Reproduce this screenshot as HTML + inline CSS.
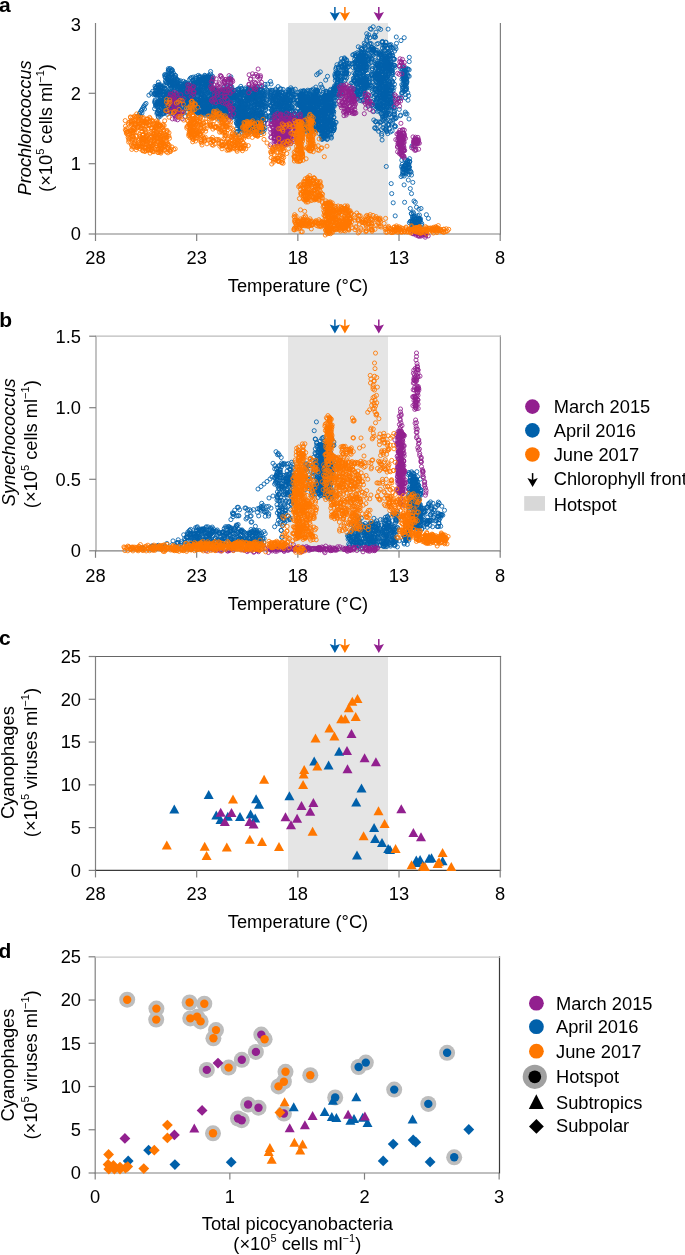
<!DOCTYPE html><html><head><meta charset="utf-8"><style>html,body{margin:0;padding:0;background:#fff}svg{display:block;will-change:transform}text{font-family:"Liberation Sans", sans-serif;fill:#000}</style></head><body>
<svg width="685" height="1255" viewBox="0 0 685 1255">
<rect x="288" y="23" width="100" height="211" fill="#E5E5E5"/>
<line x1="95.50" y1="23.00" x2="95.50" y2="234.60" stroke="#808080" stroke-width="1.2"/>
<line x1="94.90" y1="234.00" x2="501.00" y2="234.00" stroke="#808080" stroke-width="1.2"/>
<line x1="500.40" y1="23.00" x2="500.40" y2="234.60" stroke="#808080" stroke-width="1.2"/>
<line x1="88.70" y1="234.00" x2="95.50" y2="234.00" stroke="#808080" stroke-width="1.2"/>
<text x="81.00" y="240.30" font-size="18.3" text-anchor="end" >0</text>
<line x1="88.70" y1="163.70" x2="95.50" y2="163.70" stroke="#808080" stroke-width="1.2"/>
<text x="81.00" y="170.00" font-size="18.3" text-anchor="end" >1</text>
<line x1="88.70" y1="93.30" x2="95.50" y2="93.30" stroke="#808080" stroke-width="1.2"/>
<text x="81.00" y="99.60" font-size="18.3" text-anchor="end" >2</text>
<text x="81.00" y="30.60" font-size="18.3" text-anchor="end" >3</text>
<line x1="95.50" y1="234.00" x2="95.50" y2="241.00" stroke="#808080" stroke-width="1.2"/>
<text x="95.50" y="263.60" font-size="18.3" text-anchor="middle" >28</text>
<line x1="196.68" y1="234.00" x2="196.68" y2="241.00" stroke="#808080" stroke-width="1.2"/>
<text x="196.68" y="263.60" font-size="18.3" text-anchor="middle" >23</text>
<line x1="297.85" y1="234.00" x2="297.85" y2="241.00" stroke="#808080" stroke-width="1.2"/>
<text x="297.85" y="263.60" font-size="18.3" text-anchor="middle" >18</text>
<line x1="399.02" y1="234.00" x2="399.02" y2="241.00" stroke="#808080" stroke-width="1.2"/>
<text x="399.02" y="263.60" font-size="18.3" text-anchor="middle" >13</text>
<line x1="500.20" y1="234.00" x2="500.20" y2="241.00" stroke="#808080" stroke-width="1.2"/>
<text x="500.20" y="263.60" font-size="18.3" text-anchor="middle" >8</text>
<text x="298.00" y="291.60" font-size="18.3" text-anchor="middle" >Temperature (°C)</text>
<line x1="334.9" y1="7" x2="334.9" y2="15.0" stroke="#0060AA" stroke-width="1.5"/>
<path d="M329.70,12.00 L334.90,13.80 L340.10,12.00 L334.90,21.00 Z" fill="#0060AA"/>
<line x1="344.9" y1="7" x2="344.9" y2="15.0" stroke="#FF7700" stroke-width="1.5"/>
<path d="M339.70,12.00 L344.90,13.80 L350.10,12.00 L344.90,21.00 Z" fill="#FF7700"/>
<line x1="378.8" y1="7" x2="378.8" y2="15.0" stroke="#92208F" stroke-width="1.5"/>
<path d="M373.60,12.00 L378.80,13.80 L384.00,12.00 L378.80,21.00 Z" fill="#92208F"/>
<marker id="maB" viewBox="-3 -3 6 6" markerWidth="6" markerHeight="6" refX="0" refY="0" markerUnits="userSpaceOnUse" overflow="visible"><circle r="2.05" fill="none" stroke="#0060AA" stroke-width="0.85"/></marker>
<polyline points="138.6,115.8 139.5,113.5 140.5,112.0 141.3,110.5 142.3,109.0 143.2,107.5 144.0,106.0 145.0,104.6 146.0,103.4 140.5,116.0 142.0,113.0 144.5,109.0 152.6,91.4 151.1,93.4 148.9,95.2 153.8,94.7 156.3,95.3 154.6,93.8 160.9,114.5 157.4,112.4 155.4,88.0 161.2,108.7 162.5,109.3 164.1,89.0 154.6,102.2 158.6,88.6 156.6,90.7 158.7,84.6 165.2,111.2 159.3,104.1 155.8,105.2 160.3,116.2 162.7,101.8 164.9,91.8 160.8,100.3 158.6,88.1 155.1,101.0 164.4,99.4 155.6,94.6 161.9,101.5 163.2,94.5 157.9,104.2 163.4,95.6 162.3,104.3 158.2,95.1 160.2,87.1 155.8,106.5 159.8,90.7 156.8,86.7 162.2,103.6 160.6,90.0 158.7,110.3 156.7,92.9 158.0,85.3 160.8,84.9 162.7,94.8 157.3,89.8 158.6,117.4 155.1,100.0 159.7,99.7 160.8,101.8 158.3,82.2 159.0,109.7 159.3,87.0 157.6,102.0 165.6,89.1 159.8,91.3 156.9,92.6 157.6,106.3 165.9,112.4 165.1,105.8 164.1,85.9 163.4,102.3 158.2,116.3 160.4,104.3 163.8,113.2 163.1,113.8 162.7,97.7 159.6,103.5 162.9,95.2 161.0,103.6 157.7,112.8 158.9,103.9 157.9,102.2 162.7,91.5 161.1,107.9 156.8,104.1 157.3,95.1 162.2,105.6 162.9,99.3 165.1,105.8 159.4,104.0 157.3,94.3 155.6,94.6 158.0,102.9 155.0,86.3 158.6,92.8 155.3,90.6 160.4,97.7 156.9,104.7 162.8,87.8 163.4,90.8 161.2,98.0 164.3,94.3 155.6,104.5 164.4,88.2 154.5,93.5 162.4,114.0 159.7,85.1 163.1,92.2 162.4,100.3 158.7,110.9 164.4,112.1 164.6,109.9 162.2,102.7 161.3,100.2 164.7,107.8 158.6,114.3 158.3,94.5 159.5,101.1 156.7,87.9 159.7,99.8 157.1,106.1 161.7,91.6 161.8,88.3 162.1,101.3 163.7,106.9 156.1,87.5 161.6,104.5 162.2,103.9 162.8,103.7 160.2,91.8 160.8,98.1 159.3,103.6 167.3,114.3 163.2,109.0 157.4,103.7 156.9,113.6 163.3,93.0 161.1,90.6 161.2,86.9 158.7,89.7 159.4,103.6 159.1,87.1 165.2,96.2 164.9,97.9 161.5,86.5 157.9,93.3 158.7,92.3 159.8,113.7 155.2,103.0 158.7,92.7 163.2,113.0 154.6,108.7 160.4,109.6 157.5,85.5 165.2,102.0 158.3,111.2 160.1,94.9 172.2,100.6 169.9,81.0 178.6,102.4 177.3,84.3 172.1,109.5 171.9,99.8 170.9,104.6 165.8,82.4 175.4,110.0 167.4,93.6 168.1,98.3 168.3,108.1 179.3,102.6 165.3,77.5 177.7,98.1 175.0,111.5 172.2,110.0 168.7,74.9 171.5,87.1 173.9,84.2 171.1,71.6 168.5,111.8 169.1,103.0 176.3,103.1 178.5,106.1 171.0,100.2 176.0,102.4 173.7,107.9 165.4,80.9 169.1,104.5 169.5,100.1 178.8,106.7 179.6,91.0 178.4,112.4 180.3,99.1 180.5,98.3 169.2,110.9 174.5,96.7 171.0,79.8 177.4,112.7 166.9,78.4 171.3,112.6 172.6,84.5 174.2,109.5 164.9,76.4 176.7,99.4 173.7,83.8 177.4,99.8 170.2,89.0 170.8,108.2 165.7,84.7 168.0,93.9 168.9,73.1 174.8,83.7 175.3,102.5 177.5,111.2 168.8,78.7 171.3,88.0 178.0,80.6 169.3,102.4 166.1,100.5 176.6,97.4 170.3,109.0 172.6,105.4 177.5,87.2 169.6,105.8 172.9,111.0 167.8,104.9 171.2,81.5 174.9,102.6 167.2,79.0 173.0,83.2 175.3,77.2 176.3,85.5 177.1,104.0 170.6,99.7 174.5,107.2 171.2,74.6 171.0,82.2 179.7,101.8 178.8,108.5 177.7,110.6 169.8,106.9 176.2,81.7 171.7,106.1 174.8,97.5 173.3,85.7 175.7,110.7 174.1,87.0 166.1,97.8 171.8,78.7 177.5,98.9 177.9,102.2 177.7,112.6 173.5,109.2 177.4,103.0 166.4,106.4 175.2,111.8 173.0,92.0 173.2,76.6 168.9,80.7 170.2,68.4 170.1,97.7 167.3,107.7 174.7,87.7 171.9,70.8 174.8,85.1 168.1,97.0 166.5,105.0 178.8,85.8 177.6,109.5 166.5,94.4 168.3,102.9 178.2,80.8 176.2,104.6 169.7,85.0 166.8,96.4 173.9,109.7 172.2,73.3 171.6,74.0 174.4,87.2 176.9,92.0 166.7,86.2 170.8,103.2 166.3,100.0 174.3,94.6 178.3,111.6 169.5,98.3 170.8,93.1 173.1,93.9 179.6,87.3 169.4,104.0 178.8,89.2 176.9,112.9 168.8,76.1 173.6,81.9 170.1,81.7 168.5,80.6 179.3,86.7 177.4,85.4 166.1,109.8 168.7,94.1 176.0,99.4 168.7,82.5 170.3,85.0 172.6,93.2 171.2,106.9 171.4,91.3 169.3,111.4 171.0,101.4 174.1,83.0 168.2,71.0 172.1,98.8 173.0,109.3 170.7,83.1 177.4,88.3 174.7,80.3 174.0,77.4 166.7,82.0 178.5,104.9 171.9,74.3 172.2,112.7 169.3,77.2 179.5,87.4 168.0,98.4 168.1,96.6 177.5,96.2 175.4,106.5 172.1,85.9 168.6,102.0 168.5,77.2 180.8,91.4 169.6,99.1 177.9,87.2 177.0,103.0 174.5,106.4 169.4,100.6 172.0,93.1 166.3,99.7 166.3,74.9 170.1,74.0 168.3,92.4 171.9,69.5 175.2,75.5 172.8,105.9 170.4,102.1 172.0,83.6 178.3,92.3 175.5,94.1 169.6,80.4 178.2,111.3 173.3,80.4 174.8,91.3 179.6,99.6 175.3,94.4 171.9,109.1 175.6,75.5 164.7,74.7 168.5,92.5 177.7,82.0 171.6,81.1 176.6,98.3 177.5,82.7 173.1,108.8 169.2,96.8 173.9,86.1 178.5,105.0 179.5,94.9 170.8,84.9 170.0,107.2 168.4,68.7 170.9,82.0 165.1,74.9 166.9,82.4 172.0,86.9 176.9,95.7 177.1,79.7 170.4,101.2 177.2,79.4 169.1,92.3 174.9,101.4 172.5,85.1 167.4,105.4 175.6,98.8 179.9,92.9 169.0,111.6 178.0,103.2 178.2,96.7 167.4,91.2 172.7,108.2 170.9,71.0 170.4,91.8 172.4,70.4 179.1,81.3 167.8,77.3 173.3,102.3 173.8,97.6 174.4,79.1 180.2,93.5 173.5,73.1 168.2,79.4 173.7,83.2 171.9,79.9 179.3,100.8 175.4,78.0 174.4,101.4 172.3,100.6 181.1,91.1 173.0,111.2 176.6,100.4 174.3,82.0 171.1,113.5 169.3,69.8 167.4,79.9 167.0,75.2 174.1,97.6 171.9,80.0 173.2,104.1 179.5,95.1 175.3,112.9 177.8,99.1 174.4,111.7 175.9,99.1 176.2,86.8 172.8,96.8 168.4,70.1 169.8,98.9 168.9,92.6 171.0,96.4 173.9,100.1 176.5,82.6 187.0,90.8 185.7,103.2 186.3,105.2 186.8,90.7 183.9,83.9 190.1,87.6 186.9,99.6 184.5,102.9 185.7,99.0 183.4,81.3 194.0,105.2 192.6,102.3 182.0,102.8 185.7,97.5 182.0,98.5 180.0,92.0 189.8,87.1 187.9,92.8 186.0,83.7 180.8,88.1 188.0,88.2 189.2,96.5 189.0,88.0 187.0,88.8 182.6,93.5 184.4,88.6 181.8,86.5 181.2,94.8 183.3,92.1 181.8,105.6 183.7,90.5 179.8,83.7 184.9,104.2 183.7,90.5 179.7,97.7 184.9,83.8 191.4,99.1 187.9,84.4 189.2,84.6 179.5,87.8 188.6,87.1 188.3,100.3 184.8,102.5 192.4,84.2 185.9,91.4 186.8,103.8 181.0,87.7 184.4,93.2 178.8,83.7 185.4,82.3 188.6,91.0 185.5,82.6 184.7,85.2 179.7,94.4 180.7,99.1 188.1,96.1 184.3,96.1 180.2,94.2 187.5,102.0 185.2,100.9 187.4,97.7 186.5,99.6 180.8,89.6 180.7,87.8 189.2,90.6 188.4,102.3 184.4,94.2 182.8,92.9 180.3,92.0 183.0,94.6 183.4,88.2 187.0,84.7 191.5,88.1 188.3,85.3 182.3,94.1 191.4,100.6 187.6,104.6 181.2,84.2 191.6,101.1 183.9,98.0 179.6,94.2 184.9,89.8 187.1,92.0 182.7,94.7 193.0,87.8 188.0,93.7 181.4,89.5 187.7,90.7 182.1,91.6 189.9,88.2 187.9,97.9 190.3,86.6 182.1,104.3 180.5,80.8 188.5,102.1 183.4,90.7 185.3,102.8 190.0,88.5 187.9,96.8 185.0,92.1 183.5,86.2 187.9,83.6 189.0,94.0 189.1,89.8 183.3,97.1 186.6,84.3 184.9,100.6 185.9,93.9 191.1,87.3 189.7,94.4 183.9,89.6 181.7,85.8 189.0,100.5 183.3,85.1 189.8,99.3 189.8,95.8 190.9,86.4 186.9,96.5 187.6,92.9 187.6,98.1 188.0,88.5 193.1,88.0 188.2,87.2 188.4,102.2 193.9,101.0 191.6,88.0 187.4,85.0 184.4,88.6 182.9,88.9 186.6,102.0 181.7,102.2 190.5,94.3 183.3,89.6 189.6,101.2 182.9,86.4 184.4,86.3 183.0,94.1 186.1,86.9 190.8,109.7 181.8,106.7 187.0,112.3 185.5,108.3 192.6,105.7 182.3,111.5 183.0,106.6 190.7,108.0 187.8,111.9 179.5,107.9 182.3,112.6 184.3,103.9 186.5,106.7 189.1,115.8 185.2,116.6 192.0,104.3 191.8,109.8 182.9,111.7 187.0,108.8 190.7,109.5 193.5,99.9 200.8,90.7 204.6,96.4 201.4,96.6 198.1,86.5 199.2,81.6 196.6,82.5 192.6,104.1 192.9,98.7 210.7,93.0 199.8,93.1 199.9,76.2 203.3,78.5 201.0,104.8 205.1,77.4 198.2,110.9 207.9,103.3 208.2,77.1 200.9,114.3 205.2,108.7 204.0,103.7 198.9,101.6 199.5,77.3 201.8,95.4 204.4,102.7 203.8,106.1 199.0,103.2 201.6,94.2 198.8,80.6 198.6,89.8 198.9,112.6 199.3,91.0 202.3,102.7 196.7,98.8 193.0,106.9 209.5,80.1 195.2,108.3 191.8,102.7 196.7,107.5 208.7,99.8 203.2,108.0 191.5,110.7 203.9,113.8 202.1,100.6 208.7,98.6 205.8,78.0 197.8,85.7 207.0,91.9 192.1,107.3 196.1,78.6 203.6,107.6 198.2,81.3 202.9,89.1 192.9,84.5 192.9,92.2 192.9,101.6 201.3,107.8 198.8,83.2 205.0,75.9 194.5,93.3 207.6,104.1 199.7,90.5 207.9,80.9 205.3,110.2 196.1,92.0 207.4,103.1 205.1,111.2 194.1,83.7 206.4,77.2 198.0,91.2 207.6,76.9 200.9,90.2 193.8,91.6 192.7,105.3 205.4,94.5 206.5,110.4 196.9,110.7 198.2,105.8 194.6,85.5 200.3,105.1 192.3,99.5 207.9,99.2 200.8,108.3 198.7,112.6 206.8,102.1 196.8,86.9 198.7,77.1 198.6,99.5 209.2,110.2 201.0,112.0 207.6,87.9 194.5,84.1 205.6,100.9 197.9,90.5 201.3,97.4 200.3,82.7 204.4,94.2 198.4,82.4 208.1,113.4 200.1,92.0 207.0,108.6 200.9,98.2 197.3,88.4 194.8,88.8 204.1,100.8 193.9,82.8 206.4,105.3 197.7,91.7 205.4,109.4 206.4,112.7 207.5,106.3 205.7,93.5 202.6,79.4 193.8,109.7 205.8,112.3 196.1,92.2 208.6,101.1 207.2,112.0 206.2,89.1 198.0,112.8 193.5,103.8 205.2,98.6 201.0,109.2 199.0,79.1 205.0,115.3 195.7,76.7 193.4,106.1 198.1,82.5 203.8,111.8 202.9,101.0 199.0,95.5 192.6,108.0 191.3,77.6 206.6,106.2 190.9,82.8 203.0,112.4 195.3,88.9 204.0,107.0 203.0,84.5 203.0,99.0 201.9,93.5 198.5,103.4 194.6,94.0 192.1,94.3 202.0,87.1 194.1,89.5 202.2,82.9 204.2,108.1 194.2,87.8 196.8,107.2 193.4,90.0 202.2,80.7 192.5,86.3 205.7,101.3 202.4,99.7 200.7,112.9 206.6,85.8 203.9,98.7 208.5,109.6 207.2,108.0 194.1,88.2 193.8,109.1 198.7,101.9 193.5,89.2 201.8,112.7 195.6,111.9 198.7,84.0 204.5,103.5 200.6,79.3 194.3,105.9 207.2,111.7 203.8,106.1 209.0,84.1 193.5,84.3 205.0,85.6 194.8,98.4 205.8,86.1 205.1,79.9 198.3,104.0 204.6,103.7 202.3,84.3 195.1,108.7 197.2,100.8 203.6,78.9 203.4,102.2 197.2,95.8 205.6,83.1 207.0,78.9 208.8,79.8 196.1,108.6 195.9,111.6 200.0,79.5 193.3,82.6 196.3,99.8 207.4,89.6 205.3,91.1 211.5,111.7 201.5,83.2 207.4,107.3 204.9,98.7 195.2,83.0 200.8,94.2 195.7,99.7 204.3,85.1 205.2,106.8 196.3,114.3 209.7,105.9 205.8,85.5 198.4,86.5 193.8,108.0 203.6,83.7 202.6,107.1 204.7,96.4 191.4,105.5 193.2,77.1 205.5,78.7 202.8,83.2 199.6,83.4 192.6,94.1 206.5,99.9 193.5,90.3 203.4,101.4 195.0,107.7 203.0,103.7 204.2,88.2 203.2,78.7 198.4,92.7 200.5,101.4 198.2,100.2 197.9,86.4 207.3,107.7 205.0,100.5 205.1,99.9 207.7,91.8 198.6,107.2 204.1,80.6 201.1,80.7 207.8,109.4 194.7,101.0 205.2,97.3 197.5,103.9 207.2,89.7 194.3,97.1 208.3,76.9 198.6,89.2 202.3,93.7 204.5,99.7 199.9,80.1 206.2,110.8 201.2,103.3 198.4,87.4 207.2,93.8 199.2,105.8 194.7,91.9 208.3,110.9 192.9,80.4 197.5,112.8 204.3,103.4 203.5,83.7 193.5,99.9 206.4,79.8 207.2,84.0 197.8,102.5 195.8,106.7 195.1,78.2 196.9,97.3 202.6,106.5 197.3,91.6 191.6,109.9 204.6,77.3 199.5,91.2 201.3,95.1 202.0,103.9 200.8,87.5 208.7,106.8 208.8,96.3 190.5,78.2 200.8,113.1 202.3,83.0 198.9,103.1 203.4,96.1 201.6,112.5 200.4,108.5 205.2,109.2 203.9,111.3 194.7,88.9 208.4,100.8 205.4,111.4 203.6,103.6 206.2,92.8 209.1,96.1 192.7,80.4 200.1,96.4 196.0,109.5 191.4,103.6 199.1,91.5 202.3,83.4 208.3,86.5 205.3,91.1 194.7,79.9 204.6,114.3 195.4,81.4 193.9,93.3 205.6,107.2 206.3,113.6 205.3,81.7 201.0,97.8 197.5,107.9 205.6,76.8 202.4,90.3 204.0,81.1 201.4,105.5 203.7,86.9 204.8,87.2 200.7,89.5 198.2,84.5 201.7,83.4 209.3,104.2 200.2,77.3 191.8,92.5 208.2,78.9 199.8,91.4 193.4,86.3 201.8,84.9 199.7,113.8 203.3,103.3 204.5,98.1 203.5,76.9 203.1,86.7 208.1,77.1 189.6,79.4 198.3,75.4 194.0,104.5 204.7,75.3 209.2,82.9 211.1,84.6 211.7,82.1 207.3,77.9 206.5,83.6 210.6,71.5 210.6,81.7 206.4,86.4 210.5,88.1 207.6,78.9 207.8,77.1 205.8,81.0 209.2,86.5 211.0,80.7 206.9,81.3 210.0,83.0 211.5,77.4 206.8,86.1 212.4,76.1 208.5,86.1 208.6,75.4 211.8,79.8 210.5,74.0 211.3,80.2 211.4,77.7 210.2,85.2 211.6,82.1 209.5,78.7 212.0,80.1 208.3,83.8 211.0,83.6 209.3,76.4 210.8,77.3 210.8,81.0 235.1,113.8 212.8,106.1 221.1,92.5 231.3,97.4 217.9,98.5 222.5,114.8 224.6,104.8 218.8,113.9 214.3,91.2 210.0,100.5 219.4,114.0 214.8,113.5 229.1,105.9 208.9,99.7 213.4,102.5 220.3,102.0 210.9,111.3 224.9,111.8 221.1,95.1 218.8,111.5 223.9,113.7 213.9,117.6 218.0,96.7 219.8,112.4 232.2,94.9 210.3,95.0 223.8,106.5 236.7,96.0 231.4,108.0 235.6,97.6 214.5,93.3 223.3,97.5 221.2,91.0 231.8,99.2 221.7,93.1 223.5,90.9 218.6,117.2 217.9,97.1 231.1,98.1 220.4,106.1 236.4,113.6 215.1,109.9 218.3,93.5 227.5,116.2 211.0,98.8 229.4,102.8 219.8,100.7 221.5,100.6 224.3,89.7 217.4,114.3 215.7,95.3 221.5,112.6 217.6,100.1 231.6,97.4 207.9,102.1 216.8,99.9 208.7,111.4 219.2,107.4 230.8,116.3 214.7,93.9 226.7,110.4 223.1,114.7 209.2,111.2 232.1,116.3 224.0,90.5 215.8,103.7 232.0,107.3 215.1,113.4 219.2,102.2 225.4,100.9 216.3,91.5 216.0,113.1 230.8,91.3 214.6,115.9 221.2,111.2 220.5,113.5 223.7,93.1 215.7,109.0 224.0,102.0 224.4,103.1 223.8,95.4 215.2,96.8 220.8,104.1 220.8,106.5 211.0,112.1 236.2,109.5 212.1,101.0 228.7,108.6 235.8,92.5 214.5,111.0 211.6,103.4 233.6,101.7 213.0,117.1 226.4,103.6 229.4,99.4 213.6,98.8 224.9,100.8 234.2,96.9 216.1,108.0 222.6,91.1 228.4,95.1 229.7,86.6 230.7,107.9 223.7,104.6 211.9,94.6 225.7,112.8 223.6,106.5 210.4,101.8 211.8,116.2 231.0,107.0 235.0,94.7 229.4,109.2 224.2,108.2 230.3,103.7 213.6,108.5 235.8,112.8 219.5,96.9 232.9,92.6 213.7,102.9 225.3,114.1 216.7,108.6 224.1,107.2 209.5,91.3 219.9,115.1 228.2,115.1 234.0,99.7 224.5,89.9 232.9,112.0 231.4,95.6 220.5,101.4 226.1,100.5 219.8,99.2 210.0,110.4 217.1,98.4 211.9,92.0 209.0,106.5 212.5,109.5 216.1,95.3 232.2,90.1 224.2,116.0 223.5,104.6 218.2,109.3 222.4,98.0 211.2,94.6 223.5,109.3 212.5,106.8 220.0,106.1 229.2,109.4 233.8,95.1 225.9,109.6 213.2,92.8 232.4,111.0 227.4,115.7 220.4,107.6 213.2,94.0 223.8,110.6 229.2,100.1 211.2,102.8 233.3,114.3 226.4,107.3 225.5,90.3 224.9,109.4 228.2,117.1 212.0,106.0 233.4,97.6 232.8,106.0 235.0,90.5 234.1,116.9 222.3,96.7 229.4,92.1 215.9,101.4 221.9,109.1 223.3,117.0 226.3,106.4 216.3,107.9 218.7,99.8 221.0,112.5 224.9,90.5 219.7,115.8 215.1,92.3 234.3,97.0 236.5,96.6 213.1,110.6 219.9,97.9 213.9,89.1 217.5,105.9 236.0,96.0 220.7,93.3 233.2,97.5 224.6,96.7 212.6,114.2 222.0,102.9 230.4,112.5 227.9,91.3 210.3,98.5 217.6,93.1 210.0,106.1 233.6,103.5 232.7,104.3 220.6,106.9 211.1,102.4 231.6,117.7 217.1,91.2 224.9,111.4 211.4,112.2 224.9,113.1 232.3,92.8 234.5,94.3 222.5,101.3 221.7,109.1 234.3,116.1 216.8,93.4 225.8,91.8 214.4,89.2 232.4,106.5 221.1,118.7 225.6,108.3 230.5,109.5 222.5,97.3 219.3,119.1 213.2,104.8 212.1,105.0 213.5,110.5 223.6,96.4 234.1,90.3 211.7,97.5 228.2,96.7 225.3,95.9 208.6,114.1 208.9,107.8 210.4,109.1 235.0,115.1 211.7,97.7 214.2,104.2 228.8,95.1 235.7,96.1 219.0,111.7 238.0,109.9 214.4,92.4 231.0,110.4 219.8,115.1 226.5,91.9 229.9,111.7 237.0,98.3 234.3,113.6 219.4,90.9 219.0,97.5 213.2,110.1 231.8,104.1 234.7,115.9 237.2,99.9 225.4,96.6 217.4,112.6 217.4,92.6 216.3,112.1 219.9,115.5 235.2,106.7 225.0,103.1 231.7,88.9 216.9,90.7 212.5,105.0 216.0,98.4 224.0,100.4 213.6,93.4 211.8,89.7 231.2,114.5 221.0,105.1 214.2,114.9 223.2,98.0 211.8,100.4 226.2,95.9 208.6,104.9 233.2,109.5 232.9,113.7 216.2,91.8 216.5,99.5 229.3,100.6 229.2,91.5 215.4,116.0 226.3,95.1 217.9,90.0 215.7,100.9 232.9,106.2 221.7,97.8 217.0,92.6 228.5,102.0 223.5,92.3 211.2,113.8 215.4,106.9 215.2,90.1 209.1,100.9 225.5,108.1 231.2,115.0 216.9,110.2 221.6,94.8 222.1,103.9 211.6,108.9 234.1,98.5 214.1,113.5 236.9,96.5 212.7,117.3 210.0,116.7 209.3,103.6 231.8,96.4 213.8,97.7 221.7,113.1 223.5,103.3 222.8,92.8 226.1,112.6 214.0,88.0 224.6,104.3 225.5,113.4 223.2,99.9 226.4,101.7 229.0,96.9 227.3,97.2 226.0,114.5 216.5,99.5 210.6,112.3 211.9,97.4 237.8,115.1 234.2,94.1 231.4,108.0 226.6,107.5 209.1,115.7 228.9,101.8 208.8,103.3 219.5,98.7 219.2,96.3 215.9,109.8 213.5,90.0 232.2,109.2 219.3,104.2 233.8,103.7 221.9,112.5 234.0,108.2 220.4,108.8 229.9,100.2 219.0,104.4 212.5,95.7 211.1,110.0 210.8,90.4 219.9,111.8 208.1,110.7 226.9,109.1 226.3,94.9 235.2,95.0 226.3,116.3 221.4,91.0 221.2,114.4 222.4,99.4 221.5,92.0 218.8,111.1 213.8,89.9 230.5,92.7 227.5,99.3 226.9,103.5 223.9,92.8 219.9,104.7 226.4,90.3 234.4,115.2 229.1,99.9 213.3,89.5 229.7,101.5 230.7,108.5 217.8,104.3 236.8,99.5 230.2,97.5 224.3,97.7 234.2,97.4 226.9,93.0 225.3,101.3 213.2,114.7 226.7,85.6 228.4,81.5 224.4,86.4 225.8,87.0 231.8,87.0 230.7,85.8 230.3,78.5 230.8,76.8 260.0,131.2 238.2,121.5 245.8,130.0 251.5,102.2 261.7,123.9 247.3,91.1 243.2,126.5 245.6,95.7 254.5,105.8 242.7,115.0 257.5,107.0 250.3,126.3 254.2,90.6 254.1,125.9 244.0,115.2 250.4,128.9 258.0,113.4 261.7,122.9 244.0,98.9 245.6,100.4 239.5,125.4 241.9,130.4 251.0,114.9 243.3,103.6 252.9,123.8 256.2,98.3 261.3,95.9 254.4,125.5 260.4,116.5 244.6,113.4 261.6,95.7 244.7,106.8 241.3,94.3 249.9,129.8 252.0,92.4 251.3,93.2 261.8,121.4 242.0,105.8 261.0,113.0 240.1,122.2 259.8,124.8 253.9,131.8 256.9,93.5 261.4,98.9 241.9,103.0 244.3,118.5 248.7,115.5 238.7,100.1 249.8,123.9 253.5,127.6 253.1,115.6 255.7,116.9 245.3,104.6 248.8,114.5 240.4,123.4 249.2,93.5 238.0,89.3 241.6,108.7 265.0,127.5 240.9,93.3 244.9,109.4 238.2,103.8 247.8,87.8 243.0,113.7 253.4,94.5 238.2,99.5 262.8,105.0 250.1,95.5 262.0,100.9 247.2,117.8 249.5,98.5 258.1,88.8 240.1,109.1 262.7,98.8 242.7,120.7 248.5,121.8 237.2,94.0 262.6,127.6 242.2,113.1 244.4,108.9 237.6,123.6 259.4,94.9 245.9,112.5 242.0,88.6 248.8,118.2 249.8,132.3 249.2,88.0 262.7,108.5 238.1,124.2 253.4,128.8 256.1,109.8 258.4,100.2 252.4,98.6 245.2,103.7 245.9,97.5 263.4,129.0 246.6,96.6 263.7,93.8 235.7,106.4 248.9,118.7 252.1,115.6 238.7,121.0 247.6,128.4 241.8,89.9 256.1,130.2 254.0,114.0 239.2,93.8 255.2,102.9 251.8,128.2 237.5,111.1 239.1,88.3 248.0,115.8 260.7,119.3 260.2,113.4 241.4,111.8 260.8,112.7 253.7,119.7 252.4,97.6 237.3,131.8 255.8,113.5 254.1,90.4 238.9,124.2 254.8,96.7 255.3,116.2 256.8,98.4 238.8,90.2 236.4,132.5 253.5,119.9 241.6,88.5 254.1,97.5 239.8,106.5 255.0,89.9 247.6,122.0 247.6,100.3 253.1,124.7 237.9,99.1 249.0,94.9 250.1,109.2 260.3,113.2 248.0,117.5 239.6,102.7 241.5,126.3 255.2,118.3 242.9,105.4 246.0,111.9 262.9,106.6 245.6,104.6 254.1,110.6 256.1,92.6 236.7,128.9 241.3,129.1 250.3,94.6 238.6,134.4 244.5,111.9 245.4,89.5 237.5,92.5 242.2,113.6 262.9,131.6 262.3,120.5 248.5,104.2 248.8,91.1 259.1,123.5 241.4,101.2 248.2,89.0 247.0,108.1 242.7,120.5 246.6,93.8 258.2,103.4 261.1,89.7 252.5,110.1 247.6,104.0 246.9,126.3 254.7,123.3 238.7,108.1 257.2,93.0 243.1,116.2 263.2,119.8 250.8,95.6 264.3,122.8 264.1,94.2 259.7,86.3 239.9,127.2 241.3,104.0 250.0,107.0 249.2,95.4 248.6,130.3 237.8,117.8 258.6,104.5 261.4,89.1 259.2,96.5 240.9,123.0 244.7,124.5 253.8,96.2 263.6,115.6 246.1,126.0 252.7,95.2 260.7,102.0 261.6,105.8 260.7,116.8 245.3,114.1 259.6,115.4 260.9,123.2 238.7,116.8 239.2,109.1 250.2,131.9 250.1,90.2 238.9,118.4 239.8,97.8 247.9,100.3 261.1,132.4 242.5,111.0 247.6,90.9 246.8,116.0 251.8,121.2 257.6,92.4 254.6,108.4 239.5,108.3 248.8,96.0 240.8,86.4 255.1,88.9 247.0,127.9 248.8,118.6 235.2,116.5 240.9,118.6 257.8,123.7 243.9,97.9 238.5,111.8 257.3,125.6 236.7,104.4 256.7,112.7 242.9,116.5 249.0,120.5 251.8,96.9 264.3,130.1 256.8,91.3 254.7,93.6 240.3,101.5 263.1,95.7 246.3,98.3 259.5,124.4 244.5,119.3 261.1,123.5 243.6,101.4 237.1,131.5 254.2,131.1 243.2,92.1 237.3,106.3 255.5,92.2 259.2,115.1 260.5,90.2 241.1,118.3 252.5,114.2 239.4,122.8 239.6,91.9 246.1,121.3 249.5,103.6 240.6,119.6 259.8,100.6 254.7,126.5 241.6,132.2 254.9,113.2 252.3,99.2 243.8,104.6 258.8,124.1 239.4,119.4 248.4,106.9 264.6,105.2 258.9,89.6 238.8,113.2 247.3,131.3 244.0,106.1 251.0,106.2 249.0,130.2 249.7,88.9 240.2,98.8 257.0,89.9 254.2,111.2 246.5,106.9 237.6,113.3 256.1,127.5 244.6,114.1 264.3,87.0 265.9,119.5 257.3,97.4 240.4,129.5 245.3,95.2 245.9,93.2 238.7,126.0 238.3,115.5 241.9,91.3 237.0,89.6 262.7,98.4 252.2,102.6 236.1,121.4 253.2,97.1 262.4,92.5 245.3,125.0 239.0,94.4 266.0,120.1 237.7,125.8 256.8,92.9 254.9,120.5 235.7,111.9 254.2,104.5 242.3,115.0 253.4,123.5 254.5,112.1 247.5,130.0 258.7,128.3 258.6,99.6 251.4,113.2 240.7,101.8 262.0,128.7 235.8,114.4 248.7,97.1 245.0,118.7 251.7,102.8 261.0,115.1 249.8,101.5 241.0,128.2 245.8,87.9 259.8,108.3 257.1,106.8 262.1,96.6 256.7,93.0 259.2,110.1 247.7,100.7 247.4,120.3 256.6,89.8 254.7,126.9 251.2,107.0 237.9,120.4 238.3,108.0 248.4,119.9 239.7,112.8 241.5,124.5 240.6,117.7 240.3,106.5 250.0,113.7 238.4,101.5 247.7,112.0 246.8,102.3 256.0,114.4 247.0,97.4 253.1,119.8 237.7,107.4 245.2,104.0 258.6,117.3 259.3,95.8 243.6,91.8 236.8,123.2 246.3,117.3 247.2,109.1 244.2,119.7 249.5,118.4 262.9,91.5 259.7,129.3 258.1,104.8 244.5,117.1 254.8,101.6 252.6,112.1 259.7,112.4 259.8,129.6 246.1,111.5 255.5,128.6 262.2,93.0 263.9,102.5 248.2,128.5 242.8,117.9 250.0,126.0 237.1,119.3 242.2,94.5 259.9,127.3 247.5,126.0 261.7,110.6 258.9,101.0 248.5,89.2 245.9,126.5 241.0,126.7 254.2,108.1 246.3,129.0 256.6,104.1 245.1,126.4 257.7,95.6 251.9,121.9 239.4,120.3 239.2,111.8 243.6,110.4 262.4,94.1 259.5,94.3 247.5,128.9 251.5,116.8 257.5,115.4 259.0,115.2 242.1,118.6 251.0,92.0 244.9,101.9 241.7,101.4 249.6,128.8 251.8,97.3 257.3,110.9 241.1,92.8 243.7,99.8 261.0,117.0 256.8,107.1 248.3,106.4 261.3,102.4 259.9,103.2 255.5,121.8 235.9,106.8 252.8,115.2 242.8,105.9 260.8,122.7 240.1,127.3 254.5,98.5 260.9,127.8 258.1,131.9 242.4,125.0 263.4,116.6 240.9,106.6 255.4,98.6 243.6,130.4 239.3,113.5 262.1,93.9 241.3,118.2 243.9,110.0 249.0,123.5 254.5,125.4 249.5,118.3 240.6,97.4 248.5,130.0 254.0,104.5 242.5,98.2 241.0,110.1 259.7,114.9 235.5,105.7 262.6,128.1 263.2,100.7 251.4,92.1 257.3,103.8 256.1,130.7 250.5,107.9 255.0,129.2 261.7,103.4 260.7,125.7 239.8,106.7 250.9,107.3 236.7,114.3 257.3,107.6 244.1,122.1 258.5,107.5 239.4,100.9 248.8,100.3 254.9,93.4 241.2,92.8 251.8,119.4 243.2,98.6 260.6,105.0 260.5,89.9 251.7,127.9 252.0,98.6 239.9,117.1 256.3,127.7 261.1,119.5 255.3,110.3 249.2,91.1 249.0,126.6 264.4,98.5 246.2,123.0 241.5,108.8 262.1,104.4 249.3,114.3 257.5,105.4 255.5,115.1 243.2,110.2 249.9,121.0 245.0,106.3 240.9,106.1 238.2,105.2 251.8,109.6 248.5,120.3 255.4,89.4 243.1,110.8 254.1,129.2 246.9,100.1 264.4,94.6 236.8,114.1 257.4,96.5 240.1,110.2 242.8,92.9 250.5,129.2 266.4,89.5 259.1,120.7 236.5,123.4 241.4,114.6 262.8,91.2 247.5,95.6 246.0,117.9 259.4,130.0 248.8,127.8 243.0,108.7 254.3,119.4 240.2,103.2 239.1,98.4 261.3,117.8 240.7,94.6 255.4,104.7 255.4,88.0 240.3,107.1 256.5,90.1 240.7,122.2 262.2,120.4 263.8,95.5 261.4,121.8 249.3,111.1 254.4,97.6 261.8,120.1 253.9,108.8 244.1,108.3 254.7,116.2 257.5,94.0 259.6,130.6 244.8,114.8 240.2,117.0 259.9,102.1 241.8,104.3 261.8,115.0 253.3,94.7 247.2,114.4 245.2,92.0 255.1,89.7 254.1,121.2 251.2,110.6 248.3,102.9 259.6,129.4 246.4,126.2 246.5,92.5 257.3,87.2 247.1,98.9 261.8,92.8 253.5,118.6 240.8,92.9 255.3,101.0 236.3,106.1 256.9,112.1 257.2,100.4 244.3,130.3 252.3,88.7 255.6,125.6 245.7,107.6 262.4,112.8 242.3,123.1 253.6,100.6 242.8,110.5 237.5,110.3 258.1,107.8 247.2,95.2 241.6,102.8 261.8,129.3 251.7,125.5 248.4,96.0 259.3,104.7 256.1,120.1 253.8,92.4 262.7,102.3 244.5,92.1 255.1,103.7 262.6,100.9 245.4,100.6 239.8,111.6 253.4,126.4 262.0,98.7 250.0,115.2 239.7,109.8 255.1,126.5 260.8,118.7 255.7,99.7 247.7,114.6 252.1,128.8 254.9,101.1 251.8,114.8 243.9,113.8 248.7,121.9 250.6,120.5 262.8,118.4 248.6,110.4 248.0,90.0 252.4,96.9 255.6,90.3 254.7,95.3 252.8,105.6 251.9,116.0 242.6,92.5 244.3,115.2 256.2,122.7 245.9,106.8 250.1,89.4 243.6,110.5 263.6,122.8 262.1,108.3 240.7,93.9 256.4,122.7 253.5,101.9 246.2,109.4 249.1,98.3 244.8,112.1 249.7,118.9 254.0,130.6 259.5,98.6 256.5,89.3 259.1,99.2 249.4,102.1 269.9,97.8 266.7,99.5 265.1,88.1 270.3,95.3 268.8,103.7 270.4,96.0 270.1,90.1 265.1,84.4 265.5,94.6 268.0,96.7 270.2,102.3 263.9,105.6 271.3,96.9 268.0,92.0 267.8,84.1 265.5,92.5 263.2,98.1 265.9,107.1 270.5,81.5 267.7,90.6 266.8,101.0 265.0,103.4 270.1,92.1 266.9,98.7 271.1,84.0 270.6,105.8 265.7,103.3 263.8,110.4 269.2,116.6 266.0,106.1 263.6,119.4 265.3,110.1 268.8,108.1 270.3,116.4 269.4,117.9 265.7,116.3 265.3,114.2 264.8,107.2 273.1,108.1 265.7,114.8 269.0,115.9 265.9,109.3 276.8,104.4 271.3,91.6 272.6,102.8 290.6,100.1 281.7,115.2 282.2,119.5 278.5,103.6 275.1,96.5 285.7,96.7 291.4,111.3 292.9,94.0 279.4,100.3 288.8,104.5 277.8,115.6 274.2,120.1 275.5,114.0 288.4,108.3 281.0,101.7 271.8,100.4 281.6,96.3 284.9,99.4 275.4,117.3 276.7,91.9 289.0,102.6 287.4,101.1 285.8,118.9 278.2,96.5 289.7,118.1 291.2,119.2 275.9,107.0 284.3,119.6 283.5,100.1 286.1,109.5 281.6,122.5 277.8,92.0 279.3,112.8 290.3,102.0 275.9,103.7 278.9,103.3 285.2,97.4 275.9,106.9 289.9,102.7 284.2,111.6 272.7,118.4 272.7,112.5 285.4,94.1 274.1,96.1 280.8,116.0 292.2,105.0 281.0,102.6 294.8,117.6 280.7,112.7 287.1,106.4 287.9,99.5 284.0,116.6 274.6,110.8 293.0,121.6 286.2,121.0 273.9,106.3 285.1,102.4 273.9,119.6 288.9,91.7 277.7,115.5 272.1,109.4 288.7,118.0 282.9,111.3 273.6,96.2 279.8,92.5 284.9,102.8 281.2,120.6 290.1,118.7 273.6,96.4 275.6,89.0 271.5,98.3 273.5,96.8 285.1,97.6 273.7,113.3 278.8,97.4 278.9,104.1 278.3,94.5 286.4,102.7 285.4,104.4 285.9,111.6 291.7,118.1 288.0,108.2 286.2,119.0 272.8,101.0 279.0,110.7 279.9,105.3 284.6,97.9 283.5,113.9 272.8,110.7 275.7,114.5 272.5,102.5 276.7,96.4 281.4,100.1 271.4,92.4 275.7,100.3 278.3,93.2 287.0,103.2 279.1,107.0 282.5,98.0 280.6,98.8 287.9,92.0 277.5,104.1 282.1,120.2 284.0,109.5 272.4,120.6 275.3,93.1 277.7,109.9 280.4,99.2 290.8,87.8 281.2,109.7 288.2,108.3 288.6,90.2 284.0,115.1 274.7,101.7 287.3,105.3 283.5,117.5 273.5,113.7 289.7,100.0 282.5,103.6 280.4,105.2 290.8,100.4 285.1,97.1 288.0,89.5 284.6,107.0 277.1,94.6 286.9,110.5 284.6,121.7 284.8,105.3 288.9,119.5 279.3,116.5 280.1,110.2 286.5,107.4 288.8,108.5 273.6,101.2 283.5,110.1 283.1,108.6 276.7,105.4 275.8,91.8 282.3,106.3 287.0,98.4 280.2,102.8 277.9,97.4 280.0,104.9 272.8,112.2 283.0,89.3 287.6,95.0 283.6,106.7 273.9,107.0 285.1,101.8 270.1,105.4 278.7,94.6 272.5,90.4 286.4,107.2 282.7,105.6 278.0,120.6 280.2,88.6 289.8,90.2 287.8,120.6 288.3,94.1 285.8,113.0 278.9,106.9 286.2,101.4 271.9,110.2 281.7,120.4 281.8,118.8 287.3,97.7 275.9,101.9 290.1,108.5 272.1,107.3 275.7,99.3 289.9,90.0 290.0,107.9 281.2,104.8 276.6,99.2 273.0,103.8 276.2,112.4 290.2,116.3 276.7,116.3 291.3,110.9 287.1,102.4 271.9,97.8 280.7,121.6 282.8,98.5 287.7,112.5 281.2,112.5 288.9,92.8 288.0,110.3 270.9,115.1 291.7,90.7 272.8,100.2 285.7,110.3 273.1,110.8 279.0,93.3 270.8,96.1 279.9,112.3 281.5,116.1 285.2,120.2 274.8,106.9 291.6,118.7 282.5,96.1 270.6,93.3 290.1,117.1 274.5,109.3 273.6,123.0 292.0,89.2 292.1,107.8 281.1,92.4 273.8,114.2 282.5,111.1 270.7,105.3 287.2,99.9 279.7,95.3 279.0,110.3 277.5,96.9 286.1,114.7 280.3,112.1 282.8,118.7 287.7,112.2 280.7,106.7 274.9,118.3 287.6,113.2 282.2,105.9 287.2,109.9 273.8,94.0 272.4,113.0 283.1,110.3 291.8,106.8 291.5,96.5 278.6,94.4 272.6,96.0 281.0,103.0 278.1,86.6 271.5,110.3 276.2,96.7 278.5,105.3 288.1,115.2 278.4,118.7 281.0,89.1 290.8,100.7 284.9,110.6 284.8,95.5 271.8,119.6 290.2,97.7 276.0,103.7 282.7,113.5 282.2,114.1 289.2,108.7 290.4,121.7 292.6,96.7 292.2,107.0 280.5,95.3 285.7,92.2 274.3,107.1 283.8,101.6 285.9,112.7 276.6,94.7 279.7,116.2 278.0,106.7 282.7,116.5 288.8,115.2 278.4,98.4 275.6,100.3 290.9,105.9 276.2,95.2 279.8,107.9 291.1,107.8 287.6,106.5 285.9,98.1 273.2,99.0 286.7,99.9 273.7,98.5 284.5,100.3 288.1,94.6 281.9,91.8 282.6,122.7 285.0,97.7 273.7,112.1 278.8,97.6 271.4,90.4 285.5,94.8 275.4,90.1 279.4,101.4 292.7,92.4 276.2,101.5 291.2,114.8 290.9,115.4 283.1,93.3 277.3,100.6 279.7,95.3 293.3,110.9 279.8,106.5 288.7,93.0 288.1,97.8 288.8,119.8 278.7,109.1 282.1,101.2 276.5,104.3 280.8,114.2 288.4,117.2 283.4,119.7 289.3,104.0 283.2,93.5 277.9,91.9 279.0,100.6 281.2,112.3 290.4,93.1 274.0,118.9 285.4,102.9 282.1,100.3 288.8,103.8 279.4,107.0 279.0,97.5 289.2,119.3 284.3,112.7 275.1,93.0 280.7,103.3 295.6,110.8 296.0,103.1 297.5,101.3 296.7,100.2 291.9,116.4 298.8,103.4 298.2,100.1 297.3,104.2 293.0,94.7 295.9,118.9 292.2,100.7 299.3,92.8 295.3,89.2 294.1,113.2 293.2,99.6 298.7,104.5 296.6,116.6 293.5,96.9 293.1,99.5 298.0,114.4 297.3,100.4 293.3,90.5 297.6,104.8 296.3,119.3 293.1,112.0 301.1,107.1 295.8,114.2 294.6,94.7 296.5,117.7 292.9,118.9 298.1,92.3 294.9,94.9 299.9,116.5 293.7,94.6 295.8,111.4 328.9,95.4 312.6,127.7 333.9,128.5 333.8,111.5 332.4,109.0 313.8,109.7 301.9,93.5 306.5,99.7 320.3,101.8 303.6,123.0 329.5,104.2 322.3,114.9 317.8,127.6 312.3,115.7 321.4,97.4 329.4,125.6 302.1,107.3 315.7,125.5 307.8,125.3 303.9,107.4 333.5,113.3 322.0,94.7 329.5,103.4 310.0,123.7 301.1,106.1 321.3,106.6 331.9,115.5 318.4,114.0 302.8,107.6 320.2,125.6 306.3,122.2 317.8,91.0 329.1,109.0 310.8,108.5 333.3,121.3 303.4,127.5 317.5,128.2 302.9,97.0 332.1,110.5 317.6,90.2 323.1,107.7 309.9,95.6 316.1,113.3 304.4,105.3 301.0,99.2 302.0,103.6 324.8,119.7 325.7,129.6 317.6,116.1 313.0,95.2 313.0,96.6 307.5,127.6 304.8,130.3 305.8,130.0 332.8,111.4 306.7,112.3 305.9,101.2 329.1,130.1 323.9,110.2 302.3,102.8 301.8,108.7 321.7,127.7 323.1,125.4 307.6,94.6 312.4,115.1 323.8,101.0 327.9,97.0 310.0,90.6 307.3,120.0 307.2,111.5 308.1,111.7 303.0,120.4 326.3,104.6 328.0,122.6 330.7,120.5 326.9,110.9 316.7,119.0 332.6,125.7 316.2,90.0 301.8,122.7 334.7,124.9 317.6,112.3 311.2,102.0 309.1,100.8 321.8,113.5 321.3,116.0 330.2,122.6 333.5,130.5 317.2,91.6 310.6,108.9 320.9,102.9 336.1,122.4 305.7,119.9 317.7,107.1 317.1,116.9 302.2,95.0 315.3,96.3 304.1,120.3 325.3,108.5 334.2,128.3 325.0,95.2 334.0,104.3 324.5,97.4 325.9,130.6 330.9,116.4 331.7,103.6 297.7,108.7 312.1,103.4 316.6,113.2 324.3,115.9 309.5,119.7 325.2,95.2 321.5,119.6 324.1,99.6 312.0,120.3 330.6,129.6 315.7,91.7 323.6,109.2 332.1,110.8 304.3,127.2 301.6,115.0 324.3,118.5 335.2,100.2 325.1,129.6 311.3,119.1 324.5,109.4 330.6,89.4 308.6,118.4 304.1,117.2 321.3,115.6 303.8,101.0 301.7,122.2 331.4,97.7 300.5,98.6 317.4,103.9 331.4,92.0 312.7,108.1 302.9,104.0 330.7,106.1 326.7,95.9 302.5,97.2 316.0,126.1 316.0,96.6 311.0,107.5 303.4,104.5 304.1,91.0 313.6,119.6 317.0,130.2 301.8,118.9 313.3,130.5 326.1,91.2 334.0,117.2 316.8,118.1 314.6,113.3 300.8,106.2 312.4,111.0 325.0,107.1 331.1,97.8 311.6,95.8 317.1,121.7 302.5,92.6 313.3,89.0 325.6,112.0 315.0,119.3 304.4,109.8 314.5,108.3 315.0,94.7 331.5,123.2 315.0,117.6 315.5,97.7 310.9,100.1 332.6,120.4 316.1,125.7 307.5,127.9 328.7,104.9 322.1,119.0 324.9,116.0 299.2,118.7 329.2,127.1 319.0,99.0 305.5,122.1 317.4,90.6 311.5,111.1 324.8,122.3 300.8,94.6 328.4,121.1 311.1,132.8 330.4,90.6 327.2,126.9 325.1,101.2 313.5,109.1 317.2,112.2 318.2,97.0 325.4,113.4 304.1,100.5 334.3,128.6 314.6,117.8 322.6,112.0 317.0,92.0 306.6,91.2 322.6,88.6 314.9,122.7 332.3,125.3 327.8,116.2 315.5,99.1 315.8,90.1 323.0,127.2 324.9,131.9 300.2,130.6 318.4,125.1 327.5,96.6 310.8,101.9 324.6,130.6 302.4,109.3 316.8,101.9 318.7,116.3 309.5,109.5 309.4,94.0 300.7,91.1 310.3,108.7 331.7,126.9 325.7,123.7 314.2,129.8 313.8,117.0 315.5,97.4 310.6,94.9 332.0,107.9 309.3,101.6 316.7,129.6 330.6,117.2 331.7,94.2 302.0,91.4 315.7,123.8 301.3,116.1 301.8,106.2 311.9,119.2 315.5,94.6 306.0,131.2 307.8,90.2 327.4,104.6 309.1,121.8 314.1,102.3 325.0,131.1 301.7,115.6 326.7,97.7 328.7,114.2 299.8,101.3 311.7,109.0 312.0,130.8 316.1,122.7 314.3,93.7 305.1,113.0 299.7,94.8 332.7,95.1 312.9,113.2 313.2,97.0 300.7,118.6 304.0,96.8 331.5,129.1 311.7,126.7 330.2,107.0 322.7,102.8 307.1,109.5 330.6,96.7 323.1,111.7 303.7,99.7 315.7,112.0 304.7,123.3 330.0,93.3 332.8,91.9 333.5,123.3 308.4,120.0 312.7,101.8 336.1,103.8 334.2,106.5 321.6,122.3 311.0,103.3 314.2,96.1 307.5,129.6 316.9,106.7 307.5,100.4 322.2,112.2 330.4,95.4 327.3,117.1 325.9,91.3 309.2,131.3 311.4,90.1 313.0,127.8 311.7,105.3 325.8,100.2 308.3,105.8 311.1,111.3 324.8,118.6 333.5,117.5 329.8,106.9 302.5,122.5 330.7,95.8 327.3,108.5 327.3,116.9 302.7,113.5 332.9,131.0 304.1,90.9 312.4,90.7 326.9,103.6 307.4,114.0 303.8,123.7 312.1,101.2 310.7,128.8 333.6,124.8 306.5,125.3 319.6,130.0 315.5,121.7 306.7,130.4 302.3,113.1 322.2,111.4 328.3,128.4 313.6,123.0 317.1,112.7 333.2,103.0 325.7,99.3 302.4,106.6 304.9,102.8 323.1,92.5 318.2,100.2 322.2,110.1 308.6,118.4 306.8,104.4 302.4,123.7 317.8,99.4 307.1,108.3 311.7,95.9 303.1,102.2 316.3,114.1 329.9,110.5 306.5,118.7 302.8,120.1 306.4,126.4 312.2,105.3 324.9,122.1 315.2,111.7 334.6,97.6 322.3,129.8 327.3,121.3 305.2,98.1 329.1,125.7 322.7,123.2 333.5,98.1 316.3,96.4 322.7,104.8 326.1,120.9 307.0,96.9 317.9,100.1 312.2,111.3 315.0,97.3 328.7,120.1 311.1,130.0 304.1,104.9 308.7,117.5 333.8,89.7 324.9,117.6 325.4,95.8 302.2,104.3 335.3,122.1 309.2,131.3 308.0,118.0 309.7,131.4 311.5,124.6 311.3,91.9 315.6,128.3 306.7,113.9 329.2,92.4 302.9,90.9 314.4,121.3 322.5,101.6 324.2,112.8 303.9,104.2 307.6,96.1 302.2,96.7 321.8,109.8 333.1,123.3 306.0,93.1 327.9,122.5 321.8,113.9 305.0,126.0 324.9,109.9 317.9,106.8 307.3,94.4 334.0,126.9 326.2,93.2 308.0,108.9 330.1,125.5 321.0,115.4 325.5,105.0 320.7,127.1 316.6,92.5 306.5,93.8 318.8,125.7 307.6,120.1 331.1,105.8 318.9,104.6 329.9,126.3 305.7,92.3 321.9,94.1 319.1,103.2 328.5,111.1 326.3,93.1 307.2,113.2 332.6,111.1 303.7,96.0 328.3,131.4 320.1,130.3 306.8,101.5 307.3,107.8 321.2,109.9 315.4,109.1 317.1,112.1 307.5,99.2 315.6,101.9 304.5,110.5 309.5,107.0 325.0,98.7 312.3,127.6 321.6,118.7 309.6,118.1 300.2,105.3 314.8,113.5 322.3,101.7 318.2,120.0 312.9,130.5 302.0,97.9 298.6,113.8 305.1,107.8 300.2,94.5 303.9,117.5 330.7,102.0 308.1,101.9 319.8,119.0 317.8,99.2 326.4,92.2 309.2,119.6 319.6,121.4 317.7,96.5 333.8,105.8 302.5,99.5 325.3,118.3 311.1,108.2 310.8,113.3 327.2,122.2 305.4,123.4 317.1,92.5 322.0,114.8 301.4,123.7 311.3,100.1 312.8,109.2 321.7,110.5 325.0,109.9 307.8,122.6 334.3,101.9 299.8,105.8 300.3,120.7 300.3,102.6 302.1,119.0 324.8,124.7 300.8,105.7 305.8,96.9 311.3,129.6 301.6,105.6 310.2,123.1 320.1,104.2 309.6,110.3 311.4,121.5 307.3,114.1 308.2,121.9 303.8,104.2 299.6,111.0 308.8,108.7 308.3,116.4 304.1,125.6 313.8,122.8 302.0,96.2 317.0,101.9 301.0,96.1 316.2,120.4 311.8,122.9 307.5,109.1 313.5,101.0 315.4,98.4 306.8,116.5 303.6,122.5 307.1,105.5 313.2,119.6 316.7,114.3 304.0,113.1 307.6,120.8 302.0,124.4 303.4,106.6 313.1,117.1 307.2,112.1 311.7,96.9 304.9,109.6 313.4,105.1 304.3,118.7 300.4,103.0 317.1,97.4 305.6,97.8 301.9,120.8 301.2,118.9 299.2,104.1 308.4,125.0 316.5,98.9 319.4,113.1 315.2,120.0 313.0,103.1 309.6,112.1 306.9,119.4 302.4,106.0 309.1,112.5 306.3,101.1 300.9,98.9 310.2,122.0 309.2,121.9 302.7,108.0 306.9,120.9 318.2,96.0 313.4,118.4 308.8,107.6 303.4,116.6 303.3,108.9 314.4,115.4 318.3,118.4 310.1,99.9 301.4,122.6 305.0,117.9 302.1,94.9 313.5,101.8 313.9,96.2 302.1,96.1 315.5,97.0 314.5,124.4 313.7,107.0 305.3,97.6 304.2,111.5 316.9,106.7 313.6,99.9 313.5,120.1 306.9,106.5 312.5,121.2 315.7,112.0 305.1,120.7 311.7,101.8 315.3,107.9 303.8,98.9 313.0,117.5 302.8,121.6 299.6,103.2 301.1,100.7 300.3,97.0 309.3,120.7 310.5,121.8 315.2,111.5 302.2,107.6 317.2,99.6 305.9,118.5 314.9,110.2 315.2,103.0 302.5,95.2 300.3,113.8 303.7,105.7 318.5,125.5 300.7,99.7 309.5,99.1 308.1,119.7 300.3,111.5 314.1,99.6 317.9,123.3 309.0,102.2 319.7,107.8 300.5,100.2 321.3,115.7 312.2,100.3 306.0,119.1 308.7,102.7 308.7,112.0 310.4,107.0 299.7,95.1 304.7,98.8 303.4,115.7 311.8,117.2 318.5,125.5 308.4,112.5 305.6,108.3 304.6,110.8 305.0,110.1 305.7,112.1 306.2,105.5 315.1,118.6 311.0,121.3 312.7,110.5 315.6,103.3 311.5,101.0 315.6,97.6 302.7,122.2 316.0,105.9 306.5,105.3 300.5,101.1 321.9,102.6 319.8,113.0 299.5,95.6 310.1,101.7 307.1,110.3 311.2,103.5 311.7,98.3 314.7,102.5 299.9,95.8 300.7,122.8 304.6,102.8 309.4,122.8 310.8,118.4 317.1,101.0 317.3,109.5 315.1,100.5 301.2,110.1 317.6,108.7 310.5,104.3 316.0,116.3 317.7,104.5 319.2,117.0 313.7,116.4 303.0,108.4 315.3,117.4 318.7,102.4 308.0,99.6 319.5,120.6 309.2,123.2 308.5,125.2 315.2,112.5 316.4,96.1 315.6,121.6 307.7,112.4 308.2,113.1 316.5,104.9 316.3,103.3 315.8,120.8 308.2,110.1 304.0,111.8 300.8,111.4 309.6,106.6 315.3,115.0 314.7,101.4 299.8,98.0 313.4,114.7 308.5,119.8 300.5,96.0 318.3,100.1 320.1,98.4 330.4,98.3 323.7,100.1 323.8,116.8 322.5,130.8 325.3,111.9 326.8,117.4 327.4,99.5 329.8,99.1 332.1,105.9 329.8,123.8 322.3,133.1 325.3,108.7 319.4,113.3 328.2,135.1 325.3,121.6 331.4,106.4 322.0,137.1 330.5,119.9 324.1,120.5 322.6,104.6 323.4,111.5 323.7,99.1 321.9,102.1 325.2,113.1 331.4,138.0 324.1,114.3 317.5,118.4 327.2,102.5 324.9,106.1 326.4,105.4 323.6,132.0 321.5,123.9 327.5,132.5 331.2,130.7 324.7,115.9 324.9,127.1 330.7,99.4 321.8,129.7 330.1,108.8 327.6,110.6 325.6,127.3 326.3,98.5 325.6,96.3 331.4,124.9 326.9,127.5 322.1,102.0 321.5,133.4 325.2,106.3 328.2,121.0 325.5,138.1 325.8,115.3 324.3,113.9 317.3,107.1 330.1,107.1 331.2,102.8 328.5,105.9 325.9,103.3 327.7,120.5 325.5,99.1 322.1,138.9 322.8,112.7 319.7,101.9 328.2,112.2 329.8,121.7 330.0,134.2 319.0,129.5 325.2,107.3 326.3,124.2 319.2,115.4 326.6,135.4 329.2,105.9 320.4,128.4 324.3,116.8 323.6,135.8 328.0,113.4 322.3,123.3 324.2,130.6 329.6,107.9 321.6,119.4 322.1,128.3 325.7,134.9 331.2,102.4 324.0,108.9 331.4,130.4 323.7,124.9 331.4,113.3 322.0,129.8 325.2,111.3 323.9,137.5 324.6,113.9 322.3,101.8 326.9,95.8 319.9,120.7 330.0,99.5 322.0,131.8 318.9,133.4 325.7,105.5 331.4,115.3 326.5,124.1 321.0,122.9 325.5,105.8 319.3,124.8 331.5,134.0 325.2,122.5 324.8,134.9 324.1,124.8 322.0,139.5 330.9,99.9 326.0,111.4 323.8,110.3 327.5,130.5 329.9,120.6 323.5,137.4 325.2,133.7 325.2,130.0 325.1,137.0 331.1,109.7 323.2,138.7 330.2,135.6 327.2,97.2 326.1,129.2 323.9,96.6 327.4,138.7 320.9,116.4 333.7,130.4 331.0,119.0 325.1,135.0 321.2,124.4 329.9,130.5 319.2,99.2 326.3,119.4 320.8,112.8 325.7,104.8 325.1,109.0 321.6,108.1 327.5,107.6 324.9,108.0 321.2,136.4 330.5,112.5 331.1,136.9 330.9,105.8 320.6,126.1 327.0,139.5 328.8,97.2 323.3,134.1 327.2,127.6 322.8,96.8 324.9,103.2 331.1,119.0 327.5,132.6 320.9,113.2 324.8,130.4 323.4,98.4 325.9,99.8 323.5,97.3 325.7,100.4 322.6,129.6 323.4,120.8 324.5,133.7 325.9,119.1 327.5,119.1 330.6,110.5 332.8,106.3 326.3,136.0 322.2,136.6 323.5,121.1 316.6,74.8 318.3,73.4 321.8,87.0 327.5,76.3 325.7,80.1 320.7,84.4 315.9,87.1 320.3,71.9 333.7,93.8 337.7,76.0 346.7,73.0 344.4,57.9 338.1,72.9 336.0,86.9 338.4,89.2 338.5,66.7 342.1,73.0 346.6,73.9 346.0,60.0 340.1,76.6 349.2,63.2 331.4,97.0 342.3,66.4 333.8,90.8 337.5,81.8 341.5,58.6 340.4,80.9 347.2,63.8 340.1,93.6 346.7,77.7 338.4,79.2 346.9,63.5 348.6,73.7 333.9,90.6 346.1,70.9 335.8,69.1 334.2,90.6 340.6,79.3 341.5,87.2 336.6,73.3 339.2,87.1 344.3,73.9 332.2,92.5 337.6,83.3 339.7,88.7 338.8,94.0 337.2,85.3 343.8,64.6 339.3,80.8 338.1,80.2 342.1,69.9 343.3,84.8 342.3,92.6 336.9,88.9 345.4,80.0 334.4,89.7 335.0,76.0 337.4,82.3 343.7,69.1 345.0,64.6 341.2,80.6 335.5,94.1 336.6,97.6 340.9,63.3 344.5,65.2 341.1,82.9 335.7,96.3 336.8,85.5 345.2,65.7 347.7,67.1 344.6,58.8 334.7,87.8 339.1,96.1 338.3,73.1 345.3,73.2 344.6,67.1 335.8,93.6 345.4,67.6 334.2,92.7 339.1,73.2 344.7,59.2 346.5,68.9 336.4,73.3 346.1,73.7 346.9,65.2 340.9,77.0 337.4,72.8 339.0,89.4 345.0,76.6 345.3,88.0 337.2,74.8 333.2,88.7 333.7,94.8 338.4,67.9 334.5,85.9 340.6,92.5 336.9,78.3 335.4,77.1 344.3,73.8 335.9,72.0 340.1,64.5 337.6,94.0 344.3,81.3 346.0,70.5 345.6,72.5 343.0,67.7 335.0,87.6 337.2,94.7 349.2,63.8 336.3,67.4 346.6,59.9 346.6,73.0 335.3,80.5 334.1,92.2 341.6,85.4 329.5,98.0 341.9,65.7 340.8,62.3 335.8,86.2 338.1,73.5 336.0,84.8 336.2,89.0 335.3,87.2 343.6,74.2 334.9,74.3 336.9,79.7 341.1,95.4 342.7,76.3 344.0,70.6 338.0,72.7 342.9,60.8 341.9,67.1 345.1,77.1 336.0,88.6 337.0,64.7 346.0,72.5 340.7,78.5 341.0,66.8 338.5,68.2 335.5,76.8 348.7,66.8 333.3,88.5 382.0,58.7 372.3,58.8 371.2,48.8 385.9,90.2 369.1,85.7 365.0,52.6 386.5,87.9 381.0,103.9 364.4,58.6 386.7,90.1 358.4,60.8 364.1,61.9 389.1,59.5 373.7,51.5 367.6,87.6 357.5,84.1 377.6,73.1 363.7,91.3 350.9,101.7 358.5,83.6 352.7,54.9 352.1,97.2 382.1,84.9 377.4,74.3 351.1,83.3 355.6,61.7 370.6,49.4 381.1,54.6 350.4,88.4 354.3,89.2 357.1,95.4 378.9,52.6 357.2,98.6 355.6,67.1 363.3,83.3 380.4,93.2 363.7,68.9 386.7,100.7 374.4,75.7 377.3,50.5 377.2,75.8 364.8,77.9 365.1,70.5 361.6,90.8 363.8,85.9 367.3,76.3 391.3,106.6 366.1,67.7 364.9,64.3 381.1,54.8 361.2,65.0 372.1,88.5 361.1,85.4 355.1,91.6 381.0,65.8 394.5,111.0 372.2,68.7 385.2,95.8 378.7,66.2 368.8,82.3 354.3,81.5 387.6,67.0 371.6,101.3 389.6,82.1 382.4,70.8 380.2,64.3 361.9,66.9 382.8,73.7 369.9,78.0 378.5,106.7 380.7,52.0 381.6,100.7 358.0,72.9 380.9,82.8 358.0,87.6 359.7,100.5 354.6,90.0 389.5,87.3 351.9,63.7 360.0,93.8 364.8,62.1 393.2,102.0 379.0,57.8 392.3,86.3 367.3,79.9 361.7,59.7 367.8,59.0 361.7,85.1 375.3,52.5 350.2,97.5 358.7,56.2 391.8,107.4 374.7,84.8 383.2,107.0 360.6,47.9 353.8,72.8 349.8,89.5 375.0,73.2 357.9,81.3 387.9,90.6 354.6,93.4 381.7,83.4 367.6,59.3 377.6,105.7 386.6,63.6 365.4,47.3 368.9,57.1 379.8,54.4 380.4,108.0 357.6,67.9 394.5,84.3 368.1,106.2 356.6,60.2 393.7,107.7 371.8,52.4 359.0,68.7 364.1,56.8 377.8,70.9 373.9,96.5 385.8,68.1 389.9,84.4 381.5,58.8 390.3,90.0 382.6,94.7 373.8,93.1 378.8,83.8 371.7,74.5 390.2,71.2 390.6,102.4 372.3,90.7 373.4,54.8 355.0,63.4 366.7,84.4 360.4,59.6 372.4,50.4 389.6,56.2 372.6,49.1 355.8,61.1 387.2,60.3 369.1,64.4 360.7,86.3 367.3,53.5 376.8,85.1 384.4,50.4 361.6,63.7 368.2,50.2 378.3,71.2 382.9,97.8 359.2,95.4 379.3,92.7 364.1,90.6 358.4,59.7 384.4,80.7 386.5,94.7 372.5,68.9 367.4,73.3 379.9,107.0 355.1,56.3 349.4,94.6 391.0,65.0 375.9,53.8 353.7,54.7 373.4,48.7 365.5,80.3 365.3,48.9 364.0,62.8 355.2,74.6 376.1,101.9 361.6,49.1 370.2,57.1 380.3,79.1 372.2,75.7 384.4,72.6 363.5,79.3 360.4,73.4 362.0,82.8 371.4,59.1 358.3,53.8 362.9,100.2 363.6,81.6 389.1,64.8 388.6,107.3 353.4,78.3 363.0,59.4 374.9,80.4 384.0,98.7 391.2,90.6 359.7,80.7 386.1,56.4 356.6,76.0 353.2,67.6 375.6,52.4 371.5,73.8 362.7,71.6 379.7,91.7 377.0,79.5 378.8,57.3 377.4,65.1 393.1,65.1 368.6,60.1 367.7,60.9 365.7,55.5 366.9,83.2 373.4,106.4 363.8,92.4 373.7,49.7 384.2,93.8 385.8,73.0 381.4,53.0 370.1,84.8 375.4,90.3 380.7,81.6 357.5,88.1 376.2,73.3 363.6,78.4 371.3,58.0 371.8,70.3 372.6,53.7 390.6,102.6 384.4,94.9 372.1,102.3 359.8,83.3 392.3,98.4 359.4,94.8 362.1,70.0 379.0,94.7 387.4,57.1 367.2,83.9 365.8,68.0 374.9,77.8 367.2,53.1 373.9,48.4 373.2,49.8 383.4,81.1 366.9,83.7 383.1,93.1 367.5,101.3 374.9,103.4 377.0,89.0 379.8,104.0 360.8,54.5 372.1,52.6 359.0,73.0 368.7,76.6 385.5,101.1 357.8,58.0 391.0,55.2 386.1,58.3 361.4,58.8 387.9,70.4 364.6,85.5 355.0,77.1 358.6,61.0 389.6,74.4 353.7,80.9 380.0,87.8 389.5,81.5 387.4,102.8 371.5,85.8 358.3,46.8 354.6,59.4 372.1,47.4 382.2,61.9 371.7,86.4 376.7,53.0 381.7,81.9 360.6,67.1 372.4,104.7 353.4,88.7 381.1,60.4 391.8,74.1 380.1,105.1 380.0,96.7 377.0,99.0 389.7,103.3 368.7,58.5 387.3,64.2 372.1,74.8 394.6,107.8 390.3,98.9 382.1,90.1 361.7,100.9 386.3,95.2 391.0,62.4 381.4,74.7 381.9,71.6 388.9,104.4 381.2,77.3 371.6,105.5 375.3,105.3 381.2,69.1 380.4,109.0 386.5,89.8 361.1,84.4 370.0,49.3 370.7,95.6 393.9,78.4 378.6,76.6 389.6,103.8 369.8,44.2 361.4,49.2 363.4,100.0 369.8,82.5 369.6,58.6 391.5,87.5 369.0,78.8 352.7,98.9 392.6,67.2 365.8,65.2 362.6,48.6 372.7,82.1 381.2,83.3 369.9,87.8 366.3,66.4 355.7,55.5 379.8,65.9 352.9,84.5 364.2,46.0 361.2,80.8 389.8,90.7 362.6,80.7 386.0,78.3 375.8,49.9 352.1,82.7 358.7,55.8 380.1,55.5 388.8,101.2 392.5,81.9 371.2,62.5 386.4,87.3 385.8,74.4 388.2,68.7 385.4,75.6 363.6,56.1 358.7,82.6 376.6,74.7 383.4,87.2 381.3,61.0 383.4,97.5 394.3,101.0 386.7,106.9 391.3,86.6 356.9,81.8 362.2,56.0 361.7,59.8 359.9,80.4 355.9,55.8 360.6,68.9 365.7,87.8 361.1,58.2 361.5,82.5 360.9,51.8 361.2,96.6 360.1,97.3 355.7,89.2 357.4,52.6 356.1,83.4 363.8,76.7 360.2,85.6 357.5,72.6 356.5,62.6 362.7,57.4 362.1,56.6 357.5,78.4 358.6,53.8 356.9,77.8 363.2,52.6 363.6,86.0 364.9,94.9 361.5,76.2 364.1,88.8 353.9,79.2 362.6,61.7 356.0,78.0 357.2,64.2 356.9,83.0 361.4,58.8 358.3,70.3 364.1,69.0 360.5,65.1 365.4,96.5 357.4,69.3 356.3,68.5 357.3,91.3 356.7,72.0 366.1,56.5 364.0,66.4 359.8,55.3 364.3,51.9 358.7,66.0 354.3,80.3 360.7,78.8 357.5,92.8 358.3,60.1 357.2,62.7 366.3,86.4 366.7,66.8 362.3,80.8 362.6,74.9 360.7,90.5 366.4,76.8 366.2,69.4 366.0,79.0 359.8,62.1 358.7,93.1 354.8,62.2 364.3,88.1 356.6,76.8 352.3,63.9 361.3,60.5 355.5,73.2 365.8,82.0 365.0,64.4 357.4,63.0 365.6,77.6 362.4,63.1 361.2,52.7 363.3,91.1 366.0,96.4 360.4,59.4 361.7,53.1 365.2,70.9 359.0,91.5 360.1,56.1 360.9,81.7 354.7,90.2 368.0,66.9 366.3,70.3 363.3,72.4 361.2,54.0 360.7,73.9 354.8,96.5 363.4,66.3 365.7,53.2 359.6,80.2 361.4,79.0 366.8,87.2 362.0,59.7 364.6,59.2 367.0,84.9 362.2,80.6 359.9,56.0 355.5,96.7 362.4,87.6 365.0,84.7 359.0,59.0 367.1,85.4 363.2,82.9 358.7,60.4 360.6,67.7 365.9,85.7 359.5,64.9 364.0,64.0 364.1,55.0 357.9,86.7 361.1,58.0 365.3,61.2 359.0,57.0 366.3,64.1 362.4,52.7 367.0,82.1 358.8,88.5 354.1,81.3 358.1,62.6 365.2,59.8 369.1,63.1 368.5,95.8 356.9,69.7 363.8,74.5 363.8,56.4 360.7,92.1 355.8,80.6 358.6,69.7 362.0,80.6 356.1,66.3 366.0,96.2 364.5,86.9 353.9,63.2 363.5,72.2 366.3,78.6 362.6,58.5 360.3,92.2 360.6,56.5 354.8,92.7 362.4,72.5 366.0,80.5 359.6,76.0 359.6,94.6 362.2,55.3 365.0,70.2 363.5,67.6 355.5,67.8 365.3,82.1 360.1,60.6 365.5,96.4 365.1,91.4 360.6,66.9 364.0,53.5 365.2,86.2 356.2,94.6 361.0,82.6 355.2,53.7 362.5,60.6 355.5,74.9 363.0,80.5 357.7,63.7 356.8,83.9 358.3,59.3 360.9,86.6 361.3,77.6 356.3,97.6 356.9,95.9 357.5,90.3 364.5,88.5 363.7,65.2 382.4,109.7 385.9,83.3 382.4,86.0 386.3,86.7 390.5,103.2 373.6,73.9 386.3,106.0 381.4,98.2 388.1,84.0 383.1,68.5 381.3,97.0 385.2,67.5 383.6,69.3 375.5,105.9 380.4,98.3 380.8,87.8 385.7,97.5 377.7,74.6 389.6,69.1 387.1,84.4 375.4,94.9 388.2,96.2 385.9,88.4 385.1,84.1 375.1,89.3 377.3,65.7 389.6,64.0 381.3,92.4 385.3,97.2 382.9,86.4 382.3,68.7 384.1,106.1 387.4,62.3 390.2,107.6 386.3,87.6 379.4,107.5 383.6,79.1 377.6,97.0 385.4,74.9 386.3,66.5 383.9,92.5 387.7,67.8 384.2,93.8 378.2,71.5 391.2,70.3 389.2,85.6 374.8,89.7 388.0,85.0 385.3,90.1 379.9,77.7 391.9,70.5 393.1,95.7 381.9,64.8 386.2,78.0 382.4,74.4 379.9,83.3 375.5,95.1 386.3,95.8 376.9,88.5 375.2,67.4 378.5,73.7 394.1,65.8 389.1,82.6 377.4,75.4 390.6,93.7 392.1,70.9 381.8,97.4 386.2,94.5 378.4,74.4 389.0,67.4 380.7,81.8 377.9,98.4 379.3,63.1 377.0,73.0 387.8,67.9 384.5,88.0 376.5,85.8 385.3,78.3 388.4,89.7 376.7,61.8 381.6,108.4 387.6,104.0 382.5,100.3 378.1,108.5 390.8,64.9 376.2,68.6 384.4,105.6 378.8,84.2 386.7,110.5 392.9,72.8 389.4,96.6 378.8,89.0 375.2,60.7 391.2,95.7 386.4,68.6 385.5,61.5 381.4,105.7 377.2,76.0 378.3,66.3 387.3,77.0 392.8,82.1 383.8,66.8 380.3,88.4 386.5,71.3 381.9,104.1 380.7,71.6 377.1,78.5 376.7,91.7 379.2,89.3 379.8,71.1 382.8,105.5 376.6,82.6 387.8,62.3 391.9,88.1 387.8,94.1 378.9,92.7 385.6,77.7 387.1,79.5 380.4,72.5 381.9,77.8 387.2,83.1 379.2,80.2 392.2,92.1 383.2,76.6 384.6,102.5 393.2,90.7 390.2,69.1 382.3,86.2 377.6,78.2 382.8,102.8 386.6,99.3 385.4,66.8 386.5,94.3 375.3,78.0 378.0,106.0 385.4,91.6 392.4,106.2 390.5,91.1 386.9,107.4 374.5,62.6 386.5,104.5 388.2,80.6 384.5,82.7 391.4,93.7 377.5,78.2 381.8,79.5 376.7,63.3 379.3,89.5 392.5,74.5 391.0,75.5 377.6,97.5 377.2,105.5 392.1,88.0 389.3,68.5 377.6,107.6 383.6,96.2 376.1,78.2 382.5,73.8 389.3,71.1 378.4,71.0 375.7,89.0 383.7,99.2 381.9,68.5 381.8,65.4 376.3,65.5 380.2,78.6 380.3,76.5 387.6,88.6 390.5,80.7 382.7,102.6 387.3,100.3 378.0,75.4 378.8,65.0 391.8,80.5 376.2,100.0 375.6,64.1 382.5,79.7 388.9,67.9 381.2,62.3 390.4,96.9 385.4,99.6 391.5,102.7 394.0,87.7 388.9,74.1 377.1,106.9 385.6,93.5 387.0,90.3 379.2,69.7 387.9,63.5 380.2,95.7 380.5,101.8 384.5,105.5 386.6,99.5 379.6,103.1 387.8,76.0 377.7,67.8 377.7,63.7 385.9,96.7 379.7,94.4 378.5,67.8 380.8,79.5 382.6,97.3 377.4,99.4 386.7,89.9 391.5,101.8 376.0,81.0 380.9,82.6 388.4,100.0 378.1,76.7 381.3,101.3 376.4,73.2 385.2,64.8 376.1,100.8 387.9,75.4 387.5,102.4 386.2,86.1 379.3,83.5 377.1,107.0 383.6,98.0 375.9,94.4 379.0,73.6 381.5,85.1 387.5,100.5 384.4,88.8 389.3,65.4 384.1,65.6 384.5,72.4 384.2,99.2 383.9,107.7 389.3,97.2 383.7,90.6 392.0,72.4 390.9,92.8 382.4,63.5 382.9,82.0 389.6,69.9 387.6,73.3 386.3,77.7 372.7,78.3 380.1,90.3 384.1,109.5 386.1,92.9 379.5,87.0 376.5,98.8 375.1,74.3 383.9,95.4 387.6,77.0 392.5,97.9 382.0,84.4 391.3,96.8 386.4,77.5 386.9,68.9 383.2,78.6 392.1,70.4 390.8,103.2 389.4,65.5 382.4,47.9 373.8,36.8 368.7,34.9 366.8,40.9 371.2,29.3 371.3,43.8 369.8,37.7 366.7,39.1 366.7,33.7 374.8,37.2 380.6,29.4 382.6,41.5 378.8,28.3 365.4,44.5 378.0,43.6 374.7,35.2 371.9,47.5 368.2,45.2 381.9,41.9 376.8,44.1 364.2,43.2 388.1,29.1 386.2,42.6 367.4,36.8 370.3,28.7 376.0,32.2 373.2,26.8 385.1,45.8 370.0,43.2 375.5,37.0 384.3,56.3 389.5,52.5 379.9,53.1 385.9,69.0 392.9,58.1 394.4,65.1 390.3,45.9 390.7,63.5 390.1,65.7 387.8,57.7 381.9,54.9 388.0,53.5 387.0,48.3 391.1,47.4 385.4,50.6 390.5,69.3 383.8,62.0 382.8,45.2 390.9,44.6 395.1,67.3 394.8,65.5 385.6,66.3 389.7,54.0 383.0,52.1 384.6,66.4 386.4,62.0 385.0,61.1 389.7,45.1 393.8,59.5 392.3,55.5 389.5,65.5 390.9,64.2 385.4,58.9 383.9,45.1 392.0,53.0 385.7,42.1 390.2,55.8 385.7,56.2 384.8,59.8 396.0,48.8 387.9,60.3 390.9,61.8 388.1,58.5 385.5,46.1 382.5,42.4 390.4,50.5 386.4,58.0 381.8,56.9 383.4,68.1 383.7,59.9 386.5,57.8 390.6,47.4 395.4,46.9 389.4,45.4 387.9,51.7 383.7,59.1 390.3,63.6 386.9,52.7 392.7,55.6 394.6,51.1 384.5,64.4 386.2,58.4 383.1,54.0 393.7,58.8 388.2,65.9 393.3,48.2 387.9,60.1 384.3,47.4 387.8,67.7 388.6,51.5 386.0,57.5 385.2,45.1 383.7,68.9 375.0,128.3 387.0,131.5 386.4,128.4 381.2,121.8 375.3,121.7 390.5,109.3 385.6,115.4 373.7,111.6 380.1,122.7 376.7,129.0 382.1,140.0 377.6,111.4 391.9,117.1 394.6,126.9 378.6,131.3 386.3,131.0 392.1,130.9 395.6,126.4 378.7,110.5 381.7,133.7 394.7,125.6 386.1,112.7 376.2,121.5 384.6,117.4 381.7,135.5 386.1,129.8 389.4,129.0 385.2,129.5 381.3,129.7 373.8,120.0 393.9,118.4 382.7,115.6 391.7,124.8 383.6,124.7 387.7,133.6 374.8,127.7 386.1,126.1 383.0,127.6 390.4,131.9 388.9,125.1 387.5,113.0 377.6,124.2 384.5,119.0 385.9,109.7 388.8,120.7 393.2,114.4 380.1,111.3 394.3,114.8 382.5,117.1 386.4,116.0 396.3,117.8 390.1,114.4 394.0,112.2 382.6,119.6 392.6,123.5 386.8,114.4 384.8,110.7 388.4,109.7 386.0,121.0 379.1,121.9 394.7,113.7 388.6,114.8 381.5,113.4 388.7,124.4 387.8,124.6 390.5,121.3 383.5,120.7 380.8,108.2 387.8,119.8 394.9,117.7 382.8,114.5 389.1,113.4 384.8,115.3 383.1,116.7 385.7,108.6 381.1,113.9 385.9,114.1 393.3,119.9 402.5,86.1 405.2,85.2 404.6,75.5 406.7,79.1 406.6,83.7 404.9,84.5 406.3,69.6 404.0,84.0 404.6,79.8 403.6,67.8 407.1,74.1 405.0,86.7 400.8,68.7 407.8,68.9 404.0,71.6 408.2,76.0 406.0,78.7 406.0,88.9 402.6,69.5 403.9,68.2 405.3,81.0 406.4,78.3 404.8,77.2 403.4,76.5 403.2,87.6 404.8,80.1 403.2,84.0 401.9,79.4 403.5,79.8 404.0,80.7 404.8,75.6 404.5,88.9 401.8,92.6 401.8,84.6 405.7,78.0 402.7,90.2 405.1,82.5 405.5,94.5 404.5,76.7 403.9,78.9 406.5,89.4 405.8,68.0 402.8,78.1 405.7,85.0 403.8,91.5 406.6,87.3 406.1,88.6 402.5,88.4 403.9,78.3 404.0,71.4 403.7,73.6 403.1,76.2 405.3,71.8 404.4,73.8 405.5,74.7 401.7,93.4 404.1,79.7 402.7,67.1 404.0,73.3 406.8,81.2 403.9,73.3 404.7,76.8 408.2,69.4 402.6,92.7 405.5,97.9 406.9,82.1 405.0,70.5 408.6,95.6 405.0,74.2 406.3,82.3 405.0,77.6 401.5,98.3 402.0,70.8 407.7,75.0 407.8,92.9 409.2,69.8 409.2,76.3 405.7,89.9 404.2,37.7 409.3,57.3 394.6,59.3 401.0,40.6 409.2,61.6 396.5,43.4 400.2,115.8 408.0,100.2 399.6,97.8 398.8,98.3 405.6,113.9 399.3,109.4 395.6,118.6 405.3,112.1 400.7,115.1 405.3,164.6 404.7,165.5 405.8,167.7 408.4,167.3 405.7,159.9 409.5,161.7 407.7,167.7 404.1,176.0 404.4,166.4 403.5,169.1 408.8,166.8 407.5,161.2 409.0,167.0 409.4,162.2 403.1,166.7 402.5,175.4 401.5,166.6 406.7,170.3 405.6,169.9 409.5,167.2 410.6,171.3 406.0,173.9 403.6,172.6 405.4,164.9 409.8,161.6 403.6,172.6 404.9,169.5 401.8,160.2 402.6,171.9 408.9,169.0 408.9,164.5 403.4,167.9 411.1,172.2 408.6,164.1 403.7,168.6 406.4,163.1 406.6,168.6 404.5,159.3 406.2,166.1 407.5,164.5 407.2,167.9 401.1,176.6 409.6,158.7 408.3,171.7 407.5,162.7 402.2,168.9 402.6,173.9 409.4,171.9 408.0,160.4 404.6,173.1 402.2,164.4 391.2,183.6 391.7,193.6 393.2,202.8 395.2,215.9 404.1,184.9 404.6,202.3 408.3,180.0 410.3,188.6 411.5,193.6 412.8,182.4 414.0,201.0 415.3,202.3 416.5,207.2 419.0,209.2 421.0,208.5 410.3,208.5 411.5,213.4 426.4,214.7 428.4,218.4 409.0,174.5 411.5,175.0 406.0,172.5 386.3,166.5 396.3,37.0 407.0,114.0 409.0,119.0 404.0,150.0 412.0,146.0 417.7,223.9 418.9,218.6 415.4,226.5 411.3,213.7 412.4,224.5 419.9,226.7 418.5,218.0 411.9,225.1 418.7,221.6 412.1,221.5 416.7,223.9 420.2,221.9 411.6,228.0 410.3,221.4 412.5,216.9 421.7,223.5 413.2,212.2 414.5,217.7 412.5,223.4 412.6,218.6 415.8,220.5 419.7,226.1 420.2,220.2 414.9,223.0 418.5,219.1 418.2,225.4 413.0,223.8 412.2,222.5 419.9,220.8 419.6,220.2 417.3,221.3 414.6,221.3 413.4,219.6 418.6,219.8 417.8,215.7 410.9,221.2 414.1,216.2 416.7,225.7 414.6,216.2 417.4,222.8 416.9,222.3 417.7,226.6 414.6,218.5 413.9,222.6 419.7,218.7 416.8,228.3 417.7,221.9 412.6,221.9 416.2,219.0 418.5,223.6 417.3,225.3 413.2,216.7 413.6,213.6 412.2,222.1 420.5,218.8 412.3,221.8 409.4,222.7 421.6,225.2 414.4,224.9 419.4,215.0 417.4,222.9" fill="none" stroke="none" marker-start="url(#maB)" marker-mid="url(#maB)" marker-end="url(#maB)"/>
<marker id="maP" viewBox="-3 -3 6 6" markerWidth="6" markerHeight="6" refX="0" refY="0" markerUnits="userSpaceOnUse" overflow="visible"><circle r="2.05" fill="none" stroke="#92208F" stroke-width="0.85"/></marker>
<polyline points="173.6,100.2 177.4,112.0 170.3,94.0 174.3,106.3 171.4,104.0 170.5,107.2 176.4,93.4 177.1,107.3 169.6,96.5 175.9,117.1 171.2,99.3 174.2,114.6 175.2,115.5 171.5,101.7 177.6,119.8 181.5,113.6 175.8,107.0 173.3,98.7 172.4,118.9 179.9,113.4 181.0,103.9 172.8,109.6 180.5,113.2 167.8,111.6 176.0,110.5 173.7,95.8 183.4,112.0 178.3,114.1 183.9,98.5 177.9,117.1 178.1,101.0 173.7,96.4 171.1,107.8 175.2,109.3 180.7,94.7 182.2,118.8 172.2,104.2 175.2,119.0 172.9,98.6 181.4,100.9 179.2,110.9 175.4,100.5 178.7,116.3 170.8,106.9 174.4,92.3 174.1,105.4 176.5,105.0 171.7,94.3 177.8,98.7 176.4,113.9 176.3,94.9 168.2,103.7 178.6,98.2 175.5,111.1 172.9,100.2 181.8,112.1 171.2,112.1 187.1,92.1 190.1,89.3 194.1,91.8 191.1,96.5 192.4,87.5 193.7,86.7 190.3,89.0 187.8,84.8 189.8,91.3 189.9,85.2 193.6,94.5 193.5,91.9 187.9,89.0 224.4,81.7 221.8,96.5 224.9,93.6 219.2,87.4 229.0,75.6 232.2,79.9 219.2,101.6 226.1,79.7 225.8,90.6 229.9,92.2 230.7,102.8 219.4,89.4 215.6,89.5 228.0,89.0 228.7,79.2 227.5,85.5 227.5,103.6 212.7,79.4 216.7,96.0 222.3,78.4 229.9,105.5 212.9,102.0 225.0,83.2 221.1,76.7 218.4,88.1 219.5,84.0 230.9,87.4 213.5,90.5 221.2,92.3 219.8,90.5 212.0,99.4 230.9,83.0 227.0,103.8 219.2,82.7 223.6,86.5 217.3,92.4 210.7,86.6 212.8,87.4 224.7,89.9 215.7,102.7 232.7,81.4 228.4,90.7 222.7,89.8 212.6,88.9 213.3,77.8 229.4,87.1 217.3,94.4 225.4,103.9 224.5,81.2 230.2,93.4 231.0,79.0 212.5,82.1 229.9,79.0 216.2,78.9 211.3,88.5 222.5,102.8 220.3,75.5 214.2,95.1 227.2,86.3 225.1,97.4 225.4,96.8 223.9,81.0 230.6,81.2 227.2,99.4 214.0,98.5 217.4,85.0 214.6,85.1 230.9,82.9 224.1,96.0 225.2,79.4 221.4,100.8 224.5,82.6 221.1,76.1 214.7,99.8 211.4,100.6 228.2,79.9 233.1,90.8 223.7,87.5 226.7,92.8 211.2,81.7 258.1,75.6 252.1,86.0 249.0,84.2 257.0,86.2 254.3,88.4 258.1,69.0 256.0,74.3 260.5,75.7 255.7,82.8 257.6,76.8 248.7,92.7 259.4,83.8 250.8,79.2 249.1,74.8 261.6,85.9 250.8,89.1 255.5,83.6 259.7,78.8 249.1,84.5 252.5,73.8 260.4,77.2 252.0,83.9 261.5,82.3 254.1,86.7 254.1,76.1 255.8,89.6 254.6,88.2 254.3,82.2 250.4,79.2 285.5,131.7 285.1,121.2 273.9,122.7 284.8,137.6 277.2,122.8 277.9,129.9 277.2,121.9 288.5,134.7 284.0,129.4 286.3,135.1 287.1,128.4 288.4,121.7 289.0,120.8 285.9,124.8 284.5,126.1 284.9,122.4 273.5,122.3 284.2,124.6 289.1,121.9 279.6,123.3 278.2,140.4 275.6,135.4 285.9,136.9 289.8,127.2 290.4,118.7 277.8,125.5 283.6,133.2 280.1,124.2 289.1,132.7 286.1,124.8 285.5,121.5 279.6,132.7 278.0,127.4 283.8,133.6 282.6,135.0 289.5,133.1 274.6,125.4 288.4,123.2 276.9,124.4 286.0,140.0 279.2,121.0 287.1,132.3 289.1,134.7 286.6,122.8 283.8,128.6 286.3,129.7 278.5,135.2 285.7,125.8 276.3,135.9 277.2,124.3 288.4,118.4 281.7,129.6 280.8,124.7 282.5,123.7 288.0,125.9 290.3,127.5 277.6,137.2 285.0,137.9 275.3,120.0 286.8,126.7 277.3,131.2 282.6,122.2 279.7,122.7 274.3,133.5 279.4,120.7 280.5,133.2 286.3,126.2 281.8,126.8 288.8,125.0 275.3,119.2 287.1,122.1 280.1,125.8 278.0,134.8 283.5,124.6 289.0,128.0 276.2,125.3 276.6,133.0 276.0,132.1 277.1,136.1 274.3,134.0 288.8,128.9 274.5,137.8 285.0,133.4 279.3,135.8 282.2,130.7 274.7,139.2 276.6,125.7 278.7,132.5 274.4,123.3 285.3,130.9 282.3,134.2 283.8,133.7 284.4,136.5 285.5,123.4 277.1,124.9 283.1,124.3 277.9,135.8 284.6,128.8 287.7,137.1 277.9,126.4 279.6,125.3 279.9,135.0 288.7,124.0 230.9,116.6 228.3,105.8 232.5,108.2 233.7,113.8 230.0,108.1 233.2,108.7 229.3,119.9 231.1,110.3 230.2,114.8 230.2,110.0 279.3,128.4 290.3,123.0 278.0,143.5 284.9,139.2 290.9,119.0 279.2,126.3 291.6,115.7 297.1,136.3 293.7,141.5 294.5,131.5 286.3,144.4 282.8,120.6 275.5,123.9 270.8,132.8 299.6,145.6 288.2,139.7 294.0,122.9 299.4,120.3 274.4,131.1 294.6,132.8 278.6,137.0 287.1,118.0 294.8,113.9 296.3,122.7 274.6,134.3 300.6,140.1 299.0,143.4 280.5,116.3 299.4,126.3 278.3,125.9 287.4,118.2 273.6,134.3 284.0,127.0 271.2,120.7 282.4,118.4 280.3,136.8 297.6,139.4 281.8,124.7 280.8,114.0 283.6,143.7 290.7,135.4 300.1,115.8 296.0,138.1 293.6,120.6 288.7,114.2 287.8,141.6 279.2,132.9 301.8,129.7 290.4,135.7 282.9,128.0 283.1,120.2 271.5,125.1 275.6,123.2 291.1,138.6 295.8,128.2 281.0,115.3 284.8,134.6 267.7,123.6 295.4,129.2 298.0,135.2 297.0,139.5 294.4,122.2 274.7,137.7 286.7,113.2 287.7,123.2 302.5,134.7 279.8,114.9 281.2,118.4 286.1,118.0 275.2,118.0 294.9,128.3 298.7,132.1 274.1,141.0 283.9,122.2 273.2,130.9 297.5,125.2 301.5,118.9 275.2,114.8 274.3,134.3 281.3,119.5 289.7,125.3 281.4,136.4 291.0,119.7 296.8,116.9 283.7,126.4 297.2,141.2 275.6,122.8 285.4,143.3 272.2,127.0 286.4,139.9 270.7,137.3 293.6,133.2 274.3,138.0 279.0,123.9 294.2,126.2 290.1,118.3 291.3,142.1 290.7,143.8 276.9,128.8 279.3,139.1 280.4,114.9 282.9,115.2 283.9,136.5 286.3,135.0 270.8,124.2 294.8,126.8 290.2,134.5 281.9,134.4 271.4,137.5 283.4,138.5 290.3,140.4 299.6,121.5 280.3,132.6 290.2,127.3 273.0,127.2 285.0,140.0 274.3,138.3 282.6,146.3 287.0,142.6 270.0,128.9 294.8,119.0 281.8,144.4 293.3,139.3 299.9,121.4 300.9,140.0 280.7,133.1 280.3,137.1 273.8,127.9 274.1,145.7 302.1,120.4 274.5,134.8 283.6,137.3 277.2,132.6 300.3,114.2 302.2,120.9 274.0,116.7 272.3,124.6 277.5,113.4 273.9,137.8 282.5,131.7 284.4,133.5 282.5,143.5 275.9,131.9 279.1,137.2 291.9,117.2 270.6,144.8 283.6,134.7 277.1,142.5 284.7,130.9 282.7,142.5 291.1,124.5 282.4,125.6 277.9,124.1 281.7,124.7 286.2,143.2 273.8,131.9 277.7,146.3 275.6,132.6 278.5,126.5 286.8,129.1 281.8,136.9 272.9,132.3 284.5,145.3 280.1,139.6 276.4,132.5 277.2,134.2 282.9,138.6 285.7,129.3 281.0,132.8 280.4,130.6 285.9,141.6 276.9,130.9 288.1,133.1 284.8,128.7 278.4,132.7 275.5,147.4 279.7,126.4 284.3,135.1 280.0,138.4 283.2,124.5 275.0,141.0 281.7,128.1 281.8,124.9 282.8,134.4 278.7,141.5 282.2,133.9 275.2,125.0 277.7,140.4 285.1,142.8 282.1,135.9 285.0,134.4 282.1,132.6 285.1,133.4 283.9,136.4 280.6,129.8 281.9,137.8 290.8,137.3 289.8,136.2 276.4,142.1 285.6,133.2 283.3,129.0 280.1,141.6 281.0,136.1 288.8,139.5 276.1,127.3 275.8,129.4 283.4,139.0 288.6,136.5 287.8,132.4 286.8,143.5 286.6,129.0 291.7,134.3 285.6,131.3 287.7,125.3 276.5,134.1 286.1,135.5 291.9,125.9 287.1,144.0 281.5,137.5 278.8,131.6 282.0,127.4 289.9,141.3 283.1,134.5 286.3,124.4 281.4,124.7 273.9,133.9 281.7,144.1 278.8,128.0 289.1,131.1 280.8,134.1 280.2,139.2 289.5,125.0 279.5,141.5 277.6,134.9 285.5,140.2 283.8,133.4 282.1,138.1 285.9,131.8 283.1,127.8 286.4,136.0 279.5,136.4 280.5,143.9 347.9,95.3 349.8,106.0 343.4,105.3 340.3,91.0 351.5,111.4 354.8,109.7 343.0,96.4 346.9,112.7 351.7,111.8 354.1,101.7 348.9,95.5 349.4,91.6 348.7,99.2 346.2,84.6 348.6,93.9 348.9,99.6 349.2,92.9 341.1,105.6 353.3,88.7 347.3,90.0 340.0,104.6 352.5,101.8 343.2,93.2 350.4,92.6 354.1,113.7 351.6,101.0 353.8,112.2 346.3,96.7 355.9,113.0 347.0,96.1 348.7,86.4 344.6,105.9 347.8,94.5 343.2,92.9 343.5,112.0 352.3,90.4 340.5,88.5 349.8,112.7 350.8,92.3 342.3,88.1 349.1,91.3 347.3,103.8 354.2,107.1 352.0,103.6 354.8,103.0 345.5,90.7 342.7,104.7 341.9,93.8 353.3,95.3 352.7,106.9 351.5,93.0 343.8,99.5 344.3,86.0 349.4,95.9 350.9,92.1 341.4,107.7 345.4,98.4 346.8,110.0 352.4,113.4 342.8,93.6 351.3,109.8 348.5,103.4 348.3,110.4 345.7,99.1 355.0,113.2 347.4,100.5 347.7,88.7 347.1,107.8 342.8,93.8 348.4,102.0 348.3,109.3 349.5,106.1 344.0,115.7 344.6,100.0 345.9,102.3 353.2,100.8 345.3,110.8 342.4,102.8 353.9,101.0 341.8,90.0 341.8,101.1 348.7,91.1 344.3,104.9 343.5,87.7 339.0,101.4 339.6,93.6 350.8,100.1 353.3,96.2 346.8,87.5 345.6,106.1 352.3,111.2 353.2,96.0 355.5,104.2 352.1,100.3 342.5,102.9 346.3,101.5 342.4,102.4 342.1,89.3 354.5,101.9 341.0,85.6 351.6,87.7 346.2,113.7 351.0,102.7 345.5,92.4 339.3,87.2 352.4,98.1 351.9,95.5 347.9,111.1 343.5,85.5 344.6,111.7 339.0,95.1 351.9,108.3 351.1,92.6 354.6,106.1 357.1,99.3 352.0,98.1 353.0,97.7 346.3,111.5 354.5,98.9 345.1,88.9 352.2,99.4 346.2,115.1 354.2,101.2 347.6,109.6 354.2,112.3 344.2,90.2 344.0,108.3 341.7,97.6 348.4,109.8 372.2,104.3 369.6,100.7 368.8,101.3 369.8,103.9 365.7,108.1 368.7,95.0 366.9,99.2 365.4,103.7 365.3,93.3 369.8,109.5 368.0,104.2 366.9,97.9 370.1,101.6 365.1,95.7 367.5,97.6 372.7,111.2 363.9,101.7 367.4,94.5 367.3,102.9 367.1,102.3 364.3,113.7 394.1,106.4 394.8,94.7 395.9,96.0 399.6,106.2 401.0,97.9 400.6,101.1 395.7,101.9 398.6,102.0 396.8,103.2 395.2,99.1 397.2,103.4 397.8,99.1 401.5,63.2 399.8,66.4 399.7,61.8 399.3,65.7 403.0,65.8 404.3,62.4 403.9,65.8 401.0,61.6 401.8,62.3 400.0,58.8 399.3,74.4 397.7,73.3 401.9,73.9 402.4,59.4 402.6,147.5 398.0,134.4 399.5,145.1 399.4,144.1 401.1,153.3 401.0,140.4 399.5,140.7 402.2,146.9 403.9,156.2 398.6,138.8 401.2,153.9 401.8,136.8 401.8,150.9 399.6,141.1 401.3,150.7 404.6,134.9 402.1,155.1 399.8,138.4 404.2,157.7 398.9,145.5 398.9,132.5 397.5,139.8 403.6,133.7 403.7,143.1 402.7,132.9 402.3,141.9 401.2,149.0 399.5,153.6 401.8,137.5 399.5,132.9 400.8,136.2 402.8,140.2 400.5,143.1 402.0,138.0 402.4,148.4 404.7,150.6 399.3,141.2 403.8,133.1 398.8,137.2 404.3,130.1 404.0,147.9 400.0,144.4 399.6,135.7 401.0,138.7 401.0,140.2 398.9,142.8 404.3,137.5 398.9,136.6 402.1,143.1 397.4,147.0 402.1,143.8 400.8,142.2 397.6,151.8 400.0,135.0 399.7,151.8 401.8,154.7 401.6,142.0 400.5,146.6 400.8,136.1 403.8,150.5 401.7,137.0 402.3,130.3 400.5,144.5 400.1,146.7 400.6,146.9 402.9,138.8 400.8,134.2 399.6,140.4 396.9,134.0 402.1,140.2 404.1,136.1 403.9,150.8 401.1,144.9 401.9,156.0 400.7,149.7 402.0,155.9 400.1,134.7 401.5,135.2 400.9,143.1 403.5,133.6 402.7,142.4 403.7,139.9 401.6,145.4 402.9,147.4 398.5,143.3 403.0,155.3 401.1,148.9 399.4,133.9 403.7,149.7 397.9,143.8 404.2,142.3 400.9,150.5 403.7,146.2 401.4,142.2 395.8,139.6 402.1,149.3 400.2,153.1 401.8,149.2 399.8,136.5 402.3,135.5 399.2,133.8 399.8,130.4 405.5,138.4 402.7,129.6 399.9,142.0 403.1,149.9 397.8,146.5 399.7,144.8 399.1,132.6 399.6,140.3 404.0,137.0 398.6,139.4 399.5,138.8 402.5,137.9 403.3,155.9 399.9,140.7 414.4,141.9 414.5,145.3 415.3,145.9 415.7,142.7 417.6,140.2 414.8,140.6 413.6,141.6 414.6,140.5 414.5,142.7 414.2,146.6 417.9,137.4 413.0,136.9 417.6,140.9 416.8,139.9 417.4,143.6 417.2,143.3 413.3,146.0 414.9,150.4 415.0,142.7 417.1,142.9 416.9,141.8 413.4,143.1 413.8,140.4 411.6,147.7 418.6,149.2 415.2,143.8 415.1,142.1 417.0,142.3 418.3,143.2 413.5,148.6 419.4,143.2 416.1,150.0 417.1,141.1 418.6,140.7 415.0,138.5 415.7,139.5 415.2,139.0 415.6,149.2 418.5,139.5 417.9,142.0 415.5,137.2 400.9,123.3 419.4,234.4 417.4,232.7 412.9,233.6 428.2,235.9 422.5,230.4 425.4,232.4 425.3,237.2 418.1,236.0 425.7,235.6 415.5,233.1 425.3,233.9 422.3,233.2 424.6,234.5 415.8,235.0 419.5,236.3 420.0,233.5 421.4,236.0 422.2,234.7 419.1,233.1 418.5,235.4 423.6,232.3 413.1,233.8 417.5,233.7 415.7,233.7 421.4,235.3 421.9,233.8 425.2,234.6" fill="none" stroke="none" marker-start="url(#maP)" marker-mid="url(#maP)" marker-end="url(#maP)"/>
<marker id="maO" viewBox="-3 -3 6 6" markerWidth="6" markerHeight="6" refX="0" refY="0" markerUnits="userSpaceOnUse" overflow="visible"><circle r="2.05" fill="none" stroke="#FF7700" stroke-width="0.85"/></marker>
<polyline points="127.0,131.7 147.8,149.6 152.8,151.4 139.3,124.0 170.5,151.5 151.6,139.8 160.6,125.7 143.5,117.6 166.8,135.4 151.9,121.2 150.7,141.2 143.6,139.3 154.1,136.2 164.2,125.5 148.3,148.3 132.5,139.0 138.4,140.1 159.8,150.7 132.5,136.4 152.7,124.9 158.0,122.1 147.5,118.9 126.2,130.5 145.7,123.9 134.7,123.1 133.1,123.4 173.7,149.4 146.2,122.2 126.7,128.6 142.9,118.4 143.2,150.6 144.7,122.2 157.1,124.1 156.1,135.0 134.7,140.7 146.0,140.4 145.1,151.4 161.3,147.8 157.7,124.2 168.3,144.9 145.7,131.9 156.2,132.7 128.8,140.1 148.1,125.2 170.8,149.3 135.3,118.2 150.1,121.6 166.9,131.3 151.8,136.9 131.7,123.7 146.0,133.7 130.5,130.1 137.0,132.7 141.0,128.6 140.5,123.4 128.1,137.4 160.9,137.3 131.2,130.8 139.2,146.3 140.5,146.1 142.6,141.4 131.1,131.2 132.5,132.2 142.3,142.9 139.5,138.9 143.9,144.1 143.8,121.8 142.6,150.8 148.5,134.7 165.1,145.5 146.8,119.2 159.5,135.2 175.2,148.8 144.6,151.2 159.2,126.8 159.2,126.5 160.6,148.6 137.8,146.2 160.2,145.5 161.8,139.4 135.7,140.5 165.3,146.5 149.7,117.4 145.0,136.6 146.1,150.4 160.4,125.5 146.2,136.3 128.7,142.1 132.8,128.2 169.0,132.8 156.9,143.6 157.8,136.7 134.5,142.8 142.5,138.7 165.6,135.2 158.0,152.6 149.6,126.0 141.9,121.4 158.6,125.0 145.5,122.9 156.6,120.9 138.0,127.3 166.1,137.6 150.2,144.1 153.2,121.3 160.8,136.7 151.3,127.7 151.9,145.9 143.3,124.0 153.4,134.8 154.7,149.5 130.5,137.8 130.8,131.2 143.3,147.4 138.6,120.5 163.6,147.4 128.9,138.5 156.6,136.1 133.3,136.5 140.5,143.9 156.2,149.5 165.9,142.8 148.9,145.6 158.9,125.1 141.7,121.0 155.3,126.1 152.8,131.3 134.1,128.3 152.9,133.1 159.8,145.3 158.9,149.0 166.9,142.2 166.2,140.6 161.6,145.9 157.1,148.9 151.5,147.9 150.1,153.1 140.9,122.4 163.8,143.8 148.8,139.7 142.4,143.7 147.1,122.5 138.1,126.3 164.9,135.2 145.8,141.2 169.7,150.3 162.0,143.1 132.7,117.5 148.8,147.3 127.0,134.1 143.2,134.7 136.6,147.4 128.4,124.0 137.6,127.7 133.3,130.9 163.1,124.4 154.4,143.9 167.9,152.8 140.0,148.9 160.7,152.1 150.1,146.5 147.2,140.3 164.3,145.4 132.3,130.4 125.2,120.6 158.1,149.4 157.1,138.0 156.8,132.8 159.8,134.0 143.2,133.9 136.5,116.9 150.5,137.1 136.0,135.8 145.8,139.2 160.6,140.7 159.5,145.4 159.9,133.6 166.4,151.9 132.6,133.3 137.1,124.4 141.4,139.5 160.9,149.8 133.9,138.3 150.8,131.6 163.1,136.1 132.2,147.0 136.2,149.8 146.4,144.3 158.7,138.4 154.3,129.7 163.1,130.4 145.2,130.2 165.0,136.5 150.2,118.8 145.9,147.0 161.4,143.0 143.0,128.4 147.4,140.4 133.1,133.1 154.4,124.6 129.1,122.4 130.4,116.9 151.8,149.6 146.5,141.6 146.6,121.8 154.5,141.0 131.5,124.2 133.8,127.7 142.5,121.3 140.9,117.2 164.4,150.4 167.6,147.5 130.6,117.5 147.0,136.1 135.7,145.5 155.1,136.3 132.7,131.0 151.4,128.2 156.5,126.9 161.0,143.3 156.1,128.8 154.0,151.7 134.3,130.0 135.3,142.8 139.0,117.5 136.0,146.1 146.7,125.7 155.5,127.9 160.0,124.9 152.9,145.5 146.3,122.6 146.8,135.0 161.1,131.6 167.2,132.3 154.6,126.5 145.5,140.1 160.4,131.8 138.9,145.0 149.5,146.6 160.8,139.5 142.4,125.9 164.3,137.9 164.6,149.6 131.3,122.1 131.4,120.9 131.4,144.9 137.8,146.8 157.3,123.0 153.0,142.2 142.6,145.6 143.7,122.6 159.4,152.0 153.9,140.6 143.0,141.2 149.2,124.9 161.0,138.5 154.7,130.7 162.3,127.6 139.9,136.4 146.3,138.7 130.9,125.5 167.2,144.5 157.1,138.1 134.6,132.3 168.9,136.2 158.6,125.2 147.9,145.3 144.9,129.3 136.7,113.9 138.2,120.8 144.0,129.1 156.1,141.0 168.3,149.6 147.5,142.2 154.3,133.9 137.8,145.8 157.0,123.3 125.5,126.1 160.9,133.1 163.4,138.8 157.9,134.5 137.8,116.2 126.3,132.9 163.1,126.0 133.0,136.4 157.4,129.0 169.3,145.5 148.0,119.1 156.5,125.7 150.9,150.3 130.0,121.6 133.7,147.0 154.0,140.7 163.5,144.5 156.8,128.1 163.5,143.6 142.1,146.4 159.9,144.6 148.4,149.2 153.4,144.7 150.0,149.8 126.7,132.2 152.3,120.4 157.0,137.5 142.1,131.5 136.0,119.5 156.5,145.5 148.3,150.5 149.5,120.5 137.0,147.6 150.7,143.9 163.8,130.0 130.7,142.5 152.4,151.3 156.0,130.7 138.2,144.1 159.7,139.2 141.7,139.9 142.8,135.1 162.5,148.2 139.8,126.5 134.4,120.6 134.4,116.1 147.2,123.3 162.0,149.3 131.4,136.2 141.1,127.9 158.6,148.3 165.8,134.6 138.8,120.7 160.9,153.1 168.2,147.4 152.0,145.8 156.5,138.8 148.2,146.5 159.9,147.9 160.7,144.4 151.5,136.1 128.1,131.6 135.3,123.6 161.0,151.4 167.0,130.3 154.3,139.4 144.3,138.4 138.1,122.2 132.7,121.7 157.6,141.4 151.1,133.6 171.9,147.0 142.8,135.3 148.9,128.3 138.9,118.3 161.5,132.7 134.1,129.6 142.6,138.1 139.4,134.4 135.4,125.3 161.7,145.0 167.7,143.5 141.9,131.3 133.2,143.0 141.0,140.6 161.5,142.9 137.4,127.0 141.9,123.1 167.4,136.7 153.6,123.1 161.1,141.4 145.3,147.4 155.9,135.1 133.1,146.0 169.5,138.3 143.2,143.3 163.4,142.9 160.8,125.6 138.8,126.3 141.2,147.4 148.8,138.7 158.3,152.3 162.7,127.7 141.2,138.3 135.4,124.2 141.1,146.4 166.6,137.5 140.1,137.0 138.6,123.5 128.3,135.3 144.9,121.3 145.6,148.7 135.2,116.9 131.7,149.4 169.9,151.4 153.5,137.8 142.5,119.8 155.4,143.9 130.8,133.4 150.9,146.8 125.3,129.9 183.7,120.1 168.0,105.5 173.4,112.6 174.7,111.4 166.5,102.1 170.7,112.7 178.3,116.6 183.0,112.6 166.6,99.4 169.0,103.5 179.5,117.4 179.1,109.4 173.7,111.9 164.7,120.8 182.3,100.8 180.4,116.3 169.7,100.0 180.0,100.3 176.4,103.0 165.7,110.6 166.7,110.5 178.1,102.1 169.0,117.2 183.4,104.1 170.0,102.4 188.8,135.8 197.7,107.3 191.3,123.9 194.9,109.6 195.5,134.5 191.9,108.2 192.9,126.7 194.3,124.0 192.9,136.9 190.4,129.0 193.9,118.6 188.9,114.9 190.1,114.2 189.0,115.6 192.1,101.2 192.6,124.3 191.3,131.8 190.5,113.5 195.0,134.8 189.9,107.7 193.7,123.6 192.7,110.7 192.8,139.2 191.7,132.1 193.6,119.8 191.8,126.2 190.0,113.0 195.0,133.7 192.4,105.4 188.4,107.8 186.5,108.3 194.7,131.4 195.2,137.9 189.4,130.3 195.8,118.3 190.1,106.7 188.9,123.8 191.8,131.8 194.1,123.3 193.1,109.8 188.2,117.3 191.2,120.7 193.5,133.9 190.6,134.6 193.1,115.8 190.4,125.3 192.3,115.4 193.4,115.6 195.2,104.7 190.5,137.5 192.8,115.5 195.2,103.8 191.7,120.5 192.0,136.7 193.8,128.2 192.4,130.3 192.3,137.9 188.8,134.3 190.4,119.0 187.1,120.3 193.0,131.7 194.3,104.1 186.8,128.1 189.2,124.3 191.2,133.3 192.4,115.2 192.2,132.2 191.1,133.3 190.2,128.1 190.6,131.9 191.3,132.4 196.1,130.3 191.3,101.6 193.9,126.4 189.7,110.4 190.6,105.3 195.3,134.7 190.1,131.4 192.5,103.3 189.0,125.6 193.2,115.4 190.0,113.3 191.7,119.8 194.1,118.6 192.0,101.3 191.2,126.2 190.3,129.7 192.7,119.3 193.6,133.4 187.8,126.1 189.2,132.4 207.8,116.1 226.1,135.2 225.8,118.1 206.1,128.6 233.3,147.6 193.0,119.6 222.2,130.7 226.1,125.6 202.5,130.9 205.7,131.2 215.0,143.9 195.9,129.7 222.3,141.8 223.1,115.8 222.5,145.8 224.2,120.7 228.4,142.1 210.7,118.0 194.0,129.9 223.0,122.8 213.2,141.2 200.2,134.6 241.5,138.0 197.2,136.0 219.2,143.6 216.1,114.8 219.0,113.7 200.2,128.1 234.9,148.5 215.8,112.1 193.9,133.2 221.6,144.8 192.7,141.8 224.3,144.5 190.8,129.0 208.5,140.0 204.4,126.7 219.8,146.2 224.8,122.6 210.1,123.5 199.7,134.2 217.1,116.7 225.3,125.2 197.3,135.3 221.0,131.7 228.4,120.4 217.6,139.7 201.4,142.8 209.2,115.9 222.0,123.3 233.5,135.8 226.7,119.1 226.1,127.0 233.7,144.0 239.6,138.6 202.6,135.9 225.3,135.1 203.5,123.3 242.4,150.7 219.0,139.6 238.7,144.5 220.9,116.7 241.1,144.9 220.0,128.1 197.7,124.1 209.7,139.6 235.3,138.5 237.6,140.6 210.0,125.9 225.1,132.2 225.3,137.5 227.1,144.2 194.7,121.2 224.3,130.2 223.9,138.6 219.4,117.1 201.0,116.9 216.4,139.4 239.1,141.7 212.0,139.4 214.0,120.9 201.2,127.9 225.8,145.8 213.8,140.4 221.5,115.2 228.3,149.4 196.8,133.9 205.3,137.2 221.5,146.0 233.5,145.7 193.5,139.6 211.0,139.2 229.7,150.0 232.1,137.3 234.2,142.4 243.7,145.4 201.0,124.9 211.3,118.1 227.4,139.2 233.1,135.6 197.4,117.4 191.3,133.6 203.7,122.9 219.9,113.0 223.1,122.0 227.2,125.2 197.5,132.5 232.4,134.4 190.3,122.9 222.6,132.4 231.7,136.2 222.2,121.4 224.0,123.6 194.6,135.9 211.0,142.9 204.1,129.0 196.6,120.1 196.1,131.5 206.9,143.8 223.0,125.1 203.8,138.0 222.4,122.9 218.8,141.1 213.3,113.2 204.6,139.4 237.4,139.9 194.7,121.6 205.6,121.8 237.3,148.2 201.9,140.8 204.4,141.2 200.9,139.9 199.7,122.3 232.2,148.8 210.8,125.9 219.0,128.6 234.9,140.0 200.0,122.3 241.6,147.5 224.7,120.2 196.7,121.5 212.5,116.9 212.8,118.5 201.1,132.0 228.9,143.2 217.0,110.9 229.1,145.3 225.3,115.8 232.6,128.7 232.4,140.3 235.3,136.6 200.5,117.4 220.2,126.7 223.4,145.4 204.3,138.4 212.6,117.5 199.9,130.6 226.5,146.8 232.2,139.6 241.2,148.4 220.6,129.9 222.6,144.9 230.4,148.7 190.4,124.8 195.6,124.9 193.4,119.2 195.6,134.9 240.3,140.8 214.3,111.7 232.2,144.1 224.8,132.5 206.0,122.3 194.6,132.7 230.1,124.5 200.0,119.2 200.6,133.6 234.1,142.3 230.5,136.5 236.7,149.9 227.0,150.3 232.5,143.4 232.4,133.4 237.2,143.3 229.0,143.8 235.5,144.9 222.2,127.3 198.5,126.5 243.1,146.9 187.0,126.6 198.5,125.4 197.1,119.7 203.8,127.7 217.2,114.6 188.5,121.3 191.0,136.4 214.7,127.4 224.3,120.4 196.8,137.8 210.3,124.7 199.3,131.7 197.0,119.4 194.2,133.5 212.6,137.4 231.5,137.4 218.7,120.4 218.6,114.1 200.9,139.6 231.1,147.6 225.3,126.7 216.6,127.2 211.1,124.9 226.9,126.4 235.6,135.1 216.5,118.2 213.7,115.0 211.2,126.7 230.4,128.6 196.8,130.7 200.2,124.2 239.4,137.8 227.0,127.4 215.0,127.6 194.6,122.4 216.0,112.7 202.9,118.1 195.6,141.0 209.3,118.7 228.8,142.5 200.7,141.5 213.0,140.8 201.6,124.6 218.3,126.1 198.8,121.3 228.2,125.2 209.6,125.0 189.5,134.3 230.6,121.8 237.7,145.8 237.5,143.7 225.4,142.9 240.9,147.0 193.5,134.6 192.2,129.5 228.4,149.8 200.5,135.7 219.6,132.2 221.4,119.6 191.6,130.3 212.9,129.1 239.8,136.7 197.2,133.3 237.1,151.3 192.5,119.4 202.0,145.0 241.3,139.9 215.5,127.0 191.7,133.3 235.8,142.3 204.8,140.5 198.4,131.9 236.5,137.8 199.4,125.1 233.6,130.4 213.2,124.6 213.1,145.3 225.0,135.6 236.4,134.6 213.2,141.4 234.7,146.0 191.4,134.8 243.0,142.7 214.9,116.3 224.4,117.0 239.8,147.7 194.5,127.8 226.7,133.3 217.9,128.5 197.0,131.8 228.0,129.6 220.9,122.3 222.0,148.8 215.5,126.3 224.6,132.0 190.5,127.5 196.0,138.2 212.0,144.7 194.1,119.6 241.0,148.9 226.8,141.8 219.7,117.1 213.7,111.2 221.7,117.4 220.8,141.5 263.7,133.6 246.8,121.4 261.0,130.1 256.2,133.0 251.1,134.1 257.6,136.1 254.7,124.1 256.5,129.2 245.2,127.2 256.7,129.5 262.4,125.3 261.0,126.9 244.0,122.4 260.8,122.6 247.9,123.7 261.4,127.5 252.9,130.5 252.7,120.8 247.3,125.4 259.7,125.5 252.6,122.7 245.5,123.2 256.2,127.4 246.7,135.5 260.8,126.1 254.4,123.9 246.8,129.1 258.3,123.1 253.1,132.4 249.5,124.7 257.5,134.8 261.4,127.9 257.2,135.7 246.4,131.4 246.5,126.6 248.1,125.8 259.1,126.8 244.7,128.7 248.8,133.5 261.4,127.4 244.2,133.8 249.0,124.3 256.0,132.2 250.2,123.0 246.0,128.3 244.8,127.7 245.6,129.4 248.9,122.0 242.5,127.4 258.9,126.6 250.5,123.8 255.0,135.0 244.4,123.6 252.6,125.5 256.1,133.6 242.9,126.4 249.4,132.9 248.6,123.7 244.3,135.9 244.2,125.8 255.5,131.9 242.8,128.1 255.7,135.2 241.8,133.1 245.0,136.1 246.3,132.7 263.0,119.3 248.2,136.7 261.2,134.6 252.9,132.6 257.8,136.1 247.7,135.1 260.6,124.2 245.1,135.8 251.5,122.0 256.9,122.8 260.5,123.6 248.5,128.8 247.6,122.1 260.0,131.4 251.3,131.2 256.6,131.9 263.5,127.5 254.4,129.3 256.4,134.9 252.3,137.4 256.0,127.9 243.8,138.4 255.6,134.8 247.8,123.5 251.3,122.4 252.3,129.5 245.8,135.5 248.1,133.0 252.3,125.4 241.4,140.1 248.3,145.6 237.2,142.4 245.3,144.7 240.1,148.3 230.2,140.9 230.2,146.3 245.8,148.8 243.4,143.2 243.6,148.3 237.2,147.7 230.0,147.6 234.6,144.5 239.1,145.9 245.2,146.0 243.7,148.1 264.0,139.4 270.0,146.8 267.0,143.0 277.7,157.9 279.6,148.6 274.4,149.5 280.7,153.1 282.3,149.0 281.9,156.4 282.4,156.2 279.3,161.6 282.6,160.7 282.8,154.0 273.3,158.8 284.1,145.9 276.6,152.5 278.3,160.0 277.1,158.3 280.1,147.0 275.9,158.8 282.1,162.3 281.6,162.7 280.7,151.2 283.1,163.3 272.5,150.5 278.3,160.7 275.2,160.0 274.2,154.4 283.7,157.5 271.7,164.0 273.1,149.1 271.1,157.7 282.9,143.3 283.5,150.7 272.6,148.0 282.7,148.3 278.3,161.3 275.0,159.2 273.4,162.2 278.3,158.2 278.4,152.4 279.4,142.7 270.6,151.8 275.4,147.6 277.4,158.2 278.3,161.2 273.3,152.0 278.3,148.0 280.2,155.4 271.7,151.6 280.6,149.3 271.3,153.5 277.6,146.7 281.8,147.1 273.5,160.1 275.3,146.4 282.1,158.5 300.0,160.5 297.8,131.2 296.5,146.4 302.1,130.9 299.7,127.6 297.1,150.2 301.5,147.6 296.8,137.6 300.7,128.0 298.5,128.8 301.3,152.4 299.6,125.6 302.1,153.9 300.8,133.8 298.7,149.3 298.9,154.4 300.8,147.9 302.4,134.8 294.2,156.9 299.6,161.1 299.2,141.7 300.4,148.1 298.7,155.3 298.6,139.4 301.4,122.9 296.8,136.6 298.3,128.4 302.4,125.7 296.7,135.6 304.5,128.5 300.3,160.9 300.3,145.6 298.1,126.7 294.4,157.2 297.7,131.4 298.9,161.2 300.5,149.1 303.1,160.2 301.4,127.4 303.8,126.8 301.5,153.6 299.6,143.3 299.9,140.9 304.7,120.3 302.5,157.0 294.0,156.1 301.2,126.0 296.4,140.7 301.2,130.7 299.7,137.3 298.3,146.7 302.2,134.5 297.9,142.1 298.7,153.7 301.2,137.7 294.7,120.7 298.4,124.3 301.7,131.3 303.2,131.5 299.5,121.7 299.8,133.3 297.3,143.5 302.3,134.9 302.2,138.9 300.3,146.0 300.6,154.2 300.3,140.7 298.4,139.9 299.7,125.0 301.5,158.1 301.9,135.4 306.1,158.8 302.5,131.2 301.6,138.7 298.4,150.4 298.8,146.4 298.8,132.3 299.9,150.7 294.4,156.8 301.1,134.6 298.4,157.3 299.9,146.1 302.2,134.0 300.4,131.6 299.5,121.6 298.9,128.8 296.0,150.2 301.2,123.5 298.2,142.5 302.6,156.1 296.6,133.9 300.6,154.8 301.3,127.6 302.8,129.4 297.5,135.7 300.7,153.6 304.8,128.3 301.5,150.5 299.5,144.7 294.4,161.0 302.4,141.3 299.7,124.2 300.4,133.8 295.8,123.0 301.5,121.8 300.0,130.2 301.5,122.5 298.8,131.3 302.6,155.8 299.6,142.8 300.6,143.5 297.1,149.3 299.8,142.0 300.9,149.1 300.3,126.2 298.0,142.1 300.4,148.5 295.2,153.4 297.6,140.5 301.8,144.2 300.6,127.6 301.7,137.4 297.1,153.6 300.8,152.6 298.4,129.9 302.5,140.6 300.0,145.5 297.8,131.6 297.8,121.5 298.6,138.1 303.4,134.9 301.6,137.5 299.7,128.5 302.7,138.0 302.8,132.1 299.6,141.5 300.7,157.4 301.1,149.2 302.9,124.1 300.5,160.8 294.7,158.7 298.2,150.3 298.1,158.9 296.2,122.6 298.3,122.2 296.3,134.3 298.4,127.4 296.5,160.3 296.5,159.2 301.1,144.1 299.4,140.3 300.4,149.4 300.7,147.6 300.1,129.8 298.6,147.2 302.5,149.0 300.1,140.8 301.1,146.7 302.4,155.1 297.1,131.9 300.0,136.0 302.4,152.9 300.9,129.2 299.6,138.5 301.9,137.8 297.2,142.4 294.3,133.1 297.7,127.5 302.3,153.0 295.4,156.2 297.5,161.4 300.1,124.4 311.4,126.6 309.6,148.2 313.1,147.7 311.4,142.1 309.5,122.2 310.0,143.5 309.8,127.3 312.6,137.5 314.8,131.6 309.3,150.8 313.4,123.0 313.3,133.2 311.0,121.4 311.7,131.9 312.4,148.3 310.5,150.7 310.8,121.3 306.9,147.3 312.2,130.4 308.3,119.3 312.1,147.8 311.1,137.0 307.9,135.9 310.9,137.1 307.3,124.9 310.3,127.4 310.0,119.8 311.5,145.1 310.8,150.4 313.2,151.7 309.1,147.9 310.4,136.2 310.1,124.4 310.4,143.0 311.1,130.5 308.3,136.4 311.9,129.6 310.9,150.9 311.8,147.6 308.2,123.5 309.0,147.6 309.9,143.2 311.6,118.6 308.6,140.0 308.1,148.5 312.6,139.4 311.5,143.6 312.0,121.9 310.5,122.0 311.5,131.3 313.6,134.9 308.0,139.4 308.3,127.3 310.3,128.1 310.7,123.6 309.2,120.0 312.2,145.5 308.8,148.2 310.0,139.4 312.3,145.9 308.9,137.4 311.7,116.3 309.3,135.6 315.3,146.8 309.7,141.2 309.1,135.4 311.0,128.7 311.7,139.3 312.7,143.0 311.6,124.3 309.0,126.7 309.6,115.6 306.8,118.8 312.9,141.0 309.7,132.3 306.7,148.2 308.4,131.6 311.3,122.9 310.0,114.3 308.3,126.4 315.6,133.2 312.2,121.7 313.2,117.8 312.0,120.6 313.4,145.8 311.2,130.9 313.6,143.7 310.1,138.8 308.0,149.2 308.9,136.8 309.8,123.2 311.5,148.9 312.7,135.9 311.9,140.9 312.5,147.5 308.8,131.4 308.3,142.9 284.2,151.2 283.2,148.6 294.0,141.4 290.7,143.6 292.7,138.0 288.3,141.2 286.7,153.5 289.3,142.8 287.3,141.1 288.5,148.6 286.5,143.9 294.2,152.2 284.6,142.0 282.2,123.9 292.6,126.4 290.9,133.3 290.0,124.7 280.8,128.5 285.5,127.2 282.6,129.8 286.7,125.1 293.8,133.8 282.9,131.3 289.2,123.8 293.6,126.1 283.6,125.1 278.7,128.7 294.2,129.8 292.2,133.2 290.0,126.8 278.8,138.4 327.0,146.2 324.3,156.7 321.2,148.4 317.6,150.0 319.2,150.4 321.8,147.8 318.2,145.8 319.1,139.0 319.2,199.8 307.9,179.6 314.1,178.0 314.2,178.2 316.0,198.6 305.5,190.3 308.6,187.3 308.0,179.3 306.8,184.2 312.8,180.8 308.3,189.4 304.3,187.9 306.4,192.1 304.6,193.1 320.7,185.3 307.9,202.0 307.7,177.9 318.0,189.3 308.4,193.6 308.9,192.1 314.1,183.6 313.1,179.9 316.3,198.9 319.4,189.5 307.6,186.7 319.2,194.5 317.3,188.4 302.3,186.4 315.4,199.5 305.1,192.3 309.6,177.9 313.4,182.6 306.2,187.8 309.4,197.0 321.1,196.1 305.3,196.6 318.4,186.3 315.3,194.5 310.0,179.4 311.1,182.5 317.2,181.7 319.5,196.4 315.0,183.6 308.0,198.5 314.3,193.6 306.1,202.0 312.9,184.1 313.2,190.3 315.9,197.0 299.7,185.8 311.8,186.9 311.5,190.0 317.1,181.0 310.4,195.7 315.3,187.1 314.6,189.5 303.6,184.2 311.3,194.1 304.6,198.3 320.2,181.5 300.8,192.7 317.5,185.7 321.4,186.6 308.1,192.6 310.2,182.0 306.0,198.9 317.2,192.6 310.4,200.6 315.5,193.2 310.0,185.4 305.7,198.9 303.2,192.2 315.9,188.6 308.1,181.8 309.5,181.9 307.2,192.5 303.8,188.5 305.6,186.7 310.1,182.2 313.5,197.4 318.5,198.5 320.2,194.8 315.1,198.7 301.3,194.1 318.7,200.4 319.9,182.7 306.9,194.2 311.4,191.6 320.2,191.2 315.9,198.3 305.0,181.3 315.9,186.2 308.3,192.2 303.6,195.8 311.2,196.9 316.1,186.1 320.7,195.9 306.0,192.0 309.4,181.0 314.6,198.2 309.8,199.2 316.4,197.6 304.2,194.3 304.0,182.2 307.1,191.9 314.0,177.9 318.5,183.2 309.4,182.5 312.0,200.3 300.8,184.9 306.3,198.6 318.1,192.7 312.9,193.3 310.0,184.6 300.9,194.2 305.4,182.7 308.8,184.3 303.6,198.8 307.6,177.5 303.0,188.8 314.4,190.9 313.4,190.8 319.5,194.9 306.3,199.6 307.2,199.3 309.0,194.2 307.6,183.4 317.4,198.4 302.4,191.9 309.7,175.6 319.3,196.3 304.6,193.8 306.8,199.4 317.1,182.2 303.7,181.3 305.0,196.9 309.3,178.7 316.0,182.5 317.9,187.3 312.8,180.4 298.6,186.6 304.6,184.1 300.5,189.3 309.8,181.6 304.6,200.1 311.4,192.4 321.4,193.4 311.3,193.8 304.3,184.5 305.3,178.8 300.3,184.9 299.4,198.6 303.2,191.5 317.6,194.8 309.4,182.8 308.7,197.5 305.8,200.5 308.2,185.8 303.7,196.2 314.5,199.9 309.5,194.2 311.4,184.9 320.2,186.7 303.4,199.2 321.6,197.2 322.1,201.3 322.5,197.7 326.1,203.7 322.5,202.7 322.6,194.2 305.4,217.0 305.4,215.9 300.5,209.9 304.7,211.3 301.9,219.8 299.8,227.6 293.8,229.6 296.9,220.3 294.6,214.7 296.5,224.5 296.0,216.1 300.5,218.9 296.6,229.0 297.2,221.5 294.7,217.1 303.5,221.2 295.4,222.6 294.9,227.8 303.7,217.4 303.3,219.6 296.7,227.5 301.1,231.7 294.1,216.7 302.3,231.7 294.5,229.9 294.7,220.4 298.8,228.6 319.4,226.2 294.8,222.0 314.6,222.3 311.7,225.2 310.0,218.8 297.9,221.7 310.4,221.5 298.5,220.6 302.4,221.2 297.8,222.6 299.0,221.3 308.8,226.1 323.3,222.9 305.1,225.9 326.3,221.7 321.4,222.6 305.8,220.5 325.0,224.0 318.4,224.0 317.5,223.4 321.8,225.6 314.7,222.9 321.6,222.3 320.2,225.8 294.4,228.4 312.2,222.0 312.9,224.3 307.8,220.2 301.4,222.8 301.8,225.4 320.0,221.0 305.6,224.4 316.4,222.2 296.2,226.4 303.0,222.8 301.6,226.2 324.8,223.7 298.1,221.5 306.6,221.3 302.0,223.9 300.4,224.0 303.4,224.3 305.0,223.4 307.1,226.1 301.4,223.4 306.4,224.6 308.9,220.4 295.9,224.1 309.3,223.8 317.9,226.1 310.0,225.2 321.6,223.2 307.8,222.1 305.6,225.4 315.9,220.7 316.4,223.0 305.0,223.0 295.0,220.4 299.1,224.6 299.4,225.0 299.1,224.4 315.4,221.6 311.5,224.7 311.3,228.9 301.9,222.4 299.9,224.3 318.9,219.7 309.5,222.5 303.3,225.5 301.3,225.7 323.6,225.2 316.3,225.4 319.7,222.6 307.3,221.7 298.7,226.8 309.7,225.0 308.5,226.1 302.8,223.6 299.3,223.9 324.4,224.1 299.0,221.9 311.8,223.2 312.1,224.8 322.1,224.5 302.3,224.1 321.1,226.8 307.4,221.6 311.5,220.9 303.4,219.9 323.8,210.7 325.0,219.3 327.3,213.7 327.1,223.3 326.3,227.8 330.6,215.9 327.8,211.0 329.3,216.3 330.7,229.5 329.5,222.2 326.4,223.3 329.4,228.7 332.3,202.9 328.0,226.9 329.1,203.5 330.2,224.0 328.4,223.1 330.5,209.2 330.1,202.6 329.6,232.8 329.2,226.8 325.3,235.0 323.1,206.9 327.7,227.7 327.1,209.4 328.6,229.8 325.5,209.3 325.4,203.2 324.3,205.8 325.0,215.8 328.0,202.1 328.5,229.1 324.5,212.4 326.9,228.0 330.9,216.8 322.3,221.4 325.4,230.1 328.7,218.2 325.0,216.2 327.7,230.0 329.5,213.3 328.4,203.4 327.9,214.7 325.9,210.2 331.3,220.7 328.0,220.9 330.1,201.8 328.9,203.8 329.2,231.3 324.7,212.6 327.7,223.2 325.1,203.7 329.7,226.4 327.1,229.3 328.4,210.4 324.0,205.9 326.9,228.7 328.6,231.3 328.4,231.7 328.1,210.8 326.8,222.6 330.8,205.5 329.3,210.3 327.5,208.6 331.7,204.6 330.9,209.2 328.6,223.7 331.3,205.1 331.5,212.1 327.3,233.7 324.2,222.3 328.9,233.5 328.4,208.9 327.8,209.4 329.5,220.7 325.8,200.9 323.9,215.3 327.5,203.4 329.3,228.6 325.9,205.3 325.3,226.2 330.4,203.8 326.4,232.8 327.0,230.7 329.5,212.2 327.2,205.1 329.2,205.1 326.1,229.8 329.9,204.4 327.3,206.0 328.3,216.3 326.2,218.5 330.5,209.2 329.8,228.8 331.8,231.9 329.5,217.3 329.9,228.7 330.3,227.0 326.6,213.3 330.3,205.3 328.4,216.9 325.6,216.4 329.4,213.8 329.3,220.9 328.9,215.9 330.7,206.8 326.1,214.5 327.3,215.2 327.7,217.7 330.6,233.7 327.4,211.4 326.8,224.2 348.4,211.8 342.7,208.3 341.9,220.3 332.0,227.7 348.1,225.0 335.4,222.9 332.1,214.3 344.7,208.6 347.9,228.4 338.9,229.8 342.1,223.0 339.3,221.1 335.3,228.1 334.6,211.8 336.5,219.1 334.5,226.2 343.0,229.0 331.0,230.2 334.0,224.7 340.0,227.5 346.8,209.3 346.0,221.4 341.1,206.8 332.3,222.0 346.0,223.9 335.9,206.8 331.2,218.5 336.4,214.2 349.7,218.7 344.7,222.7 345.2,218.4 345.2,231.0 350.5,218.8 348.7,215.7 338.6,227.7 345.7,210.7 334.8,215.6 333.0,219.0 333.8,207.7 333.2,222.2 350.1,210.7 348.9,230.1 338.1,206.0 331.7,221.6 343.3,222.1 332.3,211.8 337.1,228.6 333.1,215.0 344.0,212.7 339.6,224.6 345.8,208.3 347.1,207.2 348.2,210.3 336.6,212.4 342.7,208.2 336.5,222.6 348.5,229.2 350.1,217.7 349.5,223.2 341.3,210.3 338.9,212.5 349.1,223.3 330.5,220.0 338.2,211.8 334.3,211.2 334.0,228.8 345.8,225.3 343.5,227.7 335.8,227.5 339.8,229.0 331.9,230.5 340.7,221.6 343.9,230.5 336.4,220.6 348.8,222.0 344.8,216.1 333.9,210.0 339.2,217.1 349.5,218.8 337.9,218.4 334.2,211.5 349.1,224.0 345.9,219.8 341.5,229.9 343.7,222.4 345.1,220.3 344.1,224.1 343.6,227.3 346.4,223.8 339.5,227.2 337.9,219.7 346.7,222.4 341.9,218.0 339.4,227.1 341.8,207.6 342.3,220.9 344.4,224.7 334.7,224.4 348.9,229.1 335.7,219.5 346.3,209.4 337.0,210.1 350.7,219.6 342.2,208.5 346.6,218.1 340.8,206.7 346.1,226.7 336.5,211.1 337.6,216.4 348.4,216.1 346.6,213.4 333.5,218.0 339.3,212.2 330.5,225.3 339.0,220.7 332.3,220.1 339.2,212.4 347.0,208.0 341.5,211.3 346.1,224.1 344.1,227.8 338.9,223.2 343.9,224.0 341.0,225.7 334.8,215.5 349.8,217.7 346.2,218.3 332.7,232.2 334.3,215.5 335.6,222.3 333.7,217.2 347.5,224.4 333.5,217.9 344.2,216.4 341.9,224.3 335.9,213.4 336.1,229.8 338.9,225.6 336.8,220.3 344.9,210.1 345.5,227.8 336.9,222.9 343.0,221.2 336.1,229.3 340.3,226.2 335.1,206.3 337.0,225.1 342.2,227.7 345.4,213.4 340.7,231.0 339.8,211.4 332.6,210.6 346.1,221.9 348.1,217.8 347.4,223.3 345.5,209.5 344.0,225.2 343.7,208.4 339.6,212.5 332.8,218.4 333.1,209.8 339.4,213.1 341.9,224.5 347.0,221.4 346.0,213.5 331.9,211.0 347.4,206.0 337.6,212.7 345.0,205.9 347.7,223.8 334.3,228.7 348.7,211.8 334.0,209.5 348.3,213.1 343.4,221.8 334.0,217.1 342.0,215.1 346.2,210.9 345.1,212.0 335.7,208.4 345.3,229.0 340.0,212.0 347.3,217.8 346.8,224.6 334.2,229.8 333.4,225.8 349.7,211.7 346.3,226.1 334.2,219.9 330.9,224.4 340.2,209.9 335.3,219.1 333.3,210.4 342.0,222.0 339.6,224.6 340.2,226.3 341.5,226.1 333.6,211.2 358.5,215.2 356.0,227.7 351.5,222.0 357.8,219.7 355.9,226.6 358.1,221.0 350.9,225.1 350.3,213.6 354.9,229.6 359.1,216.1 349.4,222.4 354.3,215.1 351.5,213.2 349.7,221.8 359.4,231.5 358.2,232.9 350.3,218.5 350.9,214.2 359.4,224.0 355.0,217.7 356.7,213.0 355.2,220.1 358.1,219.4 352.2,227.7 360.2,215.8 375.0,229.3 365.9,228.7 371.0,223.4 374.6,217.8 376.5,225.1 380.7,221.4 372.5,229.9 380.1,218.1 368.1,219.2 364.6,222.2 367.5,223.8 369.5,223.5 368.5,224.2 385.1,229.3 363.4,222.4 371.2,229.6 366.5,219.5 365.8,224.2 377.0,218.5 378.8,226.3 367.8,217.2 371.6,230.0 388.1,227.6 363.3,220.2 366.3,230.5 369.0,220.9 370.8,225.8 385.6,218.4 371.1,228.8 371.8,224.0 361.1,229.9 360.8,228.2 372.0,231.3 381.0,227.0 379.6,220.1 380.2,225.9 365.7,231.6 362.6,221.0 371.7,226.1 365.4,220.5 375.4,219.3 378.5,218.9 364.8,223.3 362.2,222.1 362.3,219.1 366.3,225.5 371.3,219.4 366.4,231.1 380.0,219.2 371.9,222.9 377.8,222.3 384.1,223.4 378.5,223.6 379.3,220.0 365.9,216.6 361.9,222.6 366.8,215.4 368.7,218.6 372.7,220.1 370.7,219.1 376.1,216.6 370.2,214.6 373.0,215.4 369.1,216.2 438.3,225.6 414.0,230.0 420.7,231.5 406.1,227.1 389.1,231.2 433.6,227.3 444.0,232.0 394.4,231.9 417.0,227.6 398.8,230.1 397.2,228.7 436.9,230.2 393.9,227.2 440.9,230.2 432.8,229.0 395.9,230.0 388.6,226.4 440.9,229.5 404.6,231.5 436.6,228.6 429.3,231.1 433.9,230.2 434.7,229.8 417.8,228.6 423.0,230.4 415.3,231.5 423.3,229.0 443.5,232.2 415.5,231.1 411.4,226.7 415.8,230.2 408.4,231.8 418.6,231.0 400.4,229.6 443.7,229.2 427.4,230.2 431.9,229.6 421.2,232.7 426.0,227.9 412.6,229.2 398.5,231.6 433.8,229.7 392.9,230.0 446.2,228.8 410.5,231.4 399.2,226.8 426.5,234.0 438.5,230.2 399.2,228.3 442.2,231.6 404.9,231.6 431.5,229.5 409.1,229.2 420.1,233.4 437.7,227.7 445.8,231.6 421.6,232.7 419.2,228.2 437.0,228.8 441.8,231.3 406.0,227.9 391.1,232.6 397.7,232.3 417.4,227.5 416.0,227.6 432.3,231.4 424.6,229.8 435.6,226.9 436.4,229.6 424.5,232.4 402.1,231.6 393.0,232.0 395.5,231.0 408.7,231.3 403.4,229.9 397.0,230.3 405.1,229.2 428.1,229.8 417.1,232.3 407.2,232.1 419.3,226.8 414.8,230.6 421.2,230.9 432.2,228.3 410.4,232.1 447.4,231.0 420.0,229.7 433.9,230.7 435.5,227.1 418.9,227.4 429.6,228.3 396.9,227.3 396.7,227.9 422.5,229.7 426.7,229.3 448.7,229.3 395.3,228.7 396.5,225.9 392.5,232.4 419.1,232.4 412.7,229.8 395.9,230.7 444.0,229.3 410.1,229.6 425.5,226.7 436.9,230.5 409.3,229.4 398.6,228.7 425.7,229.3 402.8,228.3 385.9,232.2 431.7,230.3 415.2,227.7 408.2,229.4 440.6,229.7 388.9,228.1 395.3,230.5 392.7,229.8 414.3,228.3 439.1,230.3 410.7,233.0 400.1,229.7 437.3,230.3 433.4,233.0 428.5,228.5 399.4,228.6 394.5,227.0 386.8,229.3 404.6,231.9 389.6,228.7 427.4,230.2 427.3,227.8 433.3,229.9 410.7,229.3 425.2,230.1 391.5,231.1 400.7,227.6 418.0,227.7 419.8,226.7 401.8,232.3 436.7,228.1 411.5,225.8 423.2,230.1 404.0,231.2 400.5,231.7 390.8,228.7 413.6,228.8 415.1,231.6 436.9,232.6 427.1,231.5 400.6,231.6 434.4,229.9 394.4,230.0 440.3,231.0 414.1,228.5 437.7,228.3 436.4,231.5 387.2,232.2 415.1,228.8 435.7,228.2 427.6,230.0 430.8,228.0 385.1,227.6 419.8,229.2 435.6,228.6" fill="none" stroke="none" marker-start="url(#maO)" marker-mid="url(#maO)" marker-end="url(#maO)"/>
<text x="-1.00" y="11.70" font-size="21" text-anchor="start" font-weight="bold">a</text>
<text transform="translate(30.50,128.00) rotate(-90)" font-size="18.3" text-anchor="middle" font-style="italic">Prochlorococcus</text>
<text transform="translate(52.00,128.00) rotate(-90)" font-size="18.3" text-anchor="middle">(×10<tspan font-size="11" dy="-8">5</tspan><tspan dy="8"> cells ml</tspan><tspan font-size="11" dy="-8">−1</tspan><tspan dy="8">)</tspan></text>
<rect x="288" y="336.2" width="100" height="214.6" fill="#E5E5E5"/>
<line x1="96.00" y1="336.20" x2="96.00" y2="551.40" stroke="#9a9a9a" stroke-width="1.2"/>
<line x1="95.40" y1="550.80" x2="501.00" y2="550.80" stroke="#808080" stroke-width="1.2"/>
<line x1="500.40" y1="335.60" x2="500.40" y2="551.40" stroke="#959595" stroke-width="1.2"/>
<line x1="95.40" y1="336.20" x2="501.00" y2="336.20" stroke="#bbbbbb" stroke-width="1.2"/>
<line x1="89.20" y1="550.80" x2="96.00" y2="550.80" stroke="#808080" stroke-width="1.2"/>
<text x="81.00" y="557.10" font-size="18.3" text-anchor="end" >0</text>
<line x1="89.20" y1="479.30" x2="96.00" y2="479.30" stroke="#808080" stroke-width="1.2"/>
<text x="81.00" y="485.60" font-size="18.3" text-anchor="end" >0.5</text>
<line x1="89.20" y1="407.70" x2="96.00" y2="407.70" stroke="#808080" stroke-width="1.2"/>
<text x="81.00" y="414.00" font-size="18.3" text-anchor="end" >1.0</text>
<line x1="89.20" y1="336.20" x2="96.00" y2="336.20" stroke="#808080" stroke-width="1.2"/>
<text x="81.00" y="342.50" font-size="18.3" text-anchor="end" >1.5</text>
<line x1="95.50" y1="550.80" x2="95.50" y2="557.80" stroke="#808080" stroke-width="1.2"/>
<text x="95.50" y="581.90" font-size="18.3" text-anchor="middle" >28</text>
<line x1="196.68" y1="550.80" x2="196.68" y2="557.80" stroke="#808080" stroke-width="1.2"/>
<text x="196.68" y="581.90" font-size="18.3" text-anchor="middle" >23</text>
<line x1="297.85" y1="550.80" x2="297.85" y2="557.80" stroke="#808080" stroke-width="1.2"/>
<text x="297.85" y="581.90" font-size="18.3" text-anchor="middle" >18</text>
<line x1="399.02" y1="550.80" x2="399.02" y2="557.80" stroke="#808080" stroke-width="1.2"/>
<text x="399.02" y="581.90" font-size="18.3" text-anchor="middle" >13</text>
<line x1="500.20" y1="550.80" x2="500.20" y2="557.80" stroke="#808080" stroke-width="1.2"/>
<text x="500.20" y="581.90" font-size="18.3" text-anchor="middle" >8</text>
<text x="298.00" y="609.90" font-size="18.3" text-anchor="middle" >Temperature (°C)</text>
<line x1="334.9" y1="319.5" x2="334.9" y2="327.5" stroke="#0060AA" stroke-width="1.5"/>
<path d="M329.70,324.50 L334.90,326.30 L340.10,324.50 L334.90,333.50 Z" fill="#0060AA"/>
<line x1="344.9" y1="319.5" x2="344.9" y2="327.5" stroke="#FF7700" stroke-width="1.5"/>
<path d="M339.70,324.50 L344.90,326.30 L350.10,324.50 L344.90,333.50 Z" fill="#FF7700"/>
<line x1="378.8" y1="319.5" x2="378.8" y2="327.5" stroke="#92208F" stroke-width="1.5"/>
<path d="M373.60,324.50 L378.80,326.30 L384.00,324.50 L378.80,333.50 Z" fill="#92208F"/>
<marker id="mbB" viewBox="-3 -3 6 6" markerWidth="6" markerHeight="6" refX="0" refY="0" markerUnits="userSpaceOnUse" overflow="visible"><circle r="2.05" fill="none" stroke="#0060AA" stroke-width="0.85"/></marker>
<polyline points="180.3,545.1 160.8,546.8 142.8,548.0 178.2,539.8 158.3,545.3 164.3,546.3 148.6,549.0 162.5,547.3 150.6,547.7 161.1,549.0 177.2,542.5 179.3,545.9 173.0,540.9 151.9,549.5 156.5,548.6 176.9,543.5 152.5,546.1 140.6,548.0 185.4,542.4 166.9,543.5 180.9,543.6 175.6,547.8 178.4,546.3 151.8,546.0 172.0,544.8 178.3,542.5 157.1,546.3 175.6,546.0 143.0,548.0 153.5,546.2 189.5,535.1 242.2,540.5 201.6,538.8 213.4,528.9 233.0,533.6 228.5,527.0 263.9,542.3 216.7,531.1 262.3,538.1 206.8,543.0 249.5,534.3 192.8,533.7 234.1,543.3 215.5,538.5 223.1,538.2 249.9,533.2 250.3,543.3 238.4,539.2 242.0,539.1 240.0,538.2 248.5,542.1 223.6,535.4 209.8,535.4 210.4,539.8 200.5,531.0 233.9,533.2 217.2,535.2 197.3,540.8 221.6,539.5 257.8,542.0 219.2,541.8 194.9,537.7 208.4,534.3 226.2,533.8 235.3,534.5 235.9,527.2 253.9,538.5 199.2,534.5 212.5,541.2 260.0,535.0 202.8,529.3 239.5,537.6 247.7,533.2 227.4,542.9 252.8,542.7 219.6,534.0 212.1,530.4 223.9,532.8 201.8,530.5 257.3,532.0 196.7,542.9 196.9,536.7 252.4,545.2 258.3,539.4 207.0,532.3 225.1,533.5 184.5,538.7 196.0,540.4 197.4,526.8 186.5,537.2 226.4,528.4 194.3,542.5 206.3,532.4 203.5,533.3 255.2,546.5 196.6,530.7 245.2,541.2 215.3,537.8 196.4,529.3 228.9,526.5 236.6,530.8 185.1,540.2 190.6,533.1 249.5,538.7 238.2,532.2 213.6,532.0 238.7,542.4 207.3,538.8 260.3,539.7 212.8,530.8 198.9,541.5 216.0,542.2 261.4,541.7 198.3,532.3 230.1,527.6 234.3,538.7 238.6,539.2 255.6,538.9 228.1,533.2 231.7,544.4 248.2,543.9 233.4,541.6 187.9,532.0 206.9,540.6 260.8,535.9 208.5,538.3 218.8,540.2 237.9,532.5 201.7,529.7 197.9,543.0 230.7,530.0 211.2,532.9 259.1,530.6 187.1,544.1 209.5,539.4 211.5,541.7 191.2,538.0 187.2,533.8 204.1,539.6 242.1,540.1 261.0,539.7 190.4,533.6 236.6,533.6 201.8,529.1 215.3,544.7 231.1,539.0 215.8,541.4 193.7,542.9 207.6,543.0 190.7,529.4 261.8,545.6 242.2,536.4 230.4,529.2 196.0,542.6 210.4,528.1 254.9,530.4 204.3,532.1 265.2,533.7 213.4,544.7 234.5,530.0 213.8,539.1 231.1,530.9 230.3,536.6 253.9,542.9 199.4,543.3 221.9,540.7 251.6,531.4 252.4,535.9 183.7,534.8 251.1,529.5 210.8,534.4 256.4,539.1 217.3,530.0 242.0,529.9 197.7,533.2 200.9,529.1 189.6,530.4 187.6,534.5 242.4,539.7 260.2,545.0 238.0,535.7 225.2,538.6 241.0,541.3 205.8,533.3 198.7,533.1 250.7,541.4 186.9,537.7 192.1,539.7 203.6,544.5 253.9,538.2 211.2,534.2 264.1,538.5 206.4,529.8 230.2,541.4 259.0,541.7 194.3,534.3 262.7,538.8 210.2,529.6 247.3,541.7 223.9,536.1 208.1,526.9 181.3,541.8 200.5,531.2 235.2,544.2 255.8,532.8 234.8,542.8 203.6,528.7 209.8,535.6 193.2,534.1 231.4,528.0 199.0,536.6 241.3,530.8 239.2,529.5 194.7,533.6 253.1,543.1 251.5,532.3 186.9,537.8 254.6,532.0 193.0,542.4 242.3,531.9 249.1,532.8 189.8,530.9 245.8,535.6 244.0,539.6 219.9,542.4 187.9,536.7 212.4,531.8 250.8,540.5 199.7,539.0 205.9,536.8 197.2,536.0 196.2,533.5 259.0,540.5 201.6,533.2 253.4,541.2 257.5,534.3 249.5,538.9 255.8,535.7 218.2,534.1 226.7,533.5 234.2,536.8 210.4,532.8 206.3,542.4 224.2,528.5 223.3,531.7 261.2,541.8 206.3,526.8 232.7,530.8 217.7,539.5 259.7,538.3 221.8,542.0 211.8,542.7 222.5,532.2 204.9,533.0 241.7,542.4 206.0,527.8 261.5,533.0 189.0,533.2 248.7,538.3 233.4,543.0 252.6,535.0 259.3,533.0 196.9,527.6 239.9,540.5 230.0,528.2 194.6,544.0 241.5,539.8 209.5,535.2 254.8,540.8 185.0,542.2 191.6,534.8 230.6,539.5 240.6,530.9 223.2,532.0 206.3,536.2 243.2,531.5 225.0,537.6 204.4,540.7 226.2,533.4 190.3,534.8 215.9,541.9 193.9,541.8 221.8,540.9 219.5,533.4 208.0,543.8 249.8,539.0 219.3,532.7 260.1,540.7 241.1,530.6 208.7,537.9 230.7,530.9 251.2,535.4 250.1,542.4 221.9,532.3 224.8,541.4 194.0,532.9 211.7,528.9 204.2,529.0 261.0,541.0 257.1,532.3 197.4,534.5 214.9,542.1 221.1,540.2 197.6,537.5 234.5,529.1 232.9,539.7 190.4,544.4 199.8,537.4 214.0,541.1 247.0,542.7 215.0,532.1 240.6,535.0 256.9,530.5 195.5,527.7 234.5,528.0 258.5,539.3 259.8,543.4 225.4,526.8 224.6,536.0 229.7,531.3 205.4,539.8 219.3,543.7 240.3,535.8 215.9,530.9 198.2,538.7 236.6,526.1 220.1,539.2 253.1,531.2 215.7,531.9 241.1,530.4 212.2,527.1 205.1,533.9 223.1,541.7 251.5,540.4 201.1,532.0 246.6,534.5 219.5,542.7 193.7,538.8 218.0,540.0 253.4,540.6 228.2,535.2 259.5,533.9 209.0,537.1 240.8,531.8 253.7,532.8 247.6,540.5 202.1,536.9 249.9,532.6 255.5,533.9 228.1,532.5 195.6,536.9 242.7,543.2 218.9,532.2 212.6,536.0 257.6,543.1 209.9,533.3 222.4,534.0 245.5,533.4 239.6,544.6 206.6,546.7 230.7,531.6 244.5,532.3 204.5,542.7 200.2,538.2 194.4,535.4 234.4,541.8 241.0,531.5 232.0,541.6 228.1,538.2 227.0,537.1 201.3,541.9 249.9,534.6 241.7,540.5 226.2,545.1 192.7,544.2 195.7,538.8 239.9,538.5 198.9,529.9 190.5,540.4 244.8,538.0 264.0,531.6 206.4,541.2 218.7,544.7 226.8,526.8 196.2,536.8 202.3,530.5 186.7,536.5 253.6,529.9 232.2,537.0 204.5,540.4 254.8,535.9 249.8,534.0 231.2,538.8 190.2,537.5 208.8,529.9 247.0,539.0 207.2,537.2 243.7,537.9 236.7,537.4 256.0,537.4 255.8,532.5 203.0,537.7 212.7,531.8 190.8,539.4 197.6,533.7 241.6,545.2 229.9,535.0 192.1,537.9 249.7,509.7 232.4,513.0 237.4,507.3 237.1,525.4 238.1,515.7 236.3,525.1 233.0,516.7 245.9,508.1 238.1,524.5 230.9,519.6 253.4,509.6 233.6,513.3 239.6,509.7 233.6,513.9 247.5,509.7 251.1,522.2 238.9,515.8 236.7,515.9 233.1,514.5 251.1,511.0 255.4,526.3 250.3,516.4 238.4,507.4 234.7,510.2 247.1,517.7 251.1,515.9 251.8,521.8 266.5,506.6 261.7,503.3 261.2,511.0 266.1,510.9 267.0,512.0 262.8,507.1 260.0,509.5 257.6,508.7 257.4,512.4 268.5,516.0 262.9,508.8 268.6,506.5 261.3,507.7 265.2,516.3 268.8,513.9 259.3,508.3 263.3,505.5 271.0,508.1 258.7,515.9 265.0,511.9 261.1,506.5 264.1,511.6 258.0,489.0 261.0,486.5 264.0,484.0 267.0,481.5 270.0,479.0 272.0,477.0 245.0,508.0 247.0,514.0 246.0,519.0 269.0,498.0 273.0,496.0 277.0,500.0 277.5,454.6 279.3,455.1 276.0,451.7 281.2,457.5 281.6,463.0 278.2,453.4 292.9,473.1 279.0,485.0 276.3,469.0 280.0,475.1 288.1,484.4 280.8,486.0 279.5,477.9 277.5,472.2 278.9,486.4 281.5,465.0 281.5,483.5 286.6,464.2 282.6,487.2 291.3,479.2 277.6,483.0 281.6,478.1 276.5,476.6 279.5,472.2 292.6,471.8 289.6,474.4 285.5,485.5 288.3,483.4 275.6,482.3 280.2,472.5 290.0,469.3 290.7,469.8 286.9,479.2 292.7,464.1 280.4,470.0 286.3,481.8 287.7,478.2 276.0,481.3 287.1,471.1 286.9,474.3 282.1,486.6 288.9,473.8 284.1,463.3 274.8,465.6 288.1,475.6 286.2,481.2 288.1,480.9 274.8,477.0 288.7,486.5 286.2,475.7 282.8,464.2 276.4,475.5 292.9,467.7 291.1,466.6 279.9,480.3 274.6,484.1 288.3,463.6 285.8,485.7 292.2,475.2 274.7,468.8 286.0,481.2 278.2,474.5 285.7,482.4 277.4,480.2 274.6,477.9 294.2,481.0 276.6,476.4 283.0,477.6 276.9,478.3 280.2,471.9 291.3,480.2 278.4,488.2 276.2,475.3 289.5,485.2 286.6,484.5 292.9,484.2 280.6,483.4 277.8,472.5 283.7,464.5 292.1,486.2 284.5,475.4 283.4,475.4 277.7,486.0 287.4,477.3 276.6,473.7 279.1,471.6 291.6,462.3 286.8,481.0 288.9,478.9 282.7,480.4 278.2,474.0 291.9,484.6 286.1,478.8 280.7,474.9 287.7,467.0 287.9,482.1 278.9,465.7 281.7,486.2 273.0,463.3 283.3,477.8 279.7,469.7 275.7,483.1 289.1,477.9 284.0,481.2 279.2,484.0 281.5,466.8 289.4,483.5 290.6,474.7 289.6,468.8 291.0,476.4 290.0,478.7 285.6,479.5 277.0,467.5 276.9,480.2 293.4,486.9 290.6,479.1 279.3,466.0 280.8,478.0 292.3,476.7 288.9,501.9 280.1,521.9 287.6,498.3 288.1,506.3 282.3,512.5 278.7,510.8 277.3,512.9 279.5,492.7 282.2,488.7 277.8,507.5 291.9,501.2 284.0,519.6 291.4,504.3 285.7,510.0 287.4,489.1 283.4,494.4 279.3,494.4 280.6,497.7 285.7,493.8 293.6,490.1 279.4,489.1 292.4,496.1 287.2,520.2 287.3,494.3 277.4,491.9 277.7,498.1 285.7,501.5 284.2,504.8 282.9,519.0 291.0,504.1 283.6,487.3 280.3,507.7 289.8,491.1 282.4,489.8 281.3,518.1 284.7,522.9 285.0,502.9 287.4,493.0 277.0,504.6 286.9,490.5 283.0,515.5 279.8,501.2 281.7,500.2 280.3,514.5 284.3,488.7 290.0,519.7 283.8,494.9 284.9,493.0 292.5,499.9 290.5,509.4 285.1,511.0 284.3,520.3 281.3,488.3 285.4,507.0 289.6,492.2 278.7,494.9 292.4,502.3 279.3,514.7 285.1,513.5 279.2,511.0 280.4,504.8 280.5,506.2 288.0,495.1 280.2,500.2 289.5,492.8 285.0,495.0 289.4,519.1 294.5,498.6 279.3,510.7 278.4,520.2 288.5,516.2 278.3,494.3 290.7,493.6 280.2,516.9 290.1,518.1 282.3,506.9 295.6,494.0 281.9,515.2 281.6,516.7 283.1,508.8 287.4,492.4 295.9,511.9 279.3,516.1 286.4,500.6 278.6,500.8 277.0,496.2 281.7,510.3 285.0,510.3 285.5,513.4 283.7,512.7 277.2,497.1 282.5,525.8 281.3,530.5 279.9,523.7 277.4,523.8 281.7,537.2 283.4,524.2 274.6,526.7 282.1,537.4 281.1,530.3 326.0,454.1 327.7,475.5 321.6,484.6 320.3,478.8 323.8,471.4 325.4,469.0 324.8,446.3 330.5,452.1 330.5,458.5 326.9,461.7 326.6,490.6 324.7,454.9 324.9,463.5 328.6,464.1 317.6,458.5 322.0,477.5 323.2,493.2 328.6,451.6 325.1,479.6 320.3,446.3 316.1,485.4 325.4,461.2 318.9,487.3 324.0,450.6 319.5,487.0 328.5,448.0 327.9,467.1 328.5,492.8 326.0,452.3 323.7,492.2 323.5,443.7 321.2,450.8 324.5,475.2 321.2,451.8 327.8,487.9 322.4,445.6 320.0,467.8 326.9,483.6 324.8,456.4 326.5,465.4 323.4,491.9 324.6,494.3 322.2,455.3 319.5,463.6 329.1,473.2 327.7,443.6 325.5,451.3 322.4,469.7 316.4,464.6 317.9,461.3 322.1,447.6 329.3,463.9 315.5,487.3 319.1,458.0 321.6,446.1 325.3,490.5 319.5,463.9 329.3,486.5 328.5,468.8 320.3,445.3 323.9,468.0 322.3,448.3 322.5,446.9 328.9,454.7 323.4,489.5 327.2,479.9 326.7,474.9 324.8,470.9 328.5,451.3 320.4,469.1 324.2,481.6 326.5,475.1 330.3,471.8 325.6,488.8 321.1,466.8 322.5,475.4 318.6,490.3 327.7,460.8 322.8,456.5 325.7,479.2 319.4,486.7 322.5,479.4 329.9,466.6 323.4,464.9 324.6,458.7 326.4,462.4 329.2,472.4 327.0,479.5 318.5,471.4 321.4,487.7 319.1,463.5 324.7,458.8 325.9,451.1 329.4,450.4 329.1,477.1 317.6,463.3 329.0,481.8 327.5,458.0 322.8,443.4 325.2,449.4 324.0,452.2 327.4,449.0 326.0,449.8 327.8,454.4 326.2,458.4 326.6,493.7 324.2,445.3 325.5,474.2 326.2,484.7 325.5,481.3 327.2,475.7 322.9,491.4 319.6,482.2 324.0,456.1 325.2,482.3 320.2,482.9 328.8,464.9 327.0,458.8 319.6,444.7 322.5,468.3 322.2,459.1 327.0,485.8 323.1,478.7 330.0,455.6 320.9,472.9 329.7,451.0 319.3,449.6 323.0,447.6 327.0,474.2 329.4,462.0 325.5,480.1 322.6,473.7 320.5,461.1 320.0,489.5 324.7,459.5 318.6,445.5 320.0,472.8 325.8,450.9 327.7,461.7 320.4,457.8 328.5,446.9 318.3,478.9 329.2,455.0 325.6,461.3 320.8,487.1 324.1,485.5 325.8,464.1 328.0,450.2 315.1,491.4 316.3,469.0 325.4,481.7 325.5,465.2 320.2,495.5 325.1,479.4 322.4,473.1 322.9,445.7 330.9,487.8 329.2,467.7 317.6,467.9 326.9,452.7 318.1,483.0 321.9,451.4 325.5,450.5 320.3,471.1 328.0,456.9 330.2,496.5 329.3,483.8 319.2,467.1 318.6,457.6 330.9,493.8 323.8,477.0 324.2,465.7 327.1,482.3 321.0,453.9 325.5,480.3 317.0,455.9 325.8,461.4 325.6,468.3 325.5,473.6 320.0,470.1 329.3,486.7 317.5,456.4 323.0,446.9 321.4,491.4 327.1,447.0 316.5,473.8 323.7,473.7 321.5,469.8 319.0,493.9 326.6,489.0 323.5,486.7 325.7,476.8 315.0,453.0 329.4,462.4 322.2,473.5 319.1,487.3 321.4,473.5 318.7,492.2 323.0,488.2 326.8,478.7 326.1,455.6 323.1,448.5 326.8,481.5 321.5,486.4 325.9,454.4 327.3,488.0 321.8,485.0 327.8,472.0 325.6,486.0 319.2,478.3 329.3,472.5 321.2,452.0 318.6,462.7 322.0,461.9 330.9,463.3 326.9,474.8 320.3,447.3 325.2,494.9 327.5,468.7 316.3,461.5 329.3,472.7 315.9,461.7 321.5,460.1 328.2,445.9 325.2,457.1 321.0,484.6 328.7,455.9 328.0,453.3 321.0,492.9 318.7,493.4 324.5,486.8 331.3,491.3 328.1,467.6 323.0,485.4 321.5,453.2 319.0,487.5 324.3,488.5 317.8,451.6 322.9,462.2 322.2,483.4 317.2,460.9 327.7,458.5 319.7,491.2 329.9,476.1 320.7,451.0 323.5,458.7 320.3,456.1 318.3,465.7 317.0,485.2 322.7,493.1 321.0,492.5 330.1,480.7 322.6,487.3 319.9,453.5 320.7,490.3 317.2,491.0 328.4,444.6 330.2,479.1 323.8,455.2 319.6,450.6 322.7,471.0 321.4,495.3 324.6,452.5 317.3,476.8 322.9,461.3 317.0,491.1 317.6,468.6 325.9,464.1 322.8,457.8 325.0,476.6 328.7,473.4 330.1,485.1 320.2,463.2 330.4,464.9 316.8,445.3 326.1,463.4 322.9,483.8 321.8,469.5 322.0,466.4 324.3,454.5 320.4,471.5 328.6,447.5 325.3,476.0 323.6,488.7 330.5,476.7 326.6,454.4 326.0,451.6 322.8,458.8 322.6,479.2 320.5,480.2 325.4,475.5 321.5,477.7 325.8,446.7 321.6,450.0 325.6,463.6 321.6,479.3 323.6,483.5 327.2,445.6 320.4,479.3 316.0,488.5 325.1,485.1 327.7,489.7 321.7,461.0 324.3,487.7 322.8,464.6 323.6,449.6 323.6,462.9 330.8,484.5 323.1,457.7 327.0,468.3 325.7,462.8 318.9,452.9 325.9,492.6 325.2,485.3 327.2,468.3 325.8,480.5 323.8,486.3 319.9,490.3 320.9,466.7 319.8,482.0 327.6,447.2 329.9,465.7 324.6,477.8 322.0,469.4 317.1,447.1 321.0,452.7 327.1,472.0 329.4,448.7 320.0,445.6 315.4,487.6 322.4,474.1 327.5,466.7 327.6,472.4 323.4,467.4 325.4,487.9 320.9,444.9 330.2,445.0 318.7,487.3 329.9,494.7 319.4,480.5 316.7,483.6 322.1,450.4 321.8,438.7 320.0,441.3 330.7,498.8 331.0,437.3 328.4,488.2 323.4,462.8 328.2,472.8 322.4,488.9 324.8,453.9 323.4,484.9 332.9,445.7 330.4,462.7 333.0,470.1 313.3,457.5 321.7,461.1 331.6,497.9 315.7,484.4 328.0,498.0 316.6,479.0 321.3,450.6 332.0,479.5 318.5,455.2 314.6,489.3 326.1,485.9 323.5,456.3 322.4,470.4 326.5,448.7 333.7,467.1 319.6,444.6 322.6,495.0 324.8,478.5 318.7,476.8 333.9,442.1 322.6,461.3 321.7,455.5 318.2,492.8 315.6,453.7 315.4,488.9 323.0,469.7 319.9,469.2 325.2,476.8 322.7,437.8 318.5,449.4 324.9,492.0 332.4,462.6 325.0,445.8 317.6,472.9 328.7,493.4 331.9,493.3 331.2,471.0 333.9,445.4 321.5,481.4 321.9,459.8 316.8,443.1 331.7,476.7 332.9,491.0 314.6,469.3 333.2,456.5 328.5,495.6 323.5,437.5 317.8,452.3 312.9,488.0 315.2,439.0 331.7,472.4 333.2,461.3 315.1,466.6 325.1,486.4 317.7,463.0 327.4,441.9 322.2,447.4 330.3,448.5 325.3,444.6 323.7,470.3 315.5,439.2 329.1,438.5 322.0,448.3 331.4,468.1 323.2,465.7 317.4,481.7 331.0,442.3 327.7,496.3 318.9,484.9 324.4,482.6 317.9,459.2 316.7,442.6 322.7,485.9 323.9,494.2 312.5,495.1 314.0,494.3 327.8,467.9 316.1,485.6 315.3,448.9 327.0,474.2 320.8,455.4 314.3,489.2 322.3,451.2 330.5,445.2 325.3,462.3 320.2,469.1 328.5,488.0 321.5,472.9 320.2,482.3 320.8,455.4 316.2,483.6 322.5,452.5 320.1,474.8 328.6,455.6 334.5,465.1 316.3,478.5 323.4,469.2 316.9,482.6 326.3,486.8 325.3,461.2 332.0,468.1 320.6,482.3 329.9,469.6 330.0,471.4 319.1,462.3 321.3,457.9 321.7,452.2 315.0,472.1 318.1,497.4 331.8,438.8 327.1,496.5 328.1,480.3 333.1,473.1 326.5,446.8 316.4,421.9 314.2,430.7 309.4,465.4 311.4,492.2 307.5,471.4 313.1,471.9 306.4,469.6 311.7,476.2 313.1,473.2 310.6,465.8 313.3,476.5 315.3,462.5 310.2,482.1 308.3,479.4 317.6,478.0 305.7,467.4 315.4,485.6 305.5,464.1 314.1,469.1 312.2,460.2 316.0,463.7 305.2,489.6 306.5,463.9 308.2,466.1 309.1,486.8 307.2,479.2 306.2,476.8 309.1,484.9 364.1,531.6 394.4,533.1 370.4,544.1 367.0,543.6 384.2,543.3 396.2,513.7 362.9,532.9 383.2,519.8 368.8,538.8 349.2,535.9 389.1,521.5 353.8,539.7 369.0,543.6 356.1,543.6 359.0,540.9 396.3,541.2 368.8,528.1 373.0,523.1 359.2,542.3 384.7,524.6 381.2,530.6 375.2,537.2 396.2,530.1 352.7,541.6 393.6,542.7 386.4,519.6 387.8,534.7 370.4,531.3 390.5,527.1 385.6,537.7 397.3,527.6 391.1,532.3 362.6,524.8 351.5,540.9 361.0,527.5 375.7,527.1 399.2,540.9 355.7,545.2 397.4,546.9 376.9,529.5 372.4,525.3 368.3,538.7 365.5,537.7 365.9,530.7 395.8,528.2 359.3,529.2 384.5,526.4 353.1,543.9 358.5,530.6 358.4,532.9 374.3,531.0 386.3,529.0 352.8,529.8 395.8,540.2 395.8,515.5 370.5,539.9 365.0,534.8 363.4,538.6 368.9,544.0 376.8,544.3 364.0,544.3 371.0,538.4 391.9,532.2 385.0,520.6 371.0,543.1 395.7,520.0 393.7,537.5 390.6,530.7 391.4,525.3 385.5,534.4 396.4,520.0 367.2,544.6 378.0,532.9 378.8,524.9 377.5,528.1 374.8,535.0 360.0,529.1 371.3,538.0 383.8,527.9 393.0,513.7 365.4,542.7 358.2,535.0 381.0,541.8 382.9,543.8 379.6,528.8 392.2,527.5 394.4,544.3 372.7,529.8 375.2,534.8 366.6,532.5 387.3,541.4 394.0,514.7 351.4,540.3 370.6,529.3 380.5,519.6 357.0,536.0 368.0,527.8 373.6,530.4 376.2,531.4 374.3,539.6 355.2,540.9 382.7,532.4 396.0,531.8 358.1,537.3 354.9,532.9 367.5,543.5 381.3,535.0 382.0,532.6 386.1,544.4 387.6,517.1 389.2,525.0 378.4,530.6 393.0,539.9 389.0,523.6 386.8,536.4 360.4,548.7 388.2,527.8 378.0,537.7 377.6,523.4 349.3,538.7 358.2,535.6 376.3,527.2 385.4,517.3 365.2,538.8 349.6,545.2 395.3,545.2 392.7,538.2 356.8,539.6 376.3,529.1 363.1,539.1 379.0,538.9 386.5,527.0 361.2,543.6 371.0,535.6 376.0,533.5 375.9,539.6 373.3,533.5 362.6,525.1 354.0,536.2 376.6,545.4 357.5,545.3 386.3,536.2 392.2,527.3 365.4,528.8 397.0,521.1 363.7,527.7 378.6,538.0 385.7,542.6 360.7,541.3 362.3,542.5 360.9,533.1 357.5,535.0 360.9,530.7 389.5,530.2 388.5,535.8 390.2,542.4 374.9,541.4 376.6,520.9 369.0,524.6 353.4,529.5 388.0,542.3 394.1,535.9 377.2,537.4 368.5,530.3 361.6,538.3 380.6,533.6 375.8,542.1 382.9,541.5 373.7,542.4 394.5,541.9 383.1,540.8 392.6,520.7 395.9,534.4 367.0,536.2 349.0,546.9 399.0,529.8 385.7,533.0 365.7,526.0 364.5,532.6 393.7,534.8 382.4,543.8 357.2,536.3 369.3,538.7 387.0,546.4 371.8,536.4 383.6,534.8 380.1,528.8 373.1,540.8 355.4,531.8 368.1,542.0 360.7,530.1 382.9,534.0 391.8,540.0 393.4,537.9 353.6,542.2 390.6,532.9 389.9,544.2 384.5,544.2 392.0,531.3 361.1,542.9 364.4,529.7 349.1,534.4 355.0,534.5 386.6,525.4 357.1,527.5 375.6,522.8 351.0,534.0 370.8,524.1 389.1,523.6 394.8,529.2 388.6,522.1 358.9,538.1 350.8,541.5 369.1,540.7 389.7,534.0 367.2,539.2 395.2,541.6 356.2,542.2 380.8,532.8 363.9,525.8 377.9,526.1 372.8,525.6 355.7,536.4 388.3,537.5 368.8,526.3 386.4,542.6 350.4,540.1 365.8,530.8 360.5,526.6 377.1,542.3 365.4,528.2 360.9,542.2 394.8,540.2 369.6,537.3 388.6,529.1 387.3,539.0 357.6,539.3 385.0,541.1 383.1,542.1 386.5,528.0 352.9,537.2 383.1,546.1 372.6,529.8 373.9,542.3 348.7,544.0 356.7,543.3 386.5,525.0 388.3,522.8 393.9,526.2 388.3,527.3 358.5,544.2 359.2,528.1 378.4,533.2 364.0,541.9 384.9,527.2 371.0,541.8 349.3,538.1 395.5,514.8 388.3,526.5 381.4,541.5 364.7,536.3 355.2,529.0 393.0,527.0 392.4,531.6 372.4,523.8 359.1,545.7 357.2,529.3 348.1,539.2 390.6,546.1 388.5,543.6 382.2,530.0 354.2,537.5 375.1,547.4 352.8,542.1 384.8,535.8 380.3,537.4 387.5,516.4 384.2,546.4 385.0,545.3 386.2,543.1 384.6,530.4 388.5,518.6 369.3,534.4 390.4,529.8 397.6,511.3 373.8,537.0 359.3,546.8 393.3,529.7 393.6,541.7 387.0,528.9 373.3,541.3 366.0,532.0 351.9,531.6 394.5,513.0 398.4,519.3 353.7,541.7 392.3,536.1 355.8,545.0 394.6,545.7 385.4,520.1 392.2,543.6 390.3,544.8 390.8,539.5 373.6,544.9 356.7,543.1 367.2,536.5 389.9,526.4 386.9,539.0 381.6,525.1 358.0,532.9 386.5,534.6 362.4,532.0 369.6,536.5 384.1,543.6 371.2,526.0 386.8,536.5 388.6,519.9 373.8,537.4 397.2,514.4 356.0,539.8 395.8,521.2 383.7,528.5 370.4,533.1 395.5,522.9 374.7,527.4 397.6,527.8 372.9,525.9 354.1,539.1 380.0,545.5 394.1,532.1 369.2,527.7 349.1,535.7 359.5,542.2 370.8,530.7 394.7,516.5 353.5,545.2 364.0,545.8 374.0,526.7 350.1,534.0 370.4,534.7 389.7,514.5 385.6,524.5 364.9,533.7 371.2,541.2 366.4,534.9 386.7,531.4 385.9,537.8 395.9,519.0 374.5,545.8 347.5,535.8 386.6,534.9 397.5,514.2 370.7,537.7 377.8,524.7 383.3,546.1 372.1,523.7 380.2,545.2 349.2,536.4 387.7,525.2 373.0,541.7 383.6,538.0 385.5,546.5 375.9,531.7 391.9,540.2 386.8,540.6 387.5,528.5 375.3,530.4 393.7,539.7 356.0,539.2 384.6,527.6 371.7,533.5 348.8,535.7 384.5,523.0 360.6,542.6 375.9,524.1 361.4,518.2 357.3,516.8 358.6,525.3 359.2,519.8 373.9,518.3 370.2,522.9 359.2,521.0 370.6,523.5 359.5,523.2 365.3,523.5 355.6,525.0 355.8,518.4 351.3,524.7 413.4,483.4 420.4,504.6 417.9,504.9 416.4,517.4 412.7,524.5 417.6,506.7 413.4,478.6 419.7,510.0 415.0,488.2 415.5,480.0 416.1,480.5 413.6,497.3 409.9,502.3 408.4,505.1 418.0,516.8 409.9,505.4 417.7,497.5 417.2,501.9 416.2,485.2 411.8,517.9 413.9,511.2 418.6,489.1 414.5,502.7 416.2,512.3 419.5,517.5 420.7,489.6 414.4,479.6 413.5,492.7 416.0,501.9 421.5,528.7 412.8,484.6 418.9,503.6 419.6,493.5 408.8,495.1 414.9,527.9 412.1,490.2 415.6,502.9 412.6,525.0 412.6,498.6 413.8,473.6 413.0,505.9 409.6,521.6 415.8,488.0 414.4,517.9 409.3,473.6 411.6,492.6 413.4,512.4 412.5,503.3 418.3,510.7 412.5,520.7 421.1,515.5 410.8,514.6 409.5,487.1 412.2,497.7 419.3,513.4 409.8,501.8 412.3,475.9 415.1,527.0 413.9,512.5 416.9,471.7 412.1,484.1 408.6,496.6 415.5,518.2 417.7,520.1 412.4,486.9 415.9,495.1 415.9,520.3 417.3,528.1 414.8,483.5 414.7,492.5 415.2,490.5 412.4,480.7 419.5,522.5 413.2,487.8 414.7,495.7 412.6,480.5 411.6,471.8 409.8,489.3 414.2,514.3 414.6,515.0 413.8,514.6 416.5,523.4 417.4,498.9 417.8,505.0 413.8,516.5 413.6,476.0 411.3,521.2 414.0,520.9 412.2,517.1 418.7,488.3 420.3,520.0 409.9,489.7 415.4,505.8 417.5,486.4 412.0,504.1 412.3,487.3 417.2,510.0 421.9,529.2 413.8,510.4 418.3,508.8 419.8,515.0 412.9,490.6 420.6,514.9 413.2,523.8 419.5,526.8 415.6,494.2 412.2,518.7 418.1,502.1 412.8,487.2 414.4,514.3 412.3,479.2 419.8,512.8 414.7,487.8 412.6,483.3 411.6,482.0 419.9,494.1 411.5,522.1 409.3,510.8 418.9,502.7 412.6,481.2 412.1,481.3 413.9,476.7 415.0,494.9 412.1,514.3 411.0,506.4 414.6,500.3 415.9,481.3 417.8,513.2 412.1,525.5 411.5,521.4 417.4,486.9 420.1,512.8 412.9,523.7 420.9,521.7 412.5,491.5 419.0,508.1 417.9,484.5 408.0,474.4 413.8,482.0 420.3,507.3 419.1,496.7 408.9,489.7 414.5,492.2 411.9,514.1 414.5,509.7 418.3,505.4 413.0,501.3 412.7,489.1 420.3,479.1 416.1,509.1 414.8,513.2 417.7,497.1 414.5,480.1 420.5,516.5 415.5,517.0 411.9,490.4 410.7,497.3 415.3,481.3 413.0,520.2 414.3,498.0 414.1,497.9 410.2,477.0 411.5,502.3 420.4,526.5 414.4,494.6 410.6,496.6 416.9,496.3 419.5,522.3 415.6,493.0 421.4,508.6 418.9,518.5 415.8,505.8 416.6,512.3 414.5,488.9 412.5,518.4 419.2,499.6 417.3,485.2 415.6,480.2 421.3,509.6 413.8,478.6 414.6,484.2 419.2,525.9 410.4,478.4 411.4,503.6 412.6,514.2 415.4,505.6 416.3,520.1 413.6,499.2 416.2,493.4 415.7,503.8 415.9,498.6 419.3,504.7 410.0,481.6 409.5,480.5 417.0,524.3 413.5,509.3 414.3,506.4 418.3,485.6 408.9,472.4 412.2,473.0 410.8,481.0 415.5,489.7 417.0,514.3 412.5,506.0 414.0,504.0 418.8,498.0 417.3,501.7 413.7,515.3 413.0,492.3 416.7,505.4 413.4,491.0 418.4,487.5 415.4,518.4 410.4,491.2 412.0,501.2 416.3,481.7 413.2,473.7 416.9,490.8 417.1,522.7 410.0,502.4 413.0,487.9 416.2,483.6 413.7,496.1 419.0,504.4 416.1,492.1 415.4,510.1 410.8,506.2 414.1,486.7 412.3,480.0 414.0,485.1 411.6,521.1 410.1,480.8 410.0,484.8 417.8,498.1 412.6,514.6 413.4,514.3 411.0,496.4 413.0,525.8 416.5,499.7 415.6,527.5 414.3,492.9 409.1,503.8 419.1,500.0 412.1,516.1 420.2,493.6 411.5,490.8 414.9,476.7 414.1,509.0 419.9,517.4 417.8,497.4 420.6,519.4 416.5,498.4 411.0,499.8 416.4,491.7 414.6,516.5 419.5,509.9 417.9,494.5 414.5,494.6 413.4,492.5 415.0,479.2 418.1,528.9 412.7,527.4 413.6,525.2 417.0,502.6 413.6,490.1 415.3,521.4 419.2,488.1 413.7,482.6 418.8,485.4 413.8,497.0 414.3,500.5 416.1,479.5 412.2,505.7 414.6,509.1 414.1,488.2 417.6,481.8 415.9,521.9 416.0,490.1 419.8,514.4 418.7,514.7 412.3,522.1 417.9,492.3 416.6,489.4 421.3,490.3 421.4,521.4 413.1,498.4 410.9,475.1 412.2,488.3 415.9,501.5 414.3,495.9 419.3,516.3 415.2,478.7 416.3,499.7 415.1,506.7 409.4,497.4 416.2,506.5 421.0,495.0 413.0,479.3 414.5,517.2 419.3,522.7 417.8,492.9 413.6,497.4 412.9,484.0 414.5,506.4 415.9,492.0 416.3,519.2 408.9,497.0 415.3,523.1 416.5,479.4 416.4,508.8 420.5,491.2 416.2,487.6 420.9,493.4 420.3,518.3 419.2,526.5 420.9,507.1 413.0,514.6 412.3,518.2 418.1,528.4 414.8,484.7 415.2,492.8 420.2,524.6 413.2,480.8 410.9,505.7 417.6,522.9 415.4,521.2 418.6,500.7 418.4,501.4 418.1,523.8 419.8,516.7 410.2,498.9 408.7,508.1 418.0,528.0 413.7,494.9 412.1,486.2 411.0,506.9 418.3,509.9 412.0,525.2 421.6,514.2 410.8,491.6 416.1,509.2 418.7,499.3 411.8,490.1 417.6,526.5 418.8,507.9 418.7,510.0 414.9,499.3 417.5,476.6 418.7,506.4 416.5,515.9 411.0,525.3 416.5,504.4 412.9,515.0 419.8,515.5 416.2,492.3 417.8,491.6 418.6,503.7 403.8,534.0 407.3,544.4 406.1,534.3 405.8,529.8 404.4,534.2 405.5,539.3 408.0,535.7 407.5,538.2 406.8,532.0 404.1,542.9 405.7,533.8 403.5,532.9 406.1,534.2 405.4,538.0 404.0,535.6 409.0,527.9 403.9,536.1 408.0,527.9 404.2,544.0 406.2,533.0 408.8,540.3 407.4,536.5 408.9,536.4 405.7,536.9 405.9,540.7 404.5,537.0 410.2,527.6 406.0,529.6 408.4,530.3 405.7,525.6 409.4,537.1 408.3,529.8 406.6,534.1 406.0,532.4 408.5,530.9 406.3,532.7 403.3,540.4 407.2,532.9 406.1,540.5 404.3,535.1 406.8,539.8 406.9,539.2 407.2,538.6 409.4,532.8 408.3,530.4 430.3,520.2 432.6,526.7 426.5,524.4 439.8,514.1 434.9,510.1 438.1,513.8 441.1,514.5 440.3,517.7 432.9,503.3 427.4,523.7 428.6,505.9 438.3,516.3 423.7,520.3 430.6,514.3 427.2,527.3 430.9,508.7 430.0,525.5 427.3,520.5 423.9,511.5 442.0,514.6 444.5,510.3 422.4,508.5 438.1,513.1 438.3,516.0 426.8,507.4 428.5,520.8 423.0,524.8 435.9,507.1 433.7,509.9 424.0,512.2 427.6,507.2 441.0,514.9 429.3,503.3 439.0,523.3 439.2,503.4 424.2,511.6 433.8,517.7 426.8,507.7 428.4,503.9 431.3,505.9 433.9,517.1 432.8,512.5 423.0,521.8 439.6,516.1 425.9,511.3 430.5,501.9 434.9,520.9 434.1,515.2 424.4,513.2 427.6,522.0 439.0,519.5 439.1,520.0 424.6,510.4 424.0,523.3 436.3,520.8 431.4,513.1 438.7,523.0 427.7,517.2 424.0,508.2 438.0,505.2 430.2,521.7 429.5,520.1 427.2,521.4 438.4,502.1 431.9,508.8 422.4,519.8 437.9,526.6 441.2,515.7 427.3,523.7 425.2,520.0 437.7,505.0 422.9,515.4 424.1,526.4 441.8,506.2 430.1,514.9 431.5,507.6 431.6,520.5 429.5,521.1 438.6,526.4 437.2,526.4 436.8,519.4 442.8,515.2 440.7,526.3 427.8,522.6" fill="none" stroke="none" marker-start="url(#mbB)" marker-mid="url(#mbB)" marker-end="url(#mbB)"/>
<marker id="mbP" viewBox="-3 -3 6 6" markerWidth="6" markerHeight="6" refX="0" refY="0" markerUnits="userSpaceOnUse" overflow="visible"><circle r="2.05" fill="none" stroke="#92208F" stroke-width="0.85"/></marker>
<polyline points="286.1,547.6 318.7,549.7 268.4,552.5 312.1,548.6 282.3,547.3 334.7,548.9 325.8,549.0 313.1,548.7 308.4,548.7 287.4,549.9 354.5,548.0 292.8,548.7 327.5,549.9 268.8,547.4 263.5,546.0 289.2,549.6 323.9,549.0 295.5,549.5 309.6,548.7 294.9,548.1 339.8,546.8 285.0,548.8 287.4,546.3 348.6,549.7 283.0,549.3 311.5,548.6 317.1,548.5 349.5,547.4 325.6,548.7 345.0,549.0 315.5,548.5 329.8,547.2 264.8,548.4 330.1,549.8 351.0,549.9 278.8,547.4 313.0,549.3 284.3,548.8 306.0,549.5 309.1,547.7 276.0,549.6 318.2,548.1 354.2,548.8 308.0,548.8 347.5,551.3 318.2,549.5 343.9,549.5 302.8,547.0 291.5,548.8 305.7,548.1 283.7,549.3 308.9,550.4 297.0,548.4 319.4,547.6 272.4,547.0 330.3,548.1 353.8,547.3 277.1,551.1 271.5,548.3 294.7,550.6 346.9,548.9 305.3,550.2 338.8,548.6 275.4,551.3 280.9,549.2 346.6,550.3 306.5,546.6 334.2,548.6 331.8,549.8 269.7,549.0 293.9,549.2 345.6,548.2 331.9,550.3 308.1,548.6 307.3,548.1 350.5,550.0 271.6,549.6 329.9,548.6 320.1,549.9 275.1,547.0 324.2,551.2 295.4,548.5 293.5,549.3 302.6,547.6 318.2,549.7 277.1,549.1 353.2,550.0 302.8,548.7 317.9,548.8 292.4,548.5 324.9,552.7 281.6,549.5 288.1,550.4 342.8,547.9 316.0,549.0 335.9,549.8 307.8,547.9 329.9,549.8 299.5,548.4 350.9,549.6 281.3,549.2 302.4,551.6 284.6,544.6 301.3,551.7 302.6,550.2 271.8,548.3 314.0,548.3 285.0,549.8 275.9,548.1 276.9,548.0 318.3,547.7 320.6,549.8 279.8,549.9 347.0,550.2 272.1,549.6 344.0,549.3 295.8,547.5 350.1,550.2 326.8,549.4 288.5,548.8 337.6,546.8 333.0,547.9 356.8,550.5 354.0,548.1 347.3,548.7 320.7,548.7 349.9,550.1 270.9,546.5 322.1,548.9 329.2,548.8 299.4,549.2 307.5,548.9 277.1,549.0 323.0,547.6 299.5,549.2 335.7,549.2 335.0,548.2 283.9,550.9 331.8,550.4 336.6,550.1 330.3,550.7 310.7,549.7 277.5,547.0 347.2,549.0 317.4,548.6 319.5,548.1 280.8,548.1 350.8,549.7 270.4,550.0 357.3,547.3 321.2,549.0 325.4,549.0 348.8,548.7 293.3,544.6 284.2,551.4 321.9,547.0 302.5,548.2 320.9,549.4 334.7,550.2 348.6,549.5 354.0,548.7 270.8,547.8 319.3,549.2 347.5,548.8 272.3,550.9 325.7,546.1 369.7,550.3 366.3,549.0 372.3,547.2 375.6,549.6 362.0,547.9 372.7,549.4 375.3,546.8 374.6,550.7 369.4,548.6 369.8,548.2 366.3,547.6 376.6,548.4 372.6,550.7 362.1,548.9 367.6,550.8 370.8,549.2 374.9,550.2 377.7,548.0 372.4,547.8 367.5,549.8 365.7,547.3 375.0,548.6 365.0,549.4 374.5,549.6 368.2,549.3 369.8,548.6 369.5,551.3 365.0,547.7 363.0,551.8 203.7,548.4 217.1,550.3 254.0,551.8 253.7,552.2 212.5,549.4 210.7,548.4 201.8,548.9 261.4,549.4 232.7,548.9 246.6,549.1 222.7,547.3 234.4,547.4 233.1,550.3 206.1,550.8 204.8,548.4 229.7,550.4 221.0,549.5 248.1,550.6 257.4,548.4 251.5,550.4 229.3,550.0 244.2,550.0 247.2,551.6 210.6,548.3 257.8,550.1 221.7,550.9 257.9,550.6 229.0,549.9 242.2,549.9 220.3,550.9 258.7,548.5 258.5,551.7 214.5,549.0 257.2,548.7 244.3,549.7 227.9,551.1 246.8,549.4 227.3,550.8 399.9,428.9 401.1,414.3 402.0,425.6 400.3,420.2 401.3,432.3 401.9,433.3 401.5,431.3 399.4,424.5 399.2,416.2 401.7,484.2 404.7,483.0 400.0,451.3 401.8,474.4 400.1,487.7 399.8,465.6 399.3,442.8 400.2,463.0 403.1,477.4 399.9,455.1 398.4,474.2 401.4,464.2 403.8,461.5 401.4,453.3 399.2,463.8 401.5,442.7 396.8,443.5 397.9,465.9 397.4,467.7 400.9,446.9 402.6,434.8 401.8,482.5 400.1,441.3 397.7,439.8 404.0,445.4 401.5,455.7 398.9,470.9 400.4,474.8 401.9,445.3 399.4,453.1 399.8,455.4 399.4,492.9 399.4,434.4 397.6,443.8 398.7,459.5 401.3,473.9 400.3,465.9 403.0,465.5 401.6,461.2 398.7,472.4 402.6,492.4 396.9,444.3 398.5,443.0 399.4,460.7 399.8,442.8 399.5,471.1 399.3,433.6 400.4,470.8 401.4,436.8 399.7,478.8 401.0,434.2 400.4,476.5 401.2,451.5 402.6,433.6 397.8,490.3 401.6,480.1 401.9,482.3 402.0,447.0 398.1,467.4 401.2,447.2 400.6,430.9 402.1,464.2 401.4,445.6 403.3,483.8 399.3,433.1 400.4,455.0 398.8,472.5 402.4,440.4 397.8,447.4 401.4,460.3 402.9,473.7 403.6,434.7 398.2,481.9 401.3,464.0 399.5,480.8 401.6,478.9 400.6,484.0 398.7,459.3 403.5,460.7 401.4,483.1 396.4,434.7 399.7,452.4 403.3,435.1 399.0,487.1 402.1,471.6 399.2,439.1 403.4,479.8 403.7,460.5 398.0,431.6 398.5,442.5 402.7,488.5 398.3,490.3 404.2,483.7 399.5,485.1 399.7,431.3 401.0,479.3 403.5,435.5 402.6,483.6 399.3,474.2 403.5,471.7 399.7,469.5 397.5,464.0 402.1,462.5 398.9,450.9 399.4,446.7 397.8,474.2 396.6,489.7 401.9,472.8 399.9,460.6 401.6,485.7 398.3,447.6 398.8,471.4 401.2,476.7 403.5,449.8 397.9,437.8 404.5,435.6 398.9,463.5 397.8,476.5 403.2,477.3 399.0,481.0 399.9,473.1 401.5,436.7 400.3,453.3 398.1,436.6 400.2,454.1 399.6,475.4 402.7,455.4 403.4,470.5 401.1,479.6 397.9,436.2 399.9,458.7 399.8,438.6 402.4,466.9 400.8,485.6 400.8,481.9 402.4,472.5 399.3,480.4 400.7,462.0 400.7,462.1 402.1,493.4 402.6,469.6 397.2,470.2 398.8,492.8 400.4,456.9 402.8,489.5 401.5,460.0 404.2,455.9 397.9,483.5 399.1,450.4 401.0,470.9 404.0,446.3 403.4,453.7 401.2,451.9 402.2,439.9 398.5,490.6 402.3,490.3 399.1,480.6 402.1,465.0 400.7,452.6 401.3,458.8 399.7,474.2 401.0,448.8 398.7,435.7 394.9,439.9 401.4,447.6 403.8,472.1 401.2,464.2 401.5,441.5 397.9,469.0 400.6,455.6 399.3,469.4 398.5,451.8 402.9,445.8 400.7,488.8 398.7,477.8 400.5,466.5 399.7,474.1 398.1,451.8 399.0,443.3 401.4,491.4 401.9,460.1 402.7,478.8 398.9,443.8 400.5,445.7 405.7,482.4 399.3,488.4 401.7,433.3 400.7,486.9 403.4,469.5 399.8,474.2 404.2,486.3 400.9,437.4 399.6,464.9 398.4,491.2 400.4,454.7 400.3,460.4 402.1,465.2 399.0,465.4 400.7,444.0 401.3,455.0 402.9,438.4 402.2,434.5 403.4,470.0 399.1,438.2 402.6,464.6 404.2,470.6 398.7,475.4 400.8,441.4 398.0,455.5 404.9,471.0 398.8,448.0 398.9,479.0 400.1,448.8 401.5,471.4 397.4,476.9 399.0,431.7 399.8,492.3 402.8,451.2 399.3,469.1 397.2,456.3 398.1,472.7 398.6,443.3 402.9,471.4 405.1,479.9 401.1,491.2 403.4,493.1 400.5,452.2 403.2,485.3 402.7,474.4 403.0,467.1 404.0,453.2 402.3,435.1 404.6,489.3 403.7,474.4 404.7,483.3 397.9,433.6 404.5,472.3 403.9,465.6 398.1,442.9 398.5,462.5 401.7,494.3 402.8,441.6 403.1,436.1 399.6,474.4 397.4,480.3 400.3,450.5 401.4,436.1 402.1,490.5 398.4,451.9 398.9,481.5 401.7,445.1 398.1,458.6 402.3,450.2 402.7,484.1 402.9,481.6 402.4,484.3 405.6,491.1 401.0,485.8 402.6,490.2 401.9,447.8 399.4,502.0 403.8,501.1 400.8,503.4 400.4,504.1 402.9,505.3 401.6,493.8 400.4,503.6 400.7,498.9 416.5,353.0 416.5,356.5 416.0,360.0 417.0,363.5 400.5,409.0 400.5,412.0 401.0,415.5 400.0,419.0 401.0,423.0 400.5,427.0 416.7,380.2 415.2,368.5 415.3,377.4 413.9,379.5 412.7,396.8 416.4,404.6 414.2,404.6 418.9,390.1 417.3,392.5 415.4,399.3 418.3,386.5 414.0,400.6 415.3,400.4 414.1,377.7 413.3,383.0 414.5,374.8 417.5,367.1 418.0,395.3 416.1,379.5 413.5,396.7 418.0,400.1 415.9,402.3 416.9,399.5 415.5,397.7 416.5,388.8 416.8,389.4 415.6,407.9 417.3,366.0 414.5,390.0 415.3,397.6 418.7,388.5 416.7,375.1 417.0,386.0 414.3,396.1 415.7,407.8 418.0,377.0 416.0,403.3 412.9,405.6 414.4,380.5 414.5,387.6 416.5,408.6 417.8,392.7 417.7,399.6 414.6,383.3 418.2,370.1 415.8,372.5 417.6,390.1 415.8,405.1 416.2,378.3 417.6,389.0 418.0,387.7 420.0,376.2 416.0,401.2 416.5,391.0 417.9,387.7 414.8,409.4 415.4,406.3 415.2,381.2 415.9,402.3 415.5,405.7 416.7,368.9 416.1,381.5 416.8,388.7 414.0,379.9 415.6,397.3 417.8,376.9 417.8,369.7 416.0,401.5 413.4,373.2 418.2,408.5 418.1,404.0 416.8,396.5 418.0,373.2 417.3,369.5 415.4,396.8 413.8,370.2 413.2,389.8 415.0,396.2 415.9,405.9 415.6,420.0 416.5,422.6 415.1,423.2 416.1,426.5 416.1,428.8 417.3,429.1 416.3,432.3 417.0,432.2 417.0,436.3 416.5,437.7 418.8,439.9 418.4,440.3 419.2,442.9 418.5,444.1 417.8,447.6 418.3,450.1 419.4,449.1 419.7,453.4 419.7,455.5 421.1,458.4 421.2,457.4 420.9,460.9 421.2,462.1 421.2,462.0 421.5,466.6 422.4,469.7 423.1,471.3 422.7,471.2 422.8,472.3 422.9,474.6 422.9,476.6 423.5,477.4 424.6,481.5 424.5,482.4 424.6,485.9 424.7,484.6 425.5,487.9 426.1,490.5 425.9,492.9 425.4,495.2" fill="none" stroke="none" marker-start="url(#mbP)" marker-mid="url(#mbP)" marker-end="url(#mbP)"/>
<marker id="mbO" viewBox="-3 -3 6 6" markerWidth="6" markerHeight="6" refX="0" refY="0" markerUnits="userSpaceOnUse" overflow="visible"><circle r="2.05" fill="none" stroke="#FF7700" stroke-width="0.85"/></marker>
<polyline points="144.6,549.4 173.6,548.7 124.5,547.7 173.7,549.9 160.0,547.0 186.1,547.4 183.6,546.9 123.9,546.9 147.9,545.2 161.0,546.8 183.9,550.4 137.6,549.1 179.1,551.3 124.9,550.6 175.6,547.3 156.2,548.1 156.4,546.2 173.7,550.1 172.5,549.9 173.3,545.4 153.9,545.1 127.8,550.8 183.3,549.2 130.4,549.2 128.9,546.7 131.2,549.1 131.7,547.6 187.1,547.8 144.9,546.7 179.3,546.5 156.1,546.0 185.2,548.4 132.9,550.9 152.9,550.3 167.6,548.1 168.0,547.9 155.0,550.3 170.1,547.8 159.3,545.9 176.8,550.3 186.6,551.4 131.8,548.9 152.4,549.2 154.2,547.0 154.3,547.3 148.6,548.8 160.1,547.8 137.1,547.7 158.8,547.1 166.0,549.8 132.2,547.0 146.2,550.9 142.8,549.2 181.6,549.5 139.8,548.1 176.8,547.6 163.9,544.9 144.1,549.0 183.4,550.7 170.6,548.0 173.9,549.8 143.2,550.5 164.5,551.5 167.0,547.2 152.1,547.7 168.2,547.9 159.3,547.0 158.5,547.7 154.1,548.6 168.1,548.6 161.1,548.6 177.0,550.7 172.6,546.4 130.2,549.1 155.2,548.7 162.6,546.1 148.2,548.9 163.2,551.4 127.8,546.1 138.2,550.8 143.0,547.3 151.6,548.3 162.0,545.5 173.4,548.9 133.0,548.0 136.6,549.9 160.1,545.6 184.6,546.7 139.2,546.7 177.3,547.0 137.3,548.5 174.7,550.7 159.9,547.7 138.4,548.7 126.9,548.1 181.7,550.4 133.2,549.2 150.1,546.9 151.4,547.9 146.2,546.1 140.4,544.6 170.8,547.9 146.6,547.7 165.5,549.9 152.9,546.2 172.0,547.1 174.3,547.6 148.4,548.2 181.3,547.9 139.6,548.3 174.9,549.1 158.3,548.0 138.8,546.3 165.7,547.0 141.4,548.5 126.0,547.5 174.5,547.4 185.0,547.7 132.4,547.7 149.6,550.7 174.1,548.2 161.2,548.0 178.7,549.0 150.2,548.5 135.9,547.3 141.1,547.9 159.3,548.9 167.3,548.3 164.1,550.3 128.9,547.1 156.3,547.9 162.0,549.0 161.6,549.6 142.2,550.2 181.5,548.6 170.6,550.0 176.4,548.2 137.1,548.8 164.7,545.2 164.9,547.8 172.3,547.9 139.0,549.9 153.7,549.9 186.9,549.9 167.1,544.4 134.1,547.1 148.3,547.9 175.2,547.2 185.6,547.9 219.9,545.6 225.7,547.7 239.8,549.0 207.9,544.3 203.7,548.0 257.3,547.4 239.7,546.2 251.3,546.8 198.9,546.0 224.0,546.8 248.9,547.9 215.9,545.5 247.2,549.0 214.0,544.0 246.5,543.9 194.1,544.9 247.4,547.4 209.4,545.6 222.4,546.5 195.7,543.6 196.5,545.7 253.6,545.4 191.3,549.8 221.1,546.8 191.4,549.8 238.7,544.5 248.5,544.8 223.9,546.2 255.2,547.8 234.2,545.2 229.5,545.4 250.9,544.7 255.4,545.4 214.8,542.0 227.7,541.5 259.0,549.4 221.6,550.9 197.5,545.4 256.2,548.7 244.3,550.2 233.5,550.6 236.6,546.9 260.1,540.1 240.5,542.5 228.0,547.3 197.8,549.5 236.2,543.9 260.9,545.6 249.9,548.4 215.0,547.6 200.8,547.2 199.6,546.6 244.4,545.0 193.9,546.5 238.4,541.5 243.3,545.2 201.7,548.1 191.7,547.2 232.7,546.3 199.5,545.4 198.7,543.6 261.7,544.3 203.2,548.1 191.7,546.3 247.8,547.4 208.4,549.2 259.9,543.6 253.6,546.8 228.9,543.5 246.0,543.0 186.5,543.5 231.5,548.0 195.5,545.4 194.0,545.9 195.5,548.9 218.4,548.2 249.5,543.2 237.1,545.6 244.0,545.6 207.6,541.7 198.7,547.9 235.5,542.8 264.0,547.0 243.9,550.0 240.0,543.6 212.8,548.6 222.6,548.2 233.6,548.6 254.0,545.1 260.8,547.3 264.0,542.9 230.8,548.7 217.1,547.4 237.0,543.8 252.7,547.7 220.2,544.0 232.7,548.1 199.0,548.4 242.7,543.9 196.6,549.8 220.3,545.0 209.2,544.5 234.2,547.6 190.7,543.4 191.6,548.6 248.8,543.2 219.7,542.3 257.2,548.7 257.7,544.7 193.6,546.6 245.8,549.3 204.5,548.0 241.3,545.3 251.3,544.8 235.6,545.2 241.6,547.2 241.0,543.4 235.0,547.7 187.7,547.8 241.1,546.9 242.2,543.9 230.3,544.0 210.3,543.5 187.3,547.9 212.6,549.4 237.9,544.7 250.2,543.6 190.8,548.2 190.5,547.5 223.3,546.8 250.0,544.9 253.1,547.2 237.8,544.6 259.7,545.9 215.3,544.8 194.7,545.2 256.6,545.4 207.2,543.0 215.4,550.3 238.4,544.0 201.2,542.9 230.1,547.4 233.5,544.2 188.5,545.4 209.4,547.3 200.7,545.1 224.9,544.7 197.6,548.1 240.8,550.0 198.5,546.2 201.8,549.9 237.4,549.4 186.4,547.9 222.0,546.4 256.0,542.2 199.4,549.6 197.5,547.2 247.8,548.4 254.7,545.6 240.5,544.1 199.1,544.2 238.9,548.3 213.6,542.9 253.7,544.3 203.9,548.2 228.9,546.5 248.1,548.8 193.5,546.9 251.8,547.0 240.7,548.5 220.4,547.0 203.3,543.1 247.4,548.4 211.3,550.5 210.5,544.3 204.1,547.0 254.1,544.4 194.5,550.7 200.8,545.7 208.1,545.1 246.1,542.3 217.1,547.6 192.3,546.0 234.9,547.6 245.4,545.1 239.5,546.5 248.2,545.3 253.4,547.3 221.9,545.6 221.6,545.7 262.5,548.3 219.1,543.3 260.9,546.2 238.5,548.4 259.7,544.2 204.0,544.9 226.3,548.3 252.7,549.2 198.2,545.7 193.7,544.5 225.4,549.4 207.7,551.4 236.8,546.6 251.3,545.8 207.9,547.3 205.1,549.1 204.6,544.5 190.6,546.7 252.5,545.7 213.5,546.2 245.0,546.0 255.5,545.4 208.5,545.6 233.5,544.8 254.9,541.9 248.7,544.5 234.2,543.6 187.3,546.0 217.3,549.1 221.9,543.2 248.5,544.7 218.8,541.9 233.3,547.3 200.1,543.3 222.4,547.8 245.0,547.7 215.2,541.7 265.6,547.8 226.5,546.2 191.6,547.2 257.6,544.0 213.6,547.6 202.6,541.4 209.5,547.9 204.7,545.5 243.5,543.4 236.2,548.6 250.1,549.2 190.2,549.8 244.2,545.3 228.4,542.6 263.4,545.1 201.0,542.5 229.2,544.9 188.1,546.9 186.0,547.1 236.9,546.7 207.1,546.6 208.1,547.6 240.8,546.4 246.1,549.3 260.9,549.6 248.9,549.9 237.1,548.3 234.7,544.3 216.0,548.7 236.9,543.1 213.6,545.2 210.9,547.3 257.6,549.4 208.3,548.0 241.9,546.7 197.6,545.4 238.4,542.4 218.4,548.0 197.2,545.6 256.1,547.2 237.7,544.5 195.6,544.1 235.8,545.5 235.2,546.8 246.4,543.4 220.8,547.2 223.3,544.9 254.4,549.4 251.0,546.4 260.4,549.5 256.5,545.0 210.6,547.7 252.5,550.2 200.5,544.7 206.1,543.0 189.7,548.1 255.3,543.6 206.5,544.4 244.7,546.9 220.3,546.0 220.2,547.5 194.4,548.2 203.3,550.9 223.1,543.5 234.3,545.6 240.9,544.0 214.4,549.3 191.3,549.2 203.0,548.6 199.6,544.6 240.6,543.2 202.6,547.9 238.5,544.9 203.3,548.3 226.4,543.6 207.7,546.4 200.3,544.1 195.7,548.1 207.0,544.1 256.2,549.5 227.5,545.4 209.2,543.8 214.8,547.4 256.7,545.5 209.9,544.9 261.8,545.5 230.0,547.5 236.0,547.7 203.1,546.8 221.8,547.7 218.9,544.9 202.8,545.4 242.9,542.4 258.5,549.3 200.3,545.9 199.7,545.5 219.1,546.8 253.9,542.5 222.6,546.9 205.6,546.8 242.0,541.7 214.6,548.2 196.9,546.5 200.7,547.7 256.1,544.2 242.0,547.7 215.1,550.7 206.2,548.5 213.4,543.1 216.1,544.5 237.5,545.2 259.6,550.5 188.7,544.8 194.6,542.5 185.5,543.5 265.7,551.8 194.2,544.9 231.7,546.7 251.9,543.8 233.0,544.2 236.9,542.8 210.9,548.3 234.7,543.7 203.6,544.1 254.4,543.0 185.6,547.4 235.2,545.9 232.1,545.7 271.7,546.1 275.3,542.7 276.3,543.5 276.9,546.6 270.9,546.8 271.7,542.6 284.9,543.0 271.4,543.3 282.4,544.6 276.7,541.2 285.0,545.6 277.7,546.9 281.1,544.7 272.0,544.8 283.5,546.2 280.7,545.2 281.0,543.6 274.2,544.1 270.8,545.9 282.6,547.0 278.4,543.2 272.5,544.7 269.0,541.3 287.5,541.9 282.5,542.8 271.3,547.6 277.4,542.6 285.5,543.3 289.2,547.6 282.3,546.9 273.6,547.5 273.6,546.0 271.0,544.3 272.2,546.7 280.9,542.8 272.3,547.7 269.1,543.7 274.9,543.2 287.3,542.4 270.5,542.9 278.3,547.4 285.4,544.0 280.5,545.3 274.9,544.1 274.2,546.7 282.1,546.6 274.3,542.3 269.3,545.5 275.2,544.1 275.7,544.1 283.9,545.5 278.4,545.1 281.8,541.9 283.4,547.0 274.0,544.2 279.3,544.8 279.6,546.2 283.9,548.5 282.7,542.2 277.9,542.2 287.0,531.0 285.2,533.0 288.3,538.2 289.7,538.6 282.5,535.3 292.6,540.8 291.2,544.0 287.2,526.4 283.6,518.1 286.8,531.4 287.4,515.6 282.7,516.7 282.7,525.5 293.8,534.0 292.6,518.6 285.8,537.3 292.6,533.5 287.0,536.7 284.6,535.4 303.2,455.6 298.7,456.5 302.8,451.3 303.7,454.1 303.9,463.9 300.9,464.3 296.6,448.3 301.6,455.8 302.9,454.2 297.3,466.9 300.2,460.4 303.2,457.9 298.5,452.1 296.2,455.2 298.1,449.7 300.4,467.7 299.2,457.1 304.9,443.8 298.7,450.5 295.3,460.0 296.3,451.9 298.1,461.0 299.9,466.3 298.7,447.0 298.2,467.2 300.8,452.9 303.0,455.1 299.5,466.4 302.5,460.7 296.9,464.1 300.2,461.7 303.5,450.4 299.1,461.8 299.1,453.7 301.7,467.3 303.8,459.2 302.7,457.2 303.2,447.1 295.9,466.9 302.4,443.9 300.2,459.6 302.8,450.0 303.3,446.0 301.8,453.7 305.7,452.6 300.6,463.8 302.2,461.9 303.7,467.3 298.6,453.2 300.5,455.9 298.5,458.3 295.7,462.0 305.0,457.3 302.4,458.6 297.5,466.5 298.2,460.1 299.0,454.4 298.6,469.8 303.2,456.5 302.2,531.8 291.0,496.3 300.2,534.7 300.8,500.8 299.9,526.9 300.9,495.7 292.8,478.5 301.8,535.6 298.6,487.3 303.1,510.5 304.5,516.7 297.3,532.0 301.3,527.2 300.0,474.4 304.0,527.5 304.8,507.5 305.4,504.3 298.2,531.5 297.5,482.8 295.8,493.3 295.0,498.3 306.5,525.6 294.2,520.7 302.1,479.0 295.5,539.0 301.4,471.8 294.1,504.6 304.7,478.7 302.0,530.1 303.9,503.3 301.8,527.4 303.8,537.5 298.9,487.5 302.5,534.1 306.5,520.0 295.7,493.1 303.1,523.8 303.0,507.1 297.7,493.4 299.1,469.4 295.2,527.3 299.3,533.6 300.4,489.9 303.8,498.9 302.9,483.9 295.4,495.9 303.3,469.0 299.6,500.3 297.0,476.5 300.2,513.9 297.9,518.0 302.7,512.7 298.4,522.0 300.2,478.1 299.6,527.3 297.9,494.7 297.5,502.8 300.5,530.8 301.6,490.2 299.9,535.3 296.5,521.4 295.1,469.9 292.9,483.0 298.2,483.2 301.3,490.8 303.8,480.3 305.4,528.4 306.2,534.6 294.3,492.1 301.3,499.1 304.3,470.7 303.0,486.4 302.8,500.1 301.2,478.8 296.1,509.7 306.0,486.5 302.8,476.4 303.2,500.9 296.4,479.4 300.4,473.4 304.6,486.8 295.1,493.0 299.1,528.4 294.2,476.9 295.7,498.4 306.8,528.1 299.5,518.6 299.1,479.5 304.1,509.7 296.6,478.8 298.9,497.8 298.4,487.8 297.0,533.8 302.8,521.7 298.0,511.2 304.4,485.7 296.0,503.8 304.1,501.6 301.9,509.9 299.1,513.8 300.9,469.7 304.2,504.9 294.1,474.2 295.0,493.5 296.2,483.4 298.3,531.7 299.5,520.7 296.5,480.1 298.6,473.8 299.7,476.4 298.5,492.9 301.8,504.6 296.3,534.1 296.0,489.9 295.0,498.8 295.2,499.9 302.5,494.3 298.5,476.2 305.3,519.0 300.4,520.7 300.1,528.0 298.1,482.4 299.4,524.6 295.9,505.6 297.5,505.7 303.5,531.4 295.3,475.2 303.0,521.0 295.8,495.0 306.7,524.2 298.2,537.2 299.8,479.8 298.1,529.1 302.9,512.5 301.4,506.3 294.9,500.0 297.4,535.7 304.8,506.7 294.6,492.4 301.0,495.3 303.2,537.8 303.3,506.5 298.8,536.6 300.8,493.4 296.6,520.8 300.0,481.7 296.4,506.8 299.8,490.5 301.0,481.6 296.3,487.5 306.2,503.0 298.4,503.9 299.7,494.7 296.3,527.8 303.0,515.1 303.6,508.8 297.5,494.9 295.1,514.5 301.0,510.3 300.2,478.6 292.7,488.6 294.8,490.7 299.0,473.3 299.8,529.5 303.6,525.9 305.1,484.8 304.5,536.8 302.7,480.9 294.1,527.1 300.6,515.9 298.8,476.0 304.5,476.3 295.9,505.2 299.2,534.4 302.6,530.9 295.4,500.4 301.6,498.7 297.1,473.0 298.5,529.5 301.9,494.8 301.1,475.4 302.2,508.5 296.9,489.0 297.2,532.4 305.9,532.0 302.0,507.3 298.0,536.6 307.8,513.8 301.3,513.3 294.4,484.1 301.3,471.7 297.4,537.6 295.5,496.0 301.0,483.2 294.4,489.4 298.6,517.7 298.0,522.6 294.7,528.3 298.5,489.8 302.1,511.4 294.9,499.2 296.4,493.2 300.1,529.9 298.4,529.3 293.1,497.4 295.3,483.1 293.2,478.9 298.0,518.0 297.1,535.0 298.6,477.6 305.7,528.5 298.6,506.8 302.1,480.3 299.8,532.5 296.1,477.8 303.0,502.3 299.9,531.1 300.9,506.2 296.5,483.8 304.1,476.6 296.6,471.8 301.8,504.8 300.4,496.7 295.3,530.7 304.3,475.6 293.5,512.0 293.0,509.5 294.5,512.0 297.3,477.2 307.3,500.4 303.1,539.4 306.0,528.7 304.4,489.0 297.4,484.6 298.2,526.2 303.9,514.5 299.2,475.0 296.5,488.9 303.4,493.7 306.6,514.2 295.3,487.4 299.9,484.4 300.3,493.5 305.8,469.4 299.4,469.5 296.6,538.4 304.1,524.3 300.8,535.7 299.6,513.6 296.5,508.7 296.7,538.3 304.7,530.9 299.7,490.4 298.5,518.8 302.4,510.1 293.5,503.4 299.5,514.4 304.5,502.5 297.5,469.8 297.2,519.5 302.7,497.0 298.3,524.7 296.0,512.3 305.3,538.3 293.4,526.7 299.3,489.8 299.6,528.8 297.3,480.4 301.6,529.8 304.9,477.3 305.2,474.8 297.7,480.4 297.5,524.6 297.0,523.5 301.2,480.5 294.5,509.5 299.8,494.1 298.2,475.9 302.2,506.2 302.3,525.7 305.6,475.9 302.2,476.2 297.3,530.6 303.7,487.8 300.2,473.5 297.2,526.8 293.6,533.1 293.8,494.3 296.4,472.3 295.9,500.8 303.2,485.8 298.8,505.4 305.9,512.9 295.3,477.7 294.8,509.7 293.8,519.9 298.2,517.6 295.9,473.3 295.5,512.1 295.5,535.5 302.9,485.2 298.3,492.6 304.0,488.5 298.9,520.1 302.0,519.4 297.3,504.1 298.6,511.0 297.6,492.8 299.6,490.7 301.2,500.8 295.3,499.2 298.3,529.9 296.1,514.5 301.1,529.1 293.7,533.8 304.7,469.7 304.2,493.6 297.8,530.2 302.2,492.2 295.4,513.9 302.5,522.6 304.3,483.5 300.1,472.0 296.1,516.3 305.9,500.5 302.3,510.1 298.2,527.3 299.3,483.7 293.5,500.9 304.7,505.0 298.6,491.8 306.6,507.4 297.1,504.8 297.9,533.7 293.6,498.2 301.9,474.1 302.3,485.8 299.0,496.6 305.8,476.4 298.6,538.0 306.2,519.2 298.2,486.5 297.4,490.9 298.4,510.2 297.9,501.9 305.5,478.8 298.9,471.2 298.2,512.3 301.0,477.5 298.2,531.9 301.5,495.6 301.5,475.1 302.4,508.0 310.1,504.8 310.7,540.2 315.3,503.0 313.0,512.2 315.9,528.4 307.6,516.7 314.2,518.3 315.3,536.6 307.5,526.0 309.2,506.9 316.5,507.4 312.4,536.2 314.1,516.9 308.5,506.2 314.6,507.8 311.3,535.4 310.1,503.8 310.2,524.6 309.5,518.8 313.0,492.7 304.2,526.0 310.6,534.5 313.6,516.1 306.0,536.7 314.0,527.1 312.0,537.0 308.4,534.9 307.0,495.4 309.7,522.5 308.3,520.1 312.5,536.0 311.3,515.0 311.7,496.6 304.6,527.6 310.1,533.7 316.0,510.2 314.7,495.0 309.6,519.4 312.5,499.5 307.6,514.0 311.9,501.7 315.0,529.9 310.3,506.1 309.8,503.6 304.8,514.1 304.1,511.3 310.1,529.0 308.1,514.3 309.8,509.0 309.2,489.0 308.0,508.1 307.6,536.5 308.8,531.4 305.3,537.3 310.4,527.4 311.8,490.0 311.3,495.1 311.9,489.5 307.6,502.7 312.2,513.2 312.4,534.7 307.8,504.4 307.8,501.5 316.0,509.5 311.1,534.1 305.4,537.8 307.1,519.6 304.7,496.1 309.7,538.2 306.1,522.8 314.5,498.8 307.1,531.7 316.2,539.8 312.0,506.7 313.1,537.0 311.1,529.9 307.0,514.7 308.8,503.4 306.9,520.4 305.8,506.2 306.3,530.2 308.4,510.2 311.7,497.3 307.9,500.8 310.2,518.3 311.1,531.7 306.3,506.6 315.3,513.2 313.0,518.5 313.2,507.3 310.8,517.2 315.6,500.9 313.5,514.1 312.7,491.2 306.5,510.5 312.2,505.0 313.0,539.6 304.3,469.3 311.5,486.0 309.1,485.2 311.2,484.2 312.9,473.1 313.3,484.7 313.9,468.8 314.0,460.7 310.7,458.5 310.3,481.8 310.5,485.6 312.3,465.2 309.1,481.9 309.5,462.6 306.0,465.3 315.4,481.4 316.0,469.8 316.6,484.0 315.7,460.2 307.7,488.7 310.1,459.4 318.1,472.0 309.9,459.1 315.0,488.0 310.4,471.7 312.4,477.0 309.1,488.3 312.1,466.3 317.3,469.3 309.6,481.6 305.4,470.4 315.7,470.6 311.4,465.3 310.4,458.2 310.9,480.9 305.6,474.2 315.5,467.5 316.2,464.4 315.0,469.4 310.5,468.2 314.7,467.0 304.9,484.1 309.6,478.2 307.9,464.1 313.3,481.0 309.4,477.9 297.4,547.1 297.4,549.8 304.7,550.9 302.4,550.5 302.6,548.5 295.5,548.5 301.0,551.2 298.6,550.0 301.6,547.7 295.8,552.2 298.6,546.6 296.3,548.8 300.6,552.6 300.2,548.5 295.7,550.1 301.6,548.4 303.2,548.6 299.2,552.2 332.7,445.9 326.9,440.0 332.1,439.8 327.2,434.2 326.9,427.8 329.3,419.9 328.2,448.1 328.0,415.6 328.8,456.2 328.4,460.6 329.1,445.4 326.1,441.8 328.9,443.6 328.9,434.6 331.9,439.3 326.4,417.8 325.7,454.0 326.7,431.6 331.5,455.0 330.1,440.0 330.2,424.4 329.0,434.1 327.7,461.5 329.1,455.7 326.7,428.4 330.4,440.3 327.3,418.8 325.4,430.5 330.8,456.9 330.6,436.1 330.1,436.2 328.1,433.0 326.7,454.6 331.6,437.6 332.0,435.8 329.2,417.1 327.7,441.4 330.8,431.1 327.8,448.9 326.2,458.2 325.0,441.3 331.7,457.5 329.0,442.4 330.8,437.4 326.1,454.6 330.5,432.2 327.6,439.8 330.0,421.7 326.6,460.2 330.4,458.1 330.0,428.3 326.3,423.4 326.4,453.8 325.2,424.3 325.8,447.3 327.8,423.4 331.2,447.3 330.7,454.6 329.6,421.6 327.6,432.4 330.6,443.2 324.9,426.2 329.9,434.8 330.8,457.9 330.8,439.6 330.5,448.7 327.8,442.2 328.3,429.1 329.4,459.9 331.9,427.4 329.9,427.9 327.2,431.3 329.5,432.6 326.9,448.6 328.6,457.6 330.6,440.0 326.9,428.7 327.9,428.3 331.2,431.7 327.3,443.7 329.4,434.7 329.3,443.8 329.7,438.4 329.8,430.2 330.4,419.4 333.0,456.3 330.2,424.1 325.8,445.1 328.1,448.9 328.0,460.6 327.0,434.5 332.2,425.1 331.3,425.6 329.6,449.2 326.4,461.4 333.2,441.6 331.5,429.4 329.1,450.6 330.3,426.5 329.5,451.0 327.7,434.1 331.4,449.5 330.3,434.9 331.2,453.6 327.0,437.7 326.8,455.0 331.4,419.2 329.5,443.5 330.3,434.8 328.9,430.1 328.9,420.8 329.5,436.4 331.0,438.4 331.7,434.3 331.3,459.0 329.1,456.8 330.1,417.9 326.4,436.2 328.5,446.3 327.1,429.7 327.8,452.9 328.1,457.6 327.6,425.1 329.9,419.5 331.3,426.6 330.6,454.8 329.6,428.2 327.5,431.8 330.9,461.5 329.4,427.9 331.7,445.5 329.1,436.2 329.4,451.8 325.0,454.7 325.8,485.2 327.3,494.5 324.7,497.1 329.9,477.1 329.3,497.7 329.1,463.7 324.9,479.1 323.8,469.2 325.6,491.4 326.3,470.2 330.3,468.6 323.4,475.2 325.6,488.6 325.4,466.2 323.6,464.8 322.1,481.8 327.2,460.9 325.2,476.0 327.4,476.6 325.0,471.9 329.2,499.2 324.9,467.9 325.9,488.1 329.0,478.5 325.8,475.8 323.2,489.8 328.6,464.4 325.3,493.7 330.8,472.7 328.1,479.3 324.0,483.6 326.6,483.8 326.5,480.7 328.5,470.3 327.7,464.6 326.8,472.6 328.3,471.5 330.2,492.5 329.8,475.0 327.4,486.9 330.2,489.7 325.4,482.6 327.6,494.4 326.8,479.3 325.9,480.2 326.7,482.7 325.7,499.5 324.5,476.8 328.6,491.0 329.2,486.0 337.6,473.2 339.2,508.9 334.7,468.1 337.5,464.2 335.0,467.0 338.4,482.0 337.2,487.0 340.4,471.1 332.0,505.0 340.6,485.9 337.0,483.2 331.7,482.4 333.4,482.9 331.4,505.6 340.1,502.0 336.9,496.7 337.4,459.5 339.2,477.4 334.6,477.9 338.5,485.9 335.9,463.0 335.1,513.6 336.2,478.0 334.8,501.8 331.9,462.1 337.9,464.0 335.5,496.3 332.8,477.6 338.0,463.7 332.1,492.1 334.0,460.6 336.4,458.0 340.5,504.2 339.7,460.0 338.9,464.0 334.1,504.3 337.2,479.2 338.3,509.7 338.4,468.5 333.3,516.1 332.1,475.7 333.5,486.5 336.2,475.8 331.8,481.5 331.5,515.4 333.9,498.1 334.4,456.4 333.6,502.3 338.9,476.6 336.1,488.0 335.2,503.6 338.5,494.4 337.7,466.3 340.6,493.4 340.1,491.1 330.9,491.0 334.9,463.1 337.7,509.7 335.9,493.8 336.4,498.1 334.6,518.8 334.8,481.8 334.3,514.7 338.7,498.2 337.5,507.2 336.1,515.9 335.1,477.8 337.0,459.6 338.5,467.6 338.8,463.7 335.4,491.9 332.4,516.4 331.5,478.2 336.9,477.9 335.3,504.9 335.4,513.5 335.7,469.2 337.0,515.7 340.8,457.1 340.9,468.6 335.7,468.7 333.5,503.0 332.2,498.5 336.9,495.8 333.3,501.8 335.1,495.2 331.8,456.8 340.0,515.8 339.6,476.1 340.9,467.5 331.3,480.3 340.9,460.8 338.7,483.7 329.7,471.2 335.9,458.1 336.6,468.3 330.8,508.0 336.2,511.3 333.2,458.2 331.5,517.3 339.4,485.3 337.2,485.5 337.3,503.5 334.7,479.3 338.2,464.5 332.4,462.1 333.0,514.4 332.6,455.3 331.1,503.2 331.6,511.8 336.7,466.2 333.7,516.9 337.3,518.1 331.7,499.9 338.9,466.3 337.5,465.9 337.1,495.6 338.6,464.9 337.0,458.8 332.5,492.9 338.1,457.2 332.9,504.8 336.9,512.6 341.4,487.3 333.7,513.7 336.1,457.9 333.9,475.1 340.9,476.9 335.2,512.1 333.9,507.2 335.6,473.2 337.3,518.0 339.1,489.7 335.9,469.5 339.6,487.5 337.2,506.3 332.5,474.7 335.7,491.0 337.0,517.2 334.2,480.1 338.1,465.3 333.7,492.4 332.7,471.8 336.3,503.0 350.6,489.4 352.5,506.9 343.7,481.4 349.6,475.1 339.3,472.2 347.3,514.5 342.6,514.0 351.9,495.0 345.3,482.0 345.2,463.8 344.3,512.5 344.0,513.3 339.6,479.7 351.3,463.6 351.5,516.6 339.6,529.4 350.3,453.3 344.9,480.1 339.8,495.0 342.3,448.4 346.9,503.0 341.0,525.9 344.2,528.0 343.8,516.2 350.6,449.3 350.2,498.2 343.1,473.2 352.8,465.7 341.9,484.5 346.6,509.0 347.0,527.5 339.7,468.1 344.7,502.3 351.4,447.8 351.1,485.6 348.3,475.9 339.6,531.1 342.7,480.7 343.6,494.0 346.3,453.8 343.1,473.2 344.4,523.1 349.1,473.4 346.7,512.0 342.5,499.9 339.4,522.1 346.1,469.2 350.1,519.0 344.8,490.5 343.6,491.0 349.2,496.5 346.0,468.7 343.8,477.0 344.8,471.4 342.2,450.1 342.4,476.2 342.6,499.8 345.5,529.3 340.4,506.8 343.8,517.8 342.3,514.5 349.6,485.4 352.2,461.6 345.8,474.1 351.2,464.0 345.2,465.2 343.8,498.4 349.9,468.9 352.1,513.6 351.3,481.9 349.6,524.6 345.6,464.3 343.5,519.0 345.7,512.1 349.6,479.7 341.1,507.6 346.1,467.2 346.8,532.3 346.6,514.0 344.4,465.2 351.1,495.9 339.5,463.1 351.0,502.7 343.9,474.1 343.3,453.9 339.8,517.1 349.5,462.3 342.5,462.3 342.3,460.0 343.6,446.4 347.2,458.1 344.4,478.1 344.2,481.3 347.2,499.2 346.3,453.3 350.3,501.1 350.7,503.0 343.9,504.3 340.4,503.4 341.7,462.2 342.1,510.7 340.9,510.4 341.8,452.2 345.3,508.2 341.3,502.0 350.8,451.6 343.8,469.1 348.4,498.6 345.0,462.1 342.8,518.7 342.8,481.3 345.3,489.3 349.4,471.5 349.1,468.9 346.3,522.8 342.7,514.4 340.5,485.0 346.2,493.0 342.6,446.4 349.5,473.7 347.8,468.0 345.8,501.7 349.6,477.1 342.9,453.8 351.1,462.1 348.4,508.0 342.0,462.7 341.4,466.8 348.9,449.2 344.1,515.6 350.4,491.7 348.7,467.6 346.0,485.3 347.8,482.0 345.1,455.1 348.1,509.6 348.7,510.2 339.7,460.8 353.3,451.6 350.7,469.2 349.9,522.0 341.3,483.2 345.6,513.7 346.9,486.8 345.3,466.3 342.7,487.1 346.1,512.5 343.8,507.6 340.0,473.6 350.1,486.3 346.3,459.9 344.1,479.9 347.2,449.5 340.4,510.3 343.1,486.1 345.7,449.5 346.1,486.8 343.3,464.8 343.1,453.7 345.0,475.4 351.1,454.3 340.3,459.9 349.4,477.0 342.2,530.6 350.9,531.6 343.1,507.8 352.4,466.7 348.6,522.7 340.9,503.0 350.7,450.9 343.8,447.3 350.7,523.9 351.1,480.7 345.2,446.3 349.9,519.5 338.9,466.8 342.8,472.9 350.1,478.9 349.3,489.5 344.3,500.6 342.7,510.0 343.8,525.9 339.1,469.0 350.8,467.5 342.7,467.0 343.5,468.2 348.6,488.1 349.9,497.4 346.4,464.4 348.7,449.7 348.3,462.5 345.6,462.9 342.6,480.0 339.7,503.1 350.3,449.0 350.2,476.3 341.0,446.9 344.0,484.4 348.4,479.7 343.5,487.3 348.4,501.6 339.1,487.0 342.5,511.3 349.8,469.6 340.2,458.2 345.8,489.6 346.3,451.7 349.7,480.9 352.1,480.9 358.3,476.0 357.0,511.9 358.7,493.6 358.2,507.6 351.1,531.0 353.2,515.5 352.7,489.2 357.2,497.3 357.8,490.3 361.5,464.9 359.2,487.1 354.6,486.9 352.9,520.9 359.7,498.2 357.1,516.1 352.3,469.5 355.2,503.3 354.1,527.2 356.0,494.3 357.6,464.0 353.3,509.8 360.4,501.7 353.7,513.9 356.3,515.8 355.6,479.8 361.8,491.7 358.3,462.9 358.0,471.0 357.5,519.0 357.3,504.2 354.4,519.9 354.9,483.9 356.3,493.7 355.9,499.0 359.3,478.8 357.3,509.9 360.2,530.0 358.1,518.6 351.9,517.4 351.0,481.2 354.8,510.3 356.0,497.6 358.4,517.3 352.9,505.8 353.4,477.6 353.8,489.2 355.5,514.3 360.2,506.5 358.2,478.1 352.9,500.7 355.0,484.0 357.1,519.9 357.4,525.8 357.7,525.8 355.9,509.0 354.7,478.9 352.5,498.9 353.4,499.9 357.3,485.1 353.1,512.5 356.0,528.3 359.1,521.1 353.9,506.4 356.8,494.9 359.6,479.8 357.7,480.9 359.5,524.0 354.8,483.1 356.3,498.6 352.1,504.8 354.5,462.9 353.1,523.8 360.3,484.4 360.6,502.5 355.3,496.4 359.8,526.7 359.9,489.4 354.6,505.7 356.1,520.5 360.9,499.1 358.2,474.7 356.9,474.1 360.8,461.2 356.1,528.2 354.4,472.1 351.1,484.6 354.6,464.0 355.8,478.9 360.6,465.5 353.8,488.4 359.4,478.7 354.1,499.0 354.6,463.8 354.6,522.4 355.5,522.0 354.0,485.8 357.4,498.9 351.7,515.9 360.1,510.8 359.4,481.5 356.4,475.4 355.4,472.3 358.0,481.6 359.2,516.3 359.1,477.0 355.4,485.6 357.0,528.8 351.4,522.8 355.6,462.3 357.3,462.5 354.9,483.1 357.1,497.8 359.6,499.3 353.5,470.2 359.7,499.9 358.7,509.6 354.6,499.1 352.7,529.3 354.7,520.4 360.5,463.7 362.0,481.6 356.2,486.1 353.0,521.4 354.5,500.2 358.8,481.5 352.2,514.4 358.6,528.9 359.4,528.3 354.5,475.3 354.3,514.9 360.0,508.4 354.4,525.1 359.2,504.0 352.9,470.0 351.8,480.5 352.8,515.9 361.1,472.8 357.3,522.8 355.3,512.4 362.0,463.7 367.8,479.2 362.7,492.4 368.6,526.4 366.5,516.7 366.6,498.3 366.9,512.6 371.6,467.5 369.8,498.9 365.1,462.6 363.3,461.9 367.0,516.8 368.2,529.7 362.2,526.4 366.1,475.5 366.7,490.7 365.9,517.3 364.9,493.5 363.5,484.7 364.8,496.0 365.2,466.4 370.1,510.2 371.1,468.9 372.0,460.3 365.3,527.4 362.9,481.6 365.9,503.6 368.0,517.6 365.9,514.2 372.7,459.9 359.2,526.4 368.8,462.8 369.4,515.2 363.1,476.2 360.5,501.5 371.0,521.4 370.9,495.0 363.3,505.2 368.4,510.4 370.9,463.3 363.9,467.3 362.2,513.8 382.4,479.4 380.2,489.4 388.2,465.9 385.2,459.7 389.0,502.8 386.3,479.3 387.8,443.5 385.5,486.7 379.9,500.1 381.2,464.2 381.6,452.2 387.6,486.2 379.4,470.7 380.1,499.1 380.6,455.5 384.6,492.6 380.7,461.8 384.2,504.2 383.8,433.3 384.9,468.9 387.7,486.5 389.3,503.7 384.8,442.6 379.1,437.1 379.5,444.6 378.8,499.0 380.6,469.3 383.2,454.4 382.8,483.4 383.5,452.4 379.4,483.3 383.8,466.6 388.1,448.5 377.4,495.8 389.0,464.6 388.4,449.9 387.7,462.9 387.4,442.4 384.1,468.8 383.8,439.0 392.4,436.4 387.6,498.3 377.3,496.5 376.9,482.9 383.8,491.6 382.6,467.8 390.0,497.9 389.2,449.1 382.7,481.7 389.6,499.8 378.0,482.9 383.1,439.9 377.5,468.5 380.1,463.8 382.0,464.7 379.5,462.3 389.7,496.2 378.5,461.1 384.6,498.3 379.5,441.3 378.6,491.6 391.2,496.1 385.2,505.7 388.1,467.6 385.7,469.6 374.2,381.2 376.7,402.8 370.2,375.4 378.9,418.7 372.8,437.6 374.4,396.6 375.0,368.6 372.2,438.9 374.2,404.8 377.4,387.1 376.7,377.5 369.6,409.8 374.5,408.5 374.1,436.2 376.8,414.3 376.5,395.4 373.0,386.9 373.2,384.8 371.2,428.1 370.6,429.6 371.6,405.3 375.5,353.1 374.5,363.0 374.5,376.2 371.0,379.0 374.0,381.0 370.5,383.0 373.0,389.0 374.5,390.0 373.0,397.7 375.0,400.0 372.0,401.0 374.0,403.0 375.5,406.0 373.0,409.0 375.0,412.0 376.0,415.0 367.7,412.3 375.5,422.8 373.3,429.0 373.3,433.4 353.0,421.0 354.0,420.0 353.0,437.8 383.0,436.4 380.0,434.0 382.0,440.0 329.5,418.2 354.0,421.0 353.5,438.0 376.5,414.0 352.4,418.0 359.5,448.0 361.0,438.0 363.3,446.0 364.0,456.0 384.2,450.6 393.8,433.5 381.7,450.8 390.3,445.2 384.4,436.2 387.5,445.4 394.0,448.8 390.6,438.2 388.1,435.8 387.6,450.5 386.6,454.3 384.1,443.1 393.5,445.2 391.4,480.6 391.7,460.4 395.1,462.3 388.1,498.7 387.9,495.7 386.4,495.8 392.5,488.5 390.4,471.8 391.6,479.7 387.2,472.1 389.8,489.3 390.0,483.4 391.2,480.9 384.4,461.9 393.3,470.6 389.4,471.1 393.4,470.5 392.9,492.8 391.8,482.9 391.1,497.8 396.8,489.0 395.3,494.4 393.7,499.0 390.6,490.1 395.4,508.2 394.9,506.7 389.4,503.5 387.5,506.3 389.6,505.7 391.0,508.6 389.6,506.8 391.4,506.5 394.1,513.3 392.8,499.9 394.3,513.6 393.5,503.1 390.6,507.5 394.7,510.5 392.9,512.8 389.8,510.3 388.7,505.1 395.3,501.7 388.4,502.7 393.5,501.9 397.9,499.6 394.2,505.3 392.3,501.4 389.8,502.0 396.3,510.0 394.2,511.8 392.1,515.1 412.3,533.3 410.6,530.8 402.4,532.8 400.6,517.3 402.7,515.8 399.7,516.8 415.1,496.3 419.6,499.7 401.0,530.3 416.7,538.4 405.2,499.8 418.7,535.1 408.5,493.5 415.9,519.4 401.2,536.9 406.4,502.5 403.7,517.3 416.1,515.3 410.3,527.2 410.1,497.8 399.9,497.6 400.9,505.3 405.7,524.1 406.7,500.1 402.3,498.5 412.2,494.6 404.9,505.8 412.2,497.5 406.1,516.6 409.8,504.1 405.1,505.1 416.5,533.8 402.4,506.9 414.9,522.8 419.3,534.0 407.9,512.4 403.2,515.4 405.7,522.5 412.8,522.6 409.1,533.5 406.4,498.5 416.9,505.2 417.6,502.6 415.7,521.1 398.9,507.1 413.4,493.7 410.3,506.5 402.1,504.2 399.6,502.8 411.7,495.0 398.6,504.9 412.4,519.7 410.6,529.0 405.5,523.0 406.2,498.7 415.1,533.2 413.9,534.5 415.2,501.6 405.8,521.5 413.3,497.0 403.1,495.7 405.3,529.2 397.2,502.0 414.1,529.4 413.2,519.7 407.6,506.4 409.5,519.1 396.3,511.5 408.2,506.6 398.1,515.4 405.6,501.9 410.0,502.5 409.2,506.5 413.4,537.1 399.8,535.2 419.0,501.3 418.1,502.5 418.3,512.2 399.7,531.6 410.7,512.6 405.7,521.4 398.5,499.9 402.8,508.1 398.5,503.8 399.6,529.8 407.9,530.6 417.4,520.7 398.3,537.9 416.6,530.2 404.0,503.7 402.2,523.7 407.2,523.2 417.4,534.9 405.1,526.4 408.8,499.5 411.2,497.1 410.4,497.1 416.9,512.3 400.5,510.5 413.3,529.0 415.0,509.9 409.0,521.0 409.5,538.5 396.8,502.1 413.4,508.5 411.5,534.8 417.4,495.9 403.0,517.1 416.8,501.1 414.4,521.2 410.8,519.2 400.0,500.0 403.4,515.9 403.1,531.3 396.8,537.2 403.1,532.0 408.4,513.7 407.3,522.6 404.5,529.7 404.9,519.0 410.5,531.7 403.8,527.2 408.8,517.8 406.3,526.2 404.3,531.9 410.9,524.5 405.4,527.2 402.6,523.9 404.8,532.5 407.9,520.0 411.1,515.4 401.0,522.6 405.2,522.8 408.3,534.3 409.7,533.5 412.4,516.1 402.7,530.3 413.2,512.6 410.7,523.1 406.1,526.4 412.2,532.6 405.4,515.6 405.7,524.2 410.4,522.3 408.9,521.3 411.4,519.8 407.3,522.1 407.6,514.2 409.7,529.4 408.3,512.0 410.2,525.1 401.0,519.6 403.4,513.2 410.3,529.5 402.6,516.4 406.2,526.9 406.1,512.8 413.3,519.2 404.9,534.6 404.8,522.2 402.4,516.8 412.7,518.6 409.0,527.5 411.7,533.2 409.7,527.7 402.3,532.9 403.5,532.7 407.1,518.8 401.7,515.8 406.9,515.2 403.3,517.4 411.0,525.2 412.7,519.0 411.3,525.5 409.4,528.4 406.0,511.1 406.7,525.9 402.0,514.6 412.8,514.9 408.3,514.4 402.1,530.0 407.2,516.1 416.2,531.4 418.4,540.5 416.0,535.5 420.5,531.3 418.7,534.4 417.7,535.7 418.9,533.8 420.0,532.0 416.8,539.1 420.8,539.3 419.0,540.1 418.1,536.9 419.3,534.2 421.7,537.4 419.7,538.1 422.1,536.9 418.7,532.7 418.6,539.7 419.0,534.0 418.3,534.0 416.5,539.1 415.9,537.1 416.0,534.3 416.4,541.4 419.5,540.1 419.6,530.5 420.7,538.4 416.7,539.1 422.4,539.6 413.3,535.7 423.8,540.3 442.9,535.3 442.7,538.1 426.8,539.9 427.8,542.4 440.0,536.3 428.2,537.5 425.9,539.5 443.5,538.2 441.4,534.7 429.8,541.0 427.5,542.7 425.4,534.9 438.9,539.3 427.9,536.8 425.3,536.0 432.5,540.7 425.7,539.3 435.8,539.8 438.2,541.5 441.3,538.0 435.5,537.6 431.7,541.1 438.8,542.1 425.9,535.6 425.9,539.4 444.6,543.8 430.5,535.1 435.4,537.5 445.1,540.9 426.4,543.0 441.8,538.5 431.4,538.0 433.7,538.6 440.8,538.1 438.3,540.5 432.7,538.3 438.2,540.3 442.5,539.6 442.0,536.0 442.2,536.5 432.3,535.1 437.2,546.0 423.8,536.4 441.3,542.7 425.1,538.2 434.7,536.6 439.0,538.3 434.5,539.1 439.2,540.4 442.1,538.4 428.9,541.3 436.4,536.9 446.2,538.6 442.1,535.8 441.3,533.0 427.3,538.7 438.9,540.4 445.2,542.9 438.2,536.7 437.8,540.4 443.6,534.8 436.9,540.2 445.4,540.6 442.6,534.9 432.7,534.8 430.5,538.9 433.9,536.9 440.7,535.8 437.8,540.4 424.5,539.2 432.9,534.8 432.9,542.6 429.9,535.9 426.4,536.3 427.7,543.2 437.9,538.2 424.5,542.2 438.5,541.4 432.8,536.7 430.4,543.3 434.3,540.7 432.3,541.6 443.3,537.6 426.7,532.5 427.5,537.1 423.7,541.3 448.1,536.5 424.8,540.8 436.1,543.4 429.4,536.2 434.5,539.7 440.7,542.7 442.8,538.5 426.7,538.9 426.3,536.6 428.3,537.0 432.0,534.1 446.0,538.0 431.2,536.4 443.5,539.1 427.1,540.8 427.9,535.3 439.0,543.4 443.1,535.9 445.1,539.8 444.4,537.2 436.1,540.3 441.6,535.6 428.4,537.6 445.2,535.1 428.4,543.3 425.9,536.7 441.3,539.1 431.4,536.9 425.9,543.1 446.6,538.9 444.8,538.2 444.1,542.3 426.9,533.4 425.0,534.9 431.6,536.6 425.1,537.2 444.6,540.3 435.9,535.7 430.7,536.2 441.4,533.9 428.0,536.3 432.4,535.7 431.7,541.1 437.0,538.1 433.0,542.0 428.8,541.9 435.8,538.4 447.0,543.9 439.7,539.7 442.2,541.7 426.5,536.8 422.6,541.5 427.7,536.8 427.9,541.3 428.5,537.1 433.4,538.1" fill="none" stroke="none" marker-start="url(#mbO)" marker-mid="url(#mbO)" marker-end="url(#mbO)"/>
<text x="-0.80" y="326.60" font-size="21" text-anchor="start" font-weight="bold">b</text>
<text transform="translate(15.00,442.30) rotate(-90)" font-size="18.3" text-anchor="middle" font-style="italic">Synechococcus</text>
<text transform="translate(36.60,444.20) rotate(-90)" font-size="18.3" text-anchor="middle">(×10<tspan font-size="11" dy="-8">5</tspan><tspan dy="8"> cells ml</tspan><tspan font-size="11" dy="-8">−1</tspan><tspan dy="8">)</tspan></text>
<circle cx="532.4" cy="406.6" r="7.3" fill="#92208F"/>
<text x="553.70" y="412.80" font-size="18.3" text-anchor="start" >March 2015</text>
<circle cx="532.4" cy="430.4" r="7.3" fill="#0060AA"/>
<text x="553.70" y="436.60" font-size="18.3" text-anchor="start" >April 2016</text>
<circle cx="532.4" cy="454.5" r="7.3" fill="#FF7700"/>
<text x="553.70" y="460.70" font-size="18.3" text-anchor="start" >June 2017</text>
<line x1="532.6" y1="473.1" x2="532.6" y2="481.1" stroke="#000" stroke-width="1.5"/>
<path d="M527.40,478.10 L532.60,479.90 L537.80,478.10 L532.60,487.10 Z" fill="#000"/>
<text x="553.70" y="485.00" font-size="18.3" text-anchor="start" >Chlorophyll front</text>
<rect x="524.2" y="496.1" width="20.8" height="14.7" fill="#D8D8D8"/>
<text x="553.70" y="510.60" font-size="18.3" text-anchor="start" >Hotspot</text>
<rect x="288" y="656.5" width="100" height="213.9" fill="#E5E5E5"/>
<line x1="95.50" y1="656.50" x2="95.50" y2="871.00" stroke="#808080" stroke-width="1.2"/>
<line x1="94.90" y1="870.40" x2="501.10" y2="870.40" stroke="#3a3a3a" stroke-width="1.2"/>
<line x1="500.50" y1="655.90" x2="500.50" y2="871.00" stroke="#808080" stroke-width="1.2"/>
<line x1="94.90" y1="656.50" x2="501.10" y2="656.50" stroke="#666666" stroke-width="1.2"/>
<line x1="88.70" y1="870.40" x2="95.50" y2="870.40" stroke="#808080" stroke-width="1.2"/>
<text x="81.00" y="876.70" font-size="18.3" text-anchor="end" >0</text>
<line x1="88.70" y1="827.62" x2="95.50" y2="827.62" stroke="#808080" stroke-width="1.2"/>
<text x="81.00" y="833.92" font-size="18.3" text-anchor="end" >5</text>
<line x1="88.70" y1="784.84" x2="95.50" y2="784.84" stroke="#808080" stroke-width="1.2"/>
<text x="81.00" y="791.14" font-size="18.3" text-anchor="end" >10</text>
<line x1="88.70" y1="742.06" x2="95.50" y2="742.06" stroke="#808080" stroke-width="1.2"/>
<text x="81.00" y="748.36" font-size="18.3" text-anchor="end" >15</text>
<line x1="88.70" y1="699.28" x2="95.50" y2="699.28" stroke="#808080" stroke-width="1.2"/>
<text x="81.00" y="705.58" font-size="18.3" text-anchor="end" >20</text>
<line x1="88.70" y1="656.50" x2="95.50" y2="656.50" stroke="#808080" stroke-width="1.2"/>
<text x="81.00" y="662.80" font-size="18.3" text-anchor="end" >25</text>
<line x1="95.50" y1="870.40" x2="95.50" y2="877.40" stroke="#808080" stroke-width="1.2"/>
<text x="95.50" y="900.00" font-size="18.3" text-anchor="middle" >28</text>
<line x1="196.68" y1="870.40" x2="196.68" y2="877.40" stroke="#808080" stroke-width="1.2"/>
<text x="196.68" y="900.00" font-size="18.3" text-anchor="middle" >23</text>
<line x1="297.85" y1="870.40" x2="297.85" y2="877.40" stroke="#808080" stroke-width="1.2"/>
<text x="297.85" y="900.00" font-size="18.3" text-anchor="middle" >18</text>
<line x1="399.02" y1="870.40" x2="399.02" y2="877.40" stroke="#808080" stroke-width="1.2"/>
<text x="399.02" y="900.00" font-size="18.3" text-anchor="middle" >13</text>
<line x1="500.20" y1="870.40" x2="500.20" y2="877.40" stroke="#808080" stroke-width="1.2"/>
<text x="500.20" y="900.00" font-size="18.3" text-anchor="middle" >8</text>
<text x="298.00" y="928.00" font-size="18.3" text-anchor="middle" >Temperature (°C)</text>
<line x1="334.9" y1="639" x2="334.9" y2="647.0" stroke="#0060AA" stroke-width="1.5"/>
<path d="M329.70,644.00 L334.90,645.80 L340.10,644.00 L334.90,653.00 Z" fill="#0060AA"/>
<line x1="344.9" y1="639" x2="344.9" y2="647.0" stroke="#FF7700" stroke-width="1.5"/>
<path d="M339.70,644.00 L344.90,645.80 L350.10,644.00 L344.90,653.00 Z" fill="#FF7700"/>
<line x1="378.8" y1="639" x2="378.8" y2="647.0" stroke="#92208F" stroke-width="1.5"/>
<path d="M373.60,644.00 L378.80,645.80 L384.00,644.00 L378.80,653.00 Z" fill="#92208F"/>
<path d="M169.30,813.60L174.30,804.60L179.30,813.60Z" fill="#0060AA"/>
<path d="M203.70,798.90L208.70,789.90L213.70,798.90Z" fill="#0060AA"/>
<path d="M211.30,819.50L216.30,810.50L221.30,819.50Z" fill="#0060AA"/>
<path d="M215.50,824.10L220.50,815.10L225.50,824.10Z" fill="#0060AA"/>
<path d="M222.80,820.80L227.80,811.80L232.80,820.80Z" fill="#0060AA"/>
<path d="M235.00,821.10L240.00,812.10L245.00,821.10Z" fill="#0060AA"/>
<path d="M245.60,818.50L250.60,809.50L255.60,818.50Z" fill="#0060AA"/>
<path d="M250.20,822.50L255.20,813.50L260.20,822.50Z" fill="#0060AA"/>
<path d="M251.10,803.20L256.10,794.20L261.10,803.20Z" fill="#0060AA"/>
<path d="M254.10,808.70L259.10,799.70L264.10,808.70Z" fill="#0060AA"/>
<path d="M284.40,800.20L289.40,791.20L294.40,800.20Z" fill="#0060AA"/>
<path d="M309.20,765.60L314.20,756.60L319.20,765.60Z" fill="#0060AA"/>
<path d="M323.60,769.60L328.60,760.60L333.60,769.60Z" fill="#0060AA"/>
<path d="M334.10,755.70L339.10,746.70L344.10,755.70Z" fill="#0060AA"/>
<path d="M356.50,792.50L361.50,783.50L366.50,792.50Z" fill="#0060AA"/>
<path d="M351.20,806.40L356.20,797.40L361.20,806.40Z" fill="#0060AA"/>
<path d="M369.10,831.90L374.10,822.90L379.10,831.90Z" fill="#0060AA"/>
<path d="M370.10,843.10L375.10,834.10L380.10,843.10Z" fill="#0060AA"/>
<path d="M377.00,847.10L382.00,838.10L387.00,847.10Z" fill="#0060AA"/>
<path d="M383.20,852.90L388.20,843.90L393.20,852.90Z" fill="#0060AA"/>
<path d="M352.00,859.50L357.00,850.50L362.00,859.50Z" fill="#0060AA"/>
<path d="M385.00,854.10L390.00,845.10L395.00,854.10Z" fill="#0060AA"/>
<path d="M411.30,864.60L416.30,855.60L421.30,864.60Z" fill="#0060AA"/>
<path d="M415.10,864.00L420.10,855.00L425.10,864.00Z" fill="#0060AA"/>
<path d="M412.00,867.00L417.00,858.00L422.00,867.00Z" fill="#0060AA"/>
<path d="M424.10,862.80L429.10,853.80L434.10,862.80Z" fill="#0060AA"/>
<path d="M426.50,862.20L431.50,853.20L436.50,862.20Z" fill="#0060AA"/>
<path d="M437.60,865.20L442.60,856.20L447.60,865.20Z" fill="#0060AA"/>
<path d="M215.70,816.80L220.70,807.80L225.70,816.80Z" fill="#92208F"/>
<path d="M219.80,826.10L224.80,817.10L229.80,826.10Z" fill="#92208F"/>
<path d="M226.50,817.10L231.50,808.10L236.50,817.10Z" fill="#92208F"/>
<path d="M244.50,825.90L249.50,816.90L254.50,825.90Z" fill="#92208F"/>
<path d="M248.60,828.60L253.60,819.60L258.60,828.60Z" fill="#92208F"/>
<path d="M280.50,821.20L285.50,812.20L290.50,821.20Z" fill="#92208F"/>
<path d="M286.00,829.20L291.00,820.20L296.00,829.20Z" fill="#92208F"/>
<path d="M292.10,822.70L297.10,813.70L302.10,822.70Z" fill="#92208F"/>
<path d="M346.50,738.10L351.50,729.10L356.50,738.10Z" fill="#92208F"/>
<path d="M342.00,754.90L347.00,745.90L352.00,754.90Z" fill="#92208F"/>
<path d="M359.60,762.20L364.60,753.20L369.60,762.20Z" fill="#92208F"/>
<path d="M370.90,766.20L375.90,757.20L380.90,766.20Z" fill="#92208F"/>
<path d="M342.50,773.30L347.50,764.30L352.50,773.30Z" fill="#92208F"/>
<path d="M296.50,810.00L301.50,801.00L306.50,810.00Z" fill="#92208F"/>
<path d="M308.40,806.90L313.40,797.90L318.40,806.90Z" fill="#92208F"/>
<path d="M305.20,815.80L310.20,806.80L315.20,815.80Z" fill="#92208F"/>
<path d="M396.30,813.20L401.30,804.20L406.30,813.20Z" fill="#92208F"/>
<path d="M408.40,837.10L413.40,828.10L418.40,837.10Z" fill="#92208F"/>
<path d="M416.00,841.20L421.00,832.20L426.00,841.20Z" fill="#92208F"/>
<path d="M161.80,849.50L166.80,840.50L171.80,849.50Z" fill="#FF7700"/>
<path d="M199.70,850.70L204.70,841.70L209.70,850.70Z" fill="#FF7700"/>
<path d="M201.60,860.00L206.60,851.00L211.60,860.00Z" fill="#FF7700"/>
<path d="M221.80,851.50L226.80,842.50L231.80,851.50Z" fill="#FF7700"/>
<path d="M228.00,803.50L233.00,794.50L238.00,803.50Z" fill="#FF7700"/>
<path d="M244.80,843.80L249.80,834.80L254.80,843.80Z" fill="#FF7700"/>
<path d="M257.00,846.00L262.00,837.00L267.00,846.00Z" fill="#FF7700"/>
<path d="M259.10,783.70L264.10,774.70L269.10,783.70Z" fill="#FF7700"/>
<path d="M274.00,851.00L279.00,842.00L284.00,851.00Z" fill="#FF7700"/>
<path d="M352.50,703.10L357.50,694.10L362.50,703.10Z" fill="#FF7700"/>
<path d="M347.30,705.70L352.30,696.70L357.30,705.70Z" fill="#FF7700"/>
<path d="M343.80,712.30L348.80,703.30L353.80,712.30Z" fill="#FF7700"/>
<path d="M336.20,723.30L341.20,714.30L346.20,723.30Z" fill="#FF7700"/>
<path d="M340.20,723.30L345.20,714.30L350.20,723.30Z" fill="#FF7700"/>
<path d="M350.70,721.00L355.70,712.00L360.70,721.00Z" fill="#FF7700"/>
<path d="M324.40,732.50L329.40,723.50L334.40,732.50Z" fill="#FF7700"/>
<path d="M329.40,740.40L334.40,731.40L339.40,740.40Z" fill="#FF7700"/>
<path d="M310.50,742.50L315.50,733.50L320.50,742.50Z" fill="#FF7700"/>
<path d="M312.30,770.60L317.30,761.60L322.30,770.60Z" fill="#FF7700"/>
<path d="M299.20,774.00L304.20,765.00L309.20,774.00Z" fill="#FF7700"/>
<path d="M298.60,778.50L303.60,769.50L308.60,778.50Z" fill="#FF7700"/>
<path d="M298.10,789.00L303.10,780.00L308.10,789.00Z" fill="#FF7700"/>
<path d="M307.60,835.80L312.60,826.80L317.60,835.80Z" fill="#FF7700"/>
<path d="M373.50,815.30L378.50,806.30L383.50,815.30Z" fill="#FF7700"/>
<path d="M379.60,827.90L384.60,818.90L389.60,827.90Z" fill="#FF7700"/>
<path d="M358.60,840.30L363.60,831.30L368.60,840.30Z" fill="#FF7700"/>
<path d="M390.60,852.90L395.60,843.90L400.60,852.90Z" fill="#FF7700"/>
<path d="M406.60,869.20L411.60,860.20L416.60,869.20Z" fill="#FF7700"/>
<path d="M417.70,870.40L422.70,861.40L427.70,870.40Z" fill="#FF7700"/>
<path d="M420.00,871.00L425.00,862.00L430.00,871.00Z" fill="#FF7700"/>
<path d="M434.00,866.30L439.00,857.30L444.00,866.30Z" fill="#FF7700"/>
<path d="M432.60,868.00L437.60,859.00L442.60,868.00Z" fill="#FF7700"/>
<path d="M437.60,857.00L442.60,848.00L447.60,857.00Z" fill="#FF7700"/>
<path d="M446.30,871.00L451.30,862.00L456.30,871.00Z" fill="#FF7700"/>
<text x="-1.00" y="644.60" font-size="21" text-anchor="start" font-weight="bold">c</text>
<text transform="translate(13.50,762.60) rotate(-90)" font-size="18.3" text-anchor="middle">Cyanophages</text>
<text transform="translate(36.60,762.60) rotate(-90)" font-size="18.3" text-anchor="middle">(×10<tspan font-size="11" dy="-8">5</tspan><tspan dy="8"> viruses ml</tspan><tspan font-size="11" dy="-8">−1</tspan><tspan dy="8">)</tspan></text>
<line x1="95.20" y1="956.80" x2="95.20" y2="1173.60" stroke="#808080" stroke-width="1.2"/>
<line x1="94.60" y1="1173.00" x2="499.50" y2="1173.00" stroke="#808080" stroke-width="1.2"/>
<line x1="499.50" y1="956.20" x2="499.50" y2="1173.60" stroke="#3a3a3a" stroke-width="1.2"/>
<line x1="95.20" y1="957.20" x2="500.10" y2="957.20" stroke="#c8c8c8" stroke-width="1.2"/>
<line x1="88.60" y1="1173.00" x2="95.20" y2="1173.00" stroke="#808080" stroke-width="1.2"/>
<text x="81.00" y="1179.30" font-size="18.3" text-anchor="end" >0</text>
<line x1="88.60" y1="1129.76" x2="95.20" y2="1129.76" stroke="#808080" stroke-width="1.2"/>
<text x="81.00" y="1136.06" font-size="18.3" text-anchor="end" >5</text>
<line x1="88.60" y1="1086.52" x2="95.20" y2="1086.52" stroke="#808080" stroke-width="1.2"/>
<text x="81.00" y="1092.82" font-size="18.3" text-anchor="end" >10</text>
<line x1="88.60" y1="1043.28" x2="95.20" y2="1043.28" stroke="#808080" stroke-width="1.2"/>
<text x="81.00" y="1049.58" font-size="18.3" text-anchor="end" >15</text>
<line x1="88.60" y1="1000.04" x2="95.20" y2="1000.04" stroke="#808080" stroke-width="1.2"/>
<text x="81.00" y="1006.34" font-size="18.3" text-anchor="end" >20</text>
<line x1="88.60" y1="956.80" x2="95.20" y2="956.80" stroke="#808080" stroke-width="1.2"/>
<text x="81.00" y="963.10" font-size="18.3" text-anchor="end" >25</text>
<line x1="95.20" y1="1173.00" x2="95.20" y2="1179.60" stroke="#808080" stroke-width="1.2"/>
<text x="95.20" y="1202.60" font-size="18.3" text-anchor="middle" >0</text>
<line x1="229.85" y1="1173.00" x2="229.85" y2="1179.60" stroke="#808080" stroke-width="1.2"/>
<text x="229.85" y="1202.60" font-size="18.3" text-anchor="middle" >1</text>
<line x1="364.50" y1="1173.00" x2="364.50" y2="1179.60" stroke="#808080" stroke-width="1.2"/>
<text x="364.50" y="1202.60" font-size="18.3" text-anchor="middle" >2</text>
<line x1="499.15" y1="1173.00" x2="499.15" y2="1179.60" stroke="#808080" stroke-width="1.2"/>
<text x="499.15" y="1202.60" font-size="18.3" text-anchor="middle" >3</text>
<circle cx="127.2" cy="999.7" r="8" fill="#BDBDBD"/>
<circle cx="156.4" cy="1008.6" r="8" fill="#BDBDBD"/>
<circle cx="156.2" cy="1019.6" r="8" fill="#BDBDBD"/>
<circle cx="189.6" cy="1002.5" r="8" fill="#BDBDBD"/>
<circle cx="204.3" cy="1003.7" r="8" fill="#BDBDBD"/>
<circle cx="190.3" cy="1018.4" r="8" fill="#BDBDBD"/>
<circle cx="197.1" cy="1016.8" r="8" fill="#BDBDBD"/>
<circle cx="200.6" cy="1021.4" r="8" fill="#BDBDBD"/>
<circle cx="216" cy="1030.1" r="8" fill="#BDBDBD"/>
<circle cx="213.4" cy="1038.3" r="8" fill="#BDBDBD"/>
<circle cx="228.6" cy="1067.6" r="8" fill="#BDBDBD"/>
<circle cx="264.6" cy="1039.2" r="8" fill="#BDBDBD"/>
<circle cx="285.5" cy="1071.8" r="8" fill="#BDBDBD"/>
<circle cx="283.9" cy="1081.7" r="8" fill="#BDBDBD"/>
<circle cx="278.5" cy="1086.4" r="8" fill="#BDBDBD"/>
<circle cx="310.3" cy="1075.2" r="8" fill="#BDBDBD"/>
<circle cx="213" cy="1133.3" r="8" fill="#BDBDBD"/>
<circle cx="206.8" cy="1069.9" r="8" fill="#BDBDBD"/>
<circle cx="241.8" cy="1059.8" r="8" fill="#BDBDBD"/>
<circle cx="255.9" cy="1051.9" r="8" fill="#BDBDBD"/>
<circle cx="261.3" cy="1034.6" r="8" fill="#BDBDBD"/>
<circle cx="248.1" cy="1104.5" r="8" fill="#BDBDBD"/>
<circle cx="258.5" cy="1107.7" r="8" fill="#BDBDBD"/>
<circle cx="238" cy="1118.5" r="8" fill="#BDBDBD"/>
<circle cx="241.7" cy="1120.2" r="8" fill="#BDBDBD"/>
<circle cx="283.9" cy="1113.5" r="8" fill="#BDBDBD"/>
<circle cx="358.6" cy="1067" r="8" fill="#BDBDBD"/>
<circle cx="365.8" cy="1062.6" r="8" fill="#BDBDBD"/>
<circle cx="447.1" cy="1052.8" r="8" fill="#BDBDBD"/>
<circle cx="394.2" cy="1089.6" r="8" fill="#BDBDBD"/>
<circle cx="428.3" cy="1103.9" r="8" fill="#BDBDBD"/>
<circle cx="335.2" cy="1097.5" r="8" fill="#BDBDBD"/>
<circle cx="454.2" cy="1157.3" r="8" fill="#BDBDBD"/>
<circle cx="206.8" cy="1069.9" r="4.2" fill="#92208F"/>
<circle cx="241.8" cy="1059.8" r="4.2" fill="#92208F"/>
<circle cx="255.9" cy="1051.9" r="4.2" fill="#92208F"/>
<circle cx="261.3" cy="1034.6" r="4.2" fill="#92208F"/>
<circle cx="248.1" cy="1104.5" r="4.2" fill="#92208F"/>
<circle cx="258.5" cy="1107.7" r="4.2" fill="#92208F"/>
<circle cx="238" cy="1118.5" r="4.2" fill="#92208F"/>
<circle cx="241.7" cy="1120.2" r="4.2" fill="#92208F"/>
<circle cx="283.9" cy="1113.5" r="4.2" fill="#92208F"/>
<circle cx="358.6" cy="1067" r="4.2" fill="#0060AA"/>
<circle cx="365.8" cy="1062.6" r="4.2" fill="#0060AA"/>
<circle cx="447.1" cy="1052.8" r="4.2" fill="#0060AA"/>
<circle cx="394.2" cy="1089.6" r="4.2" fill="#0060AA"/>
<circle cx="428.3" cy="1103.9" r="4.2" fill="#0060AA"/>
<circle cx="335.2" cy="1097.5" r="4.2" fill="#0060AA"/>
<circle cx="454.2" cy="1157.3" r="4.2" fill="#0060AA"/>
<circle cx="127.2" cy="999.7" r="4.2" fill="#FF7700"/>
<circle cx="156.4" cy="1008.6" r="4.2" fill="#FF7700"/>
<circle cx="156.2" cy="1019.6" r="4.2" fill="#FF7700"/>
<circle cx="189.6" cy="1002.5" r="4.2" fill="#FF7700"/>
<circle cx="204.3" cy="1003.7" r="4.2" fill="#FF7700"/>
<circle cx="190.3" cy="1018.4" r="4.2" fill="#FF7700"/>
<circle cx="197.1" cy="1016.8" r="4.2" fill="#FF7700"/>
<circle cx="200.6" cy="1021.4" r="4.2" fill="#FF7700"/>
<circle cx="216" cy="1030.1" r="4.2" fill="#FF7700"/>
<circle cx="213.4" cy="1038.3" r="4.2" fill="#FF7700"/>
<circle cx="228.6" cy="1067.6" r="4.2" fill="#FF7700"/>
<circle cx="264.6" cy="1039.2" r="4.2" fill="#FF7700"/>
<circle cx="285.5" cy="1071.8" r="4.2" fill="#FF7700"/>
<circle cx="283.9" cy="1081.7" r="4.2" fill="#FF7700"/>
<circle cx="278.5" cy="1086.4" r="4.2" fill="#FF7700"/>
<circle cx="310.3" cy="1075.2" r="4.2" fill="#FF7700"/>
<circle cx="213" cy="1133.3" r="4.2" fill="#FF7700"/>
<path d="M288.70,1111.20L293.70,1102.20L298.70,1111.20Z" fill="#0060AA"/>
<path d="M327.90,1104.70L332.90,1095.70L337.90,1104.70Z" fill="#0060AA"/>
<path d="M351.30,1101.20L356.30,1092.20L361.30,1101.20Z" fill="#0060AA"/>
<path d="M319.70,1115.90L324.70,1106.90L329.70,1115.90Z" fill="#0060AA"/>
<path d="M326.80,1121.00L331.80,1112.00L336.80,1121.00Z" fill="#0060AA"/>
<path d="M331.40,1122.00L336.40,1113.00L341.40,1122.00Z" fill="#0060AA"/>
<path d="M345.40,1124.80L350.40,1115.80L355.40,1124.80Z" fill="#0060AA"/>
<path d="M349.00,1122.90L354.00,1113.90L359.00,1122.90Z" fill="#0060AA"/>
<path d="M357.80,1121.70L362.80,1112.70L367.80,1121.70Z" fill="#0060AA"/>
<path d="M362.50,1127.10L367.50,1118.10L372.50,1127.10Z" fill="#0060AA"/>
<path d="M407.60,1123.50L412.60,1114.50L417.60,1123.50Z" fill="#0060AA"/>
<path d="M189.30,1132.40L194.30,1123.40L199.30,1132.40Z" fill="#92208F"/>
<path d="M307.60,1119.90L312.60,1110.90L317.60,1119.90Z" fill="#92208F"/>
<path d="M284.70,1132.20L289.70,1123.20L294.70,1132.20Z" fill="#92208F"/>
<path d="M299.90,1129.20L304.90,1120.20L309.90,1129.20Z" fill="#92208F"/>
<path d="M343.10,1118.70L348.10,1109.70L353.10,1118.70Z" fill="#92208F"/>
<path d="M359.90,1120.60L364.90,1111.60L369.90,1120.60Z" fill="#92208F"/>
<path d="M279.60,1106.30L284.60,1097.30L289.60,1106.30Z" fill="#FF7700"/>
<path d="M264.90,1152.10L269.90,1143.10L274.90,1152.10Z" fill="#FF7700"/>
<path d="M263.70,1156.10L268.70,1147.10L273.70,1156.10Z" fill="#FF7700"/>
<path d="M266.70,1163.80L271.70,1154.80L276.70,1163.80Z" fill="#FF7700"/>
<path d="M289.40,1146.70L294.40,1137.70L299.40,1146.70Z" fill="#FF7700"/>
<path d="M297.60,1148.60L302.60,1139.60L307.60,1148.60Z" fill="#FF7700"/>
<path d="M295.20,1154.50L300.20,1145.50L305.20,1154.50Z" fill="#FF7700"/>
<path d="M128.20,1155.60L133.60,1161.00L128.20,1166.40L122.80,1161.00Z" fill="#0060AA"/>
<path d="M148.60,1144.80L154.00,1150.20L148.60,1155.60L143.20,1150.20Z" fill="#0060AA"/>
<path d="M174.90,1159.20L180.30,1164.60L174.90,1170.00L169.50,1164.60Z" fill="#0060AA"/>
<path d="M231.20,1156.80L236.60,1162.20L231.20,1167.60L225.80,1162.20Z" fill="#0060AA"/>
<path d="M393.20,1138.70L398.60,1144.10L393.20,1149.50L387.80,1144.10Z" fill="#0060AA"/>
<path d="M383.20,1155.50L388.60,1160.90L383.20,1166.30L377.80,1160.90Z" fill="#0060AA"/>
<path d="M413.20,1134.60L418.60,1140.00L413.20,1145.40L407.80,1140.00Z" fill="#0060AA"/>
<path d="M415.80,1136.80L421.20,1142.20L415.80,1147.60L410.40,1142.20Z" fill="#0060AA"/>
<path d="M430.10,1156.50L435.50,1161.90L430.10,1167.30L424.70,1161.90Z" fill="#0060AA"/>
<path d="M468.80,1124.10L474.20,1129.50L468.80,1134.90L463.40,1129.50Z" fill="#0060AA"/>
<path d="M124.90,1133.00L130.30,1138.40L124.90,1143.80L119.50,1138.40Z" fill="#92208F"/>
<path d="M202.10,1105.00L207.50,1110.40L202.10,1115.80L196.70,1110.40Z" fill="#92208F"/>
<path d="M174.40,1129.50L179.80,1134.90L174.40,1140.30L169.00,1134.90Z" fill="#92208F"/>
<path d="M218.00,1057.70L223.40,1063.10L218.00,1068.50L212.60,1063.10Z" fill="#92208F"/>
<path d="M167.40,1119.70L172.80,1125.10L167.40,1130.50L162.00,1125.10Z" fill="#FF7700"/>
<path d="M167.40,1132.50L172.80,1137.90L167.40,1143.30L162.00,1137.90Z" fill="#FF7700"/>
<path d="M108.60,1149.10L114.00,1154.50L108.60,1159.90L103.20,1154.50Z" fill="#FF7700"/>
<path d="M108.10,1159.10L113.50,1164.50L108.10,1169.90L102.70,1164.50Z" fill="#FF7700"/>
<path d="M108.80,1163.70L114.20,1169.10L108.80,1174.50L103.40,1169.10Z" fill="#FF7700"/>
<path d="M113.40,1160.10L118.80,1165.50L113.40,1170.90L108.00,1165.50Z" fill="#FF7700"/>
<path d="M114.40,1163.70L119.80,1169.10L114.40,1174.50L109.00,1169.10Z" fill="#FF7700"/>
<path d="M120.00,1163.70L125.40,1169.10L120.00,1174.50L114.60,1169.10Z" fill="#FF7700"/>
<path d="M120.00,1161.70L125.40,1167.10L120.00,1172.50L114.60,1167.10Z" fill="#FF7700"/>
<path d="M127.70,1161.20L133.10,1166.60L127.70,1172.00L122.30,1166.60Z" fill="#FF7700"/>
<path d="M125.50,1162.60L130.90,1168.00L125.50,1173.40L120.10,1168.00Z" fill="#FF7700"/>
<path d="M154.30,1144.80L159.70,1150.20L154.30,1155.60L148.90,1150.20Z" fill="#FF7700"/>
<path d="M143.80,1163.20L149.20,1168.60L143.80,1174.00L138.40,1168.60Z" fill="#FF7700"/>
<path d="M279.90,1107.20L285.30,1112.60L279.90,1118.00L274.50,1112.60Z" fill="#FF7700"/>
<text x="297.30" y="1230.00" font-size="18.3" text-anchor="middle" >Total picocyanobacteria</text>
<text x="297.30" y="1250.30" font-size="18.3" text-anchor="middle" >(×10<tspan font-size="11" dy="-8">5</tspan><tspan dy="8"> cells ml</tspan><tspan font-size="11" dy="-8">−1</tspan><tspan dy="8">)</tspan></text>
<text x="-1.50" y="957.50" font-size="21" text-anchor="start" font-weight="bold">d</text>
<text transform="translate(13.50,1065.00) rotate(-90)" font-size="18.3" text-anchor="middle">Cyanophages</text>
<text transform="translate(36.60,1065.00) rotate(-90)" font-size="18.3" text-anchor="middle">(×10<tspan font-size="11" dy="-8">5</tspan><tspan dy="8"> viruses ml</tspan><tspan font-size="11" dy="-8">−1</tspan><tspan dy="8">)</tspan></text>
<circle cx="536.4" cy="1003.2" r="7.4" fill="#92208F"/>
<text x="556.00" y="1009.60" font-size="18.3" text-anchor="start" >March 2015</text>
<circle cx="536.4" cy="1026.7" r="7.4" fill="#0060AA"/>
<text x="556.00" y="1033.10" font-size="18.3" text-anchor="start" >April 2016</text>
<circle cx="536.4" cy="1051.2" r="7.4" fill="#FF7700"/>
<text x="556.00" y="1057.60" font-size="18.3" text-anchor="start" >June 2017</text>
<circle cx="534.8" cy="1076.8" r="12.1" fill="#A0A0A0"/><circle cx="534.8" cy="1076.8" r="6.4" fill="#000"/>
<text x="556.00" y="1082.90" font-size="18.3" text-anchor="start" >Hotspot</text>
<path d="M528.8,1109 L536.3,1094.2 L543.8,1109 Z" fill="#000"/>
<text x="556.00" y="1108.50" font-size="18.3" text-anchor="start" >Subtropics</text>
<path d="M536.4,1119 L543.8,1126.4 L536.4,1133.8 L529,1126.4 Z" fill="#000"/>
<text x="556.00" y="1132.20" font-size="18.3" text-anchor="start" >Subpolar</text>
</svg></body></html>
